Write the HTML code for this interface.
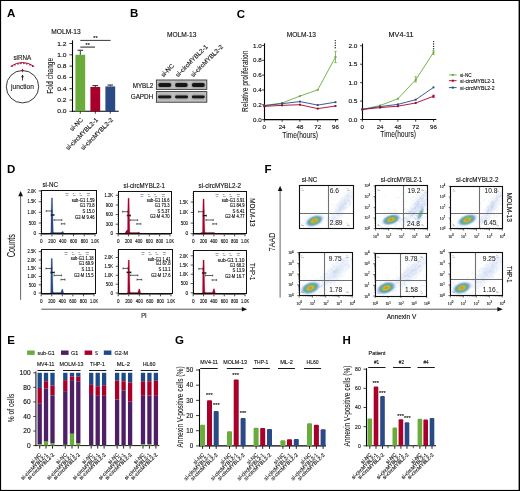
<!DOCTYPE html>
<html><head><meta charset="utf-8"><style>
html,body{margin:0;padding:0;background:#fff;width:520px;height:491px;overflow:hidden}
svg{display:block;will-change:transform}
text{font-family:"Liberation Sans", sans-serif}
</style></head><body>
<svg width="520" height="491" viewBox="0 0 520 491">
<rect width="520" height="491" fill="#fff"/>
<rect x="0" y="0" width="520" height="1" fill="#000"/>
<rect x="0" y="0" width="1.1" height="491" fill="#000"/>
<rect x="518.6" y="0" width="1.4" height="491" fill="#000"/>
<rect x="0" y="489.9" width="520" height="1.1" fill="#000"/>
<text x="6.9" y="16.7" font-size="11.5" text-anchor="start" fill="#000" font-weight="bold">A</text>
<text x="130" y="16.6" font-size="11.5" text-anchor="start" fill="#000" font-weight="bold">B</text>
<text x="236.8" y="17.6" font-size="11.5" text-anchor="start" fill="#000" font-weight="bold">C</text>
<text x="7" y="173.2" font-size="11.5" text-anchor="start" fill="#000" font-weight="bold">D</text>
<text x="7.2" y="343.8" font-size="11.5" text-anchor="start" fill="#000" font-weight="bold">E</text>
<text x="264.6" y="173.4" font-size="11.5" text-anchor="start" fill="#000" font-weight="bold">F</text>
<text x="175" y="344.2" font-size="11.5" text-anchor="start" fill="#000" font-weight="bold">G</text>
<text x="342.6" y="343.9" font-size="11.5" text-anchor="start" fill="#000" font-weight="bold">H</text>
<text x="22.3" y="60.3" font-size="6.6" text-anchor="middle" fill="#222" stroke="#222" stroke-width="0.13" textLength="17.8" lengthAdjust="spacingAndGlyphs">siRNA</text>
<path d="M10.6 66.4 Q22.4 58.6 34.2 66.4" fill="none" stroke="#a8002a" stroke-width="1.0"/>
<circle cx="12.07" cy="66.39" r="0.7" fill="#a8002a"/>
<circle cx="15.02" cy="64.92" r="0.7" fill="#a8002a"/>
<circle cx="17.98" cy="63.95" r="0.7" fill="#a8002a"/>
<circle cx="20.92" cy="63.46" r="0.7" fill="#a8002a"/>
<circle cx="23.88" cy="63.46" r="0.7" fill="#a8002a"/>
<circle cx="26.83" cy="63.95" r="0.7" fill="#a8002a"/>
<circle cx="29.77" cy="64.92" r="0.7" fill="#a8002a"/>
<circle cx="32.73" cy="66.39" r="0.7" fill="#a8002a"/>
<circle cx="22.5" cy="86.7" r="16.2" fill="none" stroke="#222" stroke-width="0.9"/>
<path d="M22.5 68.6 L23.6 70.6 L22.5 72.6 L21.4 70.6 Z" fill="#a8002a"/>
<path d="M22.5 74.4 L23.8 77.2 L22.9 77.2 L22.9 80.4 L22.1 80.4 L22.1 77.2 L21.2 77.2 Z" fill="#111"/>
<text x="22.5" y="89.4" font-size="6.8" text-anchor="middle" fill="#222" stroke="#222" stroke-width="0.13" textLength="23" lengthAdjust="spacingAndGlyphs">junction</text>
<text x="66" y="33.7" font-size="6.6" text-anchor="middle" fill="#111" stroke="#111" stroke-width="0.13" textLength="29.3" lengthAdjust="spacingAndGlyphs">MOLM-13</text>
<line x1="72.5" y1="40.4" x2="72.5" y2="111.5" stroke="#000" stroke-width="1.1"/>
<line x1="72" y1="111.3" x2="118.7" y2="111.3" stroke="#000" stroke-width="1.1"/>
<line x1="69.4" y1="111.3" x2="72.6" y2="111.3" stroke="#111" stroke-width="0.8"/>
<text x="66.6" y="113.35" font-size="5.8" text-anchor="end" fill="#111" stroke="#111" stroke-width="0.13" textLength="9.3" lengthAdjust="spacingAndGlyphs">0.0</text>
<line x1="69.4" y1="100" x2="72.6" y2="100" stroke="#111" stroke-width="0.8"/>
<text x="66.6" y="102.05" font-size="5.8" text-anchor="end" fill="#111" stroke="#111" stroke-width="0.13" textLength="9.3" lengthAdjust="spacingAndGlyphs">0.2</text>
<line x1="69.4" y1="88.7" x2="72.6" y2="88.7" stroke="#111" stroke-width="0.8"/>
<text x="66.6" y="90.75" font-size="5.8" text-anchor="end" fill="#111" stroke="#111" stroke-width="0.13" textLength="9.3" lengthAdjust="spacingAndGlyphs">0.4</text>
<line x1="69.4" y1="77.4" x2="72.6" y2="77.4" stroke="#111" stroke-width="0.8"/>
<text x="66.6" y="79.45" font-size="5.8" text-anchor="end" fill="#111" stroke="#111" stroke-width="0.13" textLength="9.3" lengthAdjust="spacingAndGlyphs">0.6</text>
<line x1="69.4" y1="66.1" x2="72.6" y2="66.1" stroke="#111" stroke-width="0.8"/>
<text x="66.6" y="68.15" font-size="5.8" text-anchor="end" fill="#111" stroke="#111" stroke-width="0.13" textLength="9.3" lengthAdjust="spacingAndGlyphs">0.8</text>
<line x1="69.4" y1="54.8" x2="72.6" y2="54.8" stroke="#111" stroke-width="0.8"/>
<text x="66.6" y="56.85" font-size="5.8" text-anchor="end" fill="#111" stroke="#111" stroke-width="0.13" textLength="9.3" lengthAdjust="spacingAndGlyphs">1.0</text>
<line x1="69.4" y1="43.5" x2="72.6" y2="43.5" stroke="#111" stroke-width="0.8"/>
<text x="66.6" y="45.55" font-size="5.8" text-anchor="end" fill="#111" stroke="#111" stroke-width="0.13" textLength="9.3" lengthAdjust="spacingAndGlyphs">1.2</text>
<text x="52.7" y="75.8" font-size="8.4" text-anchor="middle" fill="#111" stroke="#111" stroke-width="0.05" transform="rotate(-90 52.7 75.8)" textLength="35.8" lengthAdjust="spacingAndGlyphs">Fold change</text>
<rect x="75.4" y="54.8" width="9.8" height="56.5" fill="#6aab3c"/>
<line x1="80.3" y1="50.28" x2="80.3" y2="54.8" stroke="#333" stroke-width="1"/>
<line x1="77.5" y1="50.28" x2="83.1" y2="50.28" stroke="#333" stroke-width="1.1"/>
<line x1="80.3" y1="111.3" x2="80.3" y2="113.7" stroke="#111" stroke-width="0.8"/>
<rect x="90.4" y="87" width="9.8" height="24.3" fill="#a8002a"/>
<line x1="95.3" y1="85.59" x2="95.3" y2="87" stroke="#333" stroke-width="1"/>
<line x1="92.5" y1="85.59" x2="98.1" y2="85.59" stroke="#333" stroke-width="1.1"/>
<line x1="95.3" y1="111.3" x2="95.3" y2="113.7" stroke="#111" stroke-width="0.8"/>
<rect x="105.4" y="86.44" width="9.8" height="24.86" fill="#2a4a86"/>
<line x1="110.3" y1="85.03" x2="110.3" y2="86.44" stroke="#333" stroke-width="1"/>
<line x1="107.5" y1="85.03" x2="113.1" y2="85.03" stroke="#333" stroke-width="1.1"/>
<line x1="110.3" y1="111.3" x2="110.3" y2="113.7" stroke="#111" stroke-width="0.8"/>
<line x1="80.3" y1="40.4" x2="110.6" y2="40.4" stroke="#222" stroke-width="0.9"/>
<line x1="80.3" y1="47.1" x2="95" y2="47.1" stroke="#444" stroke-width="1.2"/>
<text x="95.4" y="40.3" font-size="5.4" text-anchor="middle" fill="#111" stroke="#111" stroke-width="0.13">**</text>
<text x="87.7" y="46.9" font-size="5.4" text-anchor="middle" fill="#111" stroke="#111" stroke-width="0.13">**</text>
<text x="83.5" y="120.4" font-size="6.3" text-anchor="end" fill="#111" stroke="#111" stroke-width="0.13" transform="rotate(-45 83.5 120.4)">si-NC</text>
<text x="98.5" y="120.4" font-size="6.3" text-anchor="end" fill="#111" stroke="#111" stroke-width="0.13" transform="rotate(-45 98.5 120.4)">si-circMYBL2-1</text>
<text x="113.5" y="120.4" font-size="6.3" text-anchor="end" fill="#111" stroke="#111" stroke-width="0.13" transform="rotate(-45 113.5 120.4)">si-circMYBL2-2</text>
<text x="181.7" y="37" font-size="6.8" text-anchor="middle" fill="#111" stroke="#111" stroke-width="0.13" textLength="29.4" lengthAdjust="spacingAndGlyphs">MOLM-13</text>
<text x="163.4" y="77.4" font-size="6.3" text-anchor="start" fill="#111" stroke="#111" stroke-width="0.13" transform="rotate(-45 163.4 77.4)">si-NC</text>
<text x="178" y="77.4" font-size="6.3" text-anchor="start" fill="#111" stroke="#111" stroke-width="0.13" transform="rotate(-45 178 77.4)">si-circMYBL2-1</text>
<text x="193.2" y="77.4" font-size="6.3" text-anchor="start" fill="#111" stroke="#111" stroke-width="0.13" transform="rotate(-45 193.2 77.4)">si-circMYBL2-2</text>
<defs><filter id="bl1" x="-20%" y="-80%" width="140%" height="260%"><feGaussianBlur stdDeviation="0.55"/></filter><filter id="bl2" x="-20%" y="-80%" width="140%" height="260%"><feGaussianBlur stdDeviation="1.1"/></filter></defs>
<rect x="156.4" y="80" width="50.4" height="9.4" fill="#c2c2c2" stroke="#333" stroke-width="0.9"/>
<rect x="156.4" y="91.6" width="50.4" height="10.6" fill="#c2c2c2" stroke="#333" stroke-width="0.9"/>
<rect x="158" y="82.2" width="13.6" height="5.6" rx="2.5" fill="#8a8a8a" filter="url(#bl2)"/>
<rect x="158.3" y="83.0" width="13" height="4.0" rx="2" fill="#141414" filter="url(#bl1)"/>
<rect x="174.8" y="82.2" width="13.2" height="5.6" rx="2.5" fill="#8a8a8a" filter="url(#bl2)"/>
<rect x="175.1" y="83.0" width="12.6" height="4.0" rx="2" fill="#141414" filter="url(#bl1)"/>
<rect x="191.5" y="82.2" width="13.6" height="5.6" rx="2.5" fill="#8a8a8a" filter="url(#bl2)"/>
<rect x="191.8" y="83.0" width="13" height="4.0" rx="2" fill="#141414" filter="url(#bl1)"/>
<rect x="157.8" y="94.8" width="13.8" height="4.2" rx="2" fill="#8a8a8a" filter="url(#bl2)"/>
<rect x="158.1" y="95.5" width="13.2" height="2.8" rx="1.4" fill="#141414" filter="url(#bl1)"/>
<rect x="174.8" y="94.8" width="13.5" height="4.2" rx="2" fill="#8a8a8a" filter="url(#bl2)"/>
<rect x="175.1" y="95.5" width="12.9" height="2.8" rx="1.4" fill="#141414" filter="url(#bl1)"/>
<rect x="191.5" y="94.8" width="13.5" height="4.2" rx="2" fill="#8a8a8a" filter="url(#bl2)"/>
<rect x="191.8" y="95.5" width="12.9" height="2.8" rx="1.4" fill="#141414" filter="url(#bl1)"/>
<text x="153.3" y="87.6" font-size="6.3" text-anchor="end" fill="#111" stroke="#111" stroke-width="0.13" textLength="20.6" lengthAdjust="spacingAndGlyphs">MYBL2</text>
<text x="153.3" y="99.2" font-size="6.3" text-anchor="end" fill="#111" stroke="#111" stroke-width="0.13" textLength="22.6" lengthAdjust="spacingAndGlyphs">GAPDH</text>
<line x1="264.5" y1="43.3" x2="264.5" y2="120.1" stroke="#000" stroke-width="1.1"/>
<line x1="264" y1="119.6" x2="338.3" y2="119.6" stroke="#000" stroke-width="1.1"/>
<line x1="262.1" y1="119.6" x2="264.3" y2="119.6" stroke="#111" stroke-width="0.8"/>
<text x="261.7" y="121.6" font-size="5.8" text-anchor="end" fill="#111" stroke="#111" stroke-width="0.13" textLength="8.7" lengthAdjust="spacingAndGlyphs">0.0</text>
<line x1="262.1" y1="104.78" x2="264.3" y2="104.78" stroke="#111" stroke-width="0.8"/>
<text x="261.7" y="106.78" font-size="5.8" text-anchor="end" fill="#111" stroke="#111" stroke-width="0.13" textLength="8.7" lengthAdjust="spacingAndGlyphs">0.2</text>
<line x1="262.1" y1="89.96" x2="264.3" y2="89.96" stroke="#111" stroke-width="0.8"/>
<text x="261.7" y="91.96" font-size="5.8" text-anchor="end" fill="#111" stroke="#111" stroke-width="0.13" textLength="8.7" lengthAdjust="spacingAndGlyphs">0.4</text>
<line x1="262.1" y1="75.14" x2="264.3" y2="75.14" stroke="#111" stroke-width="0.8"/>
<text x="261.7" y="77.14" font-size="5.8" text-anchor="end" fill="#111" stroke="#111" stroke-width="0.13" textLength="8.7" lengthAdjust="spacingAndGlyphs">0.6</text>
<line x1="262.1" y1="60.32" x2="264.3" y2="60.32" stroke="#111" stroke-width="0.8"/>
<text x="261.7" y="62.32" font-size="5.8" text-anchor="end" fill="#111" stroke="#111" stroke-width="0.13" textLength="8.7" lengthAdjust="spacingAndGlyphs">0.8</text>
<line x1="262.1" y1="45.5" x2="264.3" y2="45.5" stroke="#111" stroke-width="0.8"/>
<text x="261.7" y="47.5" font-size="5.8" text-anchor="end" fill="#111" stroke="#111" stroke-width="0.13" textLength="8.7" lengthAdjust="spacingAndGlyphs">1.0</text>
<line x1="264.3" y1="119.6" x2="264.3" y2="121.8" stroke="#111" stroke-width="0.8"/>
<text x="264.3" y="128.9" font-size="6" text-anchor="middle" fill="#111" stroke="#111" stroke-width="0.13" textLength="3.4" lengthAdjust="spacingAndGlyphs">0</text>
<line x1="282.1" y1="119.6" x2="282.1" y2="121.8" stroke="#111" stroke-width="0.8"/>
<text x="282.1" y="128.9" font-size="6" text-anchor="middle" fill="#111" stroke="#111" stroke-width="0.13" textLength="6.8" lengthAdjust="spacingAndGlyphs">24</text>
<line x1="299.9" y1="119.6" x2="299.9" y2="121.8" stroke="#111" stroke-width="0.8"/>
<text x="299.9" y="128.9" font-size="6" text-anchor="middle" fill="#111" stroke="#111" stroke-width="0.13" textLength="6.8" lengthAdjust="spacingAndGlyphs">48</text>
<line x1="317.7" y1="119.6" x2="317.7" y2="121.8" stroke="#111" stroke-width="0.8"/>
<text x="317.7" y="128.9" font-size="6" text-anchor="middle" fill="#111" stroke="#111" stroke-width="0.13" textLength="6.8" lengthAdjust="spacingAndGlyphs">72</text>
<line x1="335.5" y1="119.6" x2="335.5" y2="121.8" stroke="#111" stroke-width="0.8"/>
<text x="335.5" y="128.9" font-size="6" text-anchor="middle" fill="#111" stroke="#111" stroke-width="0.13" textLength="6.8" lengthAdjust="spacingAndGlyphs">96</text>
<text x="300.2" y="137.5" font-size="8.2" text-anchor="middle" fill="#111" stroke="#111" stroke-width="0.05" textLength="35.8" lengthAdjust="spacingAndGlyphs">Time(hours)</text>
<text x="301.3" y="36.8" font-size="6.8" text-anchor="middle" fill="#111" stroke="#111" stroke-width="0.13" textLength="29.3" lengthAdjust="spacingAndGlyphs">MOLM-13</text>
<polyline points="264.3,105.6 282.1,103 299.9,96.11 317.7,89.89 335.5,56.99" fill="none" stroke="#6aab3c" stroke-width="0.9"/>
<rect x="263.35" y="104.65" width="1.9" height="1.9" fill="#6aab3c"/>
<rect x="281.15" y="102.05" width="1.9" height="1.9" fill="#6aab3c"/>
<rect x="298.95" y="95.16" width="1.9" height="1.9" fill="#6aab3c"/>
<rect x="316.75" y="88.94" width="1.9" height="1.9" fill="#6aab3c"/>
<rect x="334.55" y="56.04" width="1.9" height="1.9" fill="#6aab3c"/>
<polyline points="264.3,105.6 282.1,103.67 299.9,101.59 317.7,105.08 335.5,102.19" fill="none" stroke="#2a4a86" stroke-width="0.9"/>
<rect x="263.35" y="104.65" width="1.9" height="1.9" fill="#2a4a86"/>
<rect x="281.15" y="102.72" width="1.9" height="1.9" fill="#2a4a86"/>
<rect x="298.95" y="100.64" width="1.9" height="1.9" fill="#2a4a86"/>
<rect x="316.75" y="104.13" width="1.9" height="1.9" fill="#2a4a86"/>
<rect x="334.55" y="101.24" width="1.9" height="1.9" fill="#2a4a86"/>
<polyline points="264.3,106.34 282.1,105.37 299.9,104.71 317.7,108.63 335.5,105.97" fill="none" stroke="#a8002a" stroke-width="0.9"/>
<rect x="263.35" y="105.39" width="1.9" height="1.9" fill="#a8002a"/>
<rect x="281.15" y="104.42" width="1.9" height="1.9" fill="#a8002a"/>
<rect x="298.95" y="103.76" width="1.9" height="1.9" fill="#a8002a"/>
<rect x="316.75" y="107.68" width="1.9" height="1.9" fill="#a8002a"/>
<rect x="334.55" y="105.02" width="1.9" height="1.9" fill="#a8002a"/>
<line x1="335.5" y1="51.35" x2="335.5" y2="62.62" stroke="#6aab3c" stroke-width="0.8"/>
<line x1="334.3" y1="51.35" x2="336.7" y2="51.35" stroke="#6aab3c" stroke-width="0.8"/>
<line x1="334.3" y1="62.62" x2="336.7" y2="62.62" stroke="#6aab3c" stroke-width="0.8"/>
<circle cx="335.3" cy="40.6" r="0.72" fill="#222"/>
<circle cx="335.3" cy="43" r="0.72" fill="#222"/>
<circle cx="335.3" cy="45.4" r="0.72" fill="#222"/>
<circle cx="335.3" cy="47.8" r="0.72" fill="#222"/>
<line x1="362.5" y1="43.6" x2="362.5" y2="120" stroke="#000" stroke-width="1.1"/>
<line x1="362" y1="119.5" x2="436.3" y2="119.5" stroke="#000" stroke-width="1.1"/>
<line x1="360.1" y1="119.5" x2="362.3" y2="119.5" stroke="#111" stroke-width="0.8"/>
<text x="357.4" y="121.5" font-size="5.8" text-anchor="end" fill="#111" stroke="#111" stroke-width="0.13" textLength="9" lengthAdjust="spacingAndGlyphs">0.0</text>
<line x1="360.1" y1="101.08" x2="362.3" y2="101.08" stroke="#111" stroke-width="0.8"/>
<text x="357.4" y="103.08" font-size="5.8" text-anchor="end" fill="#111" stroke="#111" stroke-width="0.13" textLength="9" lengthAdjust="spacingAndGlyphs">0.5</text>
<line x1="360.1" y1="82.65" x2="362.3" y2="82.65" stroke="#111" stroke-width="0.8"/>
<text x="357.4" y="84.65" font-size="5.8" text-anchor="end" fill="#111" stroke="#111" stroke-width="0.13" textLength="9" lengthAdjust="spacingAndGlyphs">1.0</text>
<line x1="360.1" y1="64.22" x2="362.3" y2="64.22" stroke="#111" stroke-width="0.8"/>
<text x="357.4" y="66.22" font-size="5.8" text-anchor="end" fill="#111" stroke="#111" stroke-width="0.13" textLength="9" lengthAdjust="spacingAndGlyphs">1.5</text>
<line x1="360.1" y1="45.8" x2="362.3" y2="45.8" stroke="#111" stroke-width="0.8"/>
<text x="357.4" y="47.8" font-size="5.8" text-anchor="end" fill="#111" stroke="#111" stroke-width="0.13" textLength="9" lengthAdjust="spacingAndGlyphs">2.0</text>
<line x1="362.3" y1="119.5" x2="362.3" y2="121.7" stroke="#111" stroke-width="0.8"/>
<text x="362.3" y="128.8" font-size="6" text-anchor="middle" fill="#111" stroke="#111" stroke-width="0.13" textLength="3.4" lengthAdjust="spacingAndGlyphs">0</text>
<line x1="380.1" y1="119.5" x2="380.1" y2="121.7" stroke="#111" stroke-width="0.8"/>
<text x="380.1" y="128.8" font-size="6" text-anchor="middle" fill="#111" stroke="#111" stroke-width="0.13" textLength="6.8" lengthAdjust="spacingAndGlyphs">24</text>
<line x1="397.9" y1="119.5" x2="397.9" y2="121.7" stroke="#111" stroke-width="0.8"/>
<text x="397.9" y="128.8" font-size="6" text-anchor="middle" fill="#111" stroke="#111" stroke-width="0.13" textLength="6.8" lengthAdjust="spacingAndGlyphs">48</text>
<line x1="415.7" y1="119.5" x2="415.7" y2="121.7" stroke="#111" stroke-width="0.8"/>
<text x="415.7" y="128.8" font-size="6" text-anchor="middle" fill="#111" stroke="#111" stroke-width="0.13" textLength="6.8" lengthAdjust="spacingAndGlyphs">72</text>
<line x1="433.5" y1="119.5" x2="433.5" y2="121.7" stroke="#111" stroke-width="0.8"/>
<text x="433.5" y="128.8" font-size="6" text-anchor="middle" fill="#111" stroke="#111" stroke-width="0.13" textLength="6.8" lengthAdjust="spacingAndGlyphs">96</text>
<text x="398.2" y="137.4" font-size="8.2" text-anchor="middle" fill="#111" stroke="#111" stroke-width="0.05" textLength="35.8" lengthAdjust="spacingAndGlyphs">Time(hours)</text>
<text x="401" y="36.8" font-size="6.8" text-anchor="middle" fill="#111" stroke="#111" stroke-width="0.13" textLength="24.9" lengthAdjust="spacingAndGlyphs">MV4-11</text>
<polyline points="362.3,109.4 380.1,105.5 397.9,98.72 415.7,79.89 433.5,52.51" fill="none" stroke="#6aab3c" stroke-width="0.9"/>
<rect x="361.35" y="108.45" width="1.9" height="1.9" fill="#6aab3c"/>
<rect x="379.15" y="104.55" width="1.9" height="1.9" fill="#6aab3c"/>
<rect x="396.95" y="97.77" width="1.9" height="1.9" fill="#6aab3c"/>
<rect x="414.75" y="78.94" width="1.9" height="1.9" fill="#6aab3c"/>
<rect x="432.55" y="51.56" width="1.9" height="1.9" fill="#6aab3c"/>
<polyline points="362.3,109.4 380.1,106.6 397.9,104.39 415.7,99.71 433.5,87.4" fill="none" stroke="#2a4a86" stroke-width="0.9"/>
<rect x="361.35" y="108.45" width="1.9" height="1.9" fill="#2a4a86"/>
<rect x="379.15" y="105.65" width="1.9" height="1.9" fill="#2a4a86"/>
<rect x="396.95" y="103.44" width="1.9" height="1.9" fill="#2a4a86"/>
<rect x="414.75" y="98.76" width="1.9" height="1.9" fill="#2a4a86"/>
<rect x="432.55" y="86.45" width="1.9" height="1.9" fill="#2a4a86"/>
<polyline points="362.3,109.4 380.1,107.6 397.9,106.2 415.7,102.99 433.5,96.28" fill="none" stroke="#a8002a" stroke-width="0.9"/>
<rect x="361.35" y="108.45" width="1.9" height="1.9" fill="#a8002a"/>
<rect x="379.15" y="106.65" width="1.9" height="1.9" fill="#a8002a"/>
<rect x="396.95" y="105.25" width="1.9" height="1.9" fill="#a8002a"/>
<rect x="414.75" y="102.04" width="1.9" height="1.9" fill="#a8002a"/>
<rect x="432.55" y="95.33" width="1.9" height="1.9" fill="#a8002a"/>
<line x1="433.5" y1="50.66" x2="433.5" y2="54.35" stroke="#6aab3c" stroke-width="0.8"/>
<line x1="432.3" y1="50.66" x2="434.7" y2="50.66" stroke="#6aab3c" stroke-width="0.8"/>
<line x1="432.3" y1="54.35" x2="434.7" y2="54.35" stroke="#6aab3c" stroke-width="0.8"/>
<line x1="415.7" y1="76.75" x2="415.7" y2="81.91" stroke="#6aab3c" stroke-width="0.8"/>
<line x1="414.5" y1="76.75" x2="416.9" y2="76.75" stroke="#6aab3c" stroke-width="0.8"/>
<line x1="414.5" y1="81.91" x2="416.9" y2="81.91" stroke="#6aab3c" stroke-width="0.8"/>
<line x1="433.5" y1="95.18" x2="433.5" y2="97.39" stroke="#a8002a" stroke-width="0.8"/>
<line x1="432.3" y1="95.18" x2="434.7" y2="95.18" stroke="#a8002a" stroke-width="0.8"/>
<line x1="432.3" y1="97.39" x2="434.7" y2="97.39" stroke="#a8002a" stroke-width="0.8"/>
<circle cx="433.6" cy="41.6" r="0.72" fill="#222"/>
<circle cx="433.6" cy="44" r="0.72" fill="#222"/>
<circle cx="433.6" cy="46.4" r="0.72" fill="#222"/>
<circle cx="433.6" cy="48.8" r="0.72" fill="#222"/>
<text x="247.7" y="81.2" font-size="8.2" text-anchor="middle" fill="#111" stroke="#111" stroke-width="0.05" transform="rotate(-90 247.7 81.2)" textLength="61.4" lengthAdjust="spacingAndGlyphs">Relative proliferation</text>
<line x1="448.9" y1="74.9" x2="456.6" y2="74.9" stroke="#6aab3c" stroke-width="0.9"/>
<rect x="451.8" y="73.9" width="2" height="2" fill="#6aab3c"/>
<text x="460" y="76.9" font-size="5.6" text-anchor="start" fill="#111" stroke="#111" stroke-width="0.13" textLength="11.6" lengthAdjust="spacingAndGlyphs">si-NC</text>
<line x1="448.9" y1="80.7" x2="456.6" y2="80.7" stroke="#a8002a" stroke-width="0.9"/>
<rect x="451.8" y="79.7" width="2" height="2" fill="#a8002a"/>
<text x="460" y="82.7" font-size="5.6" text-anchor="start" fill="#111" stroke="#111" stroke-width="0.13" textLength="34.6" lengthAdjust="spacingAndGlyphs">si-circMYBL2-1</text>
<line x1="448.9" y1="87.6" x2="456.6" y2="87.6" stroke="#2a4a86" stroke-width="0.9"/>
<rect x="451.8" y="86.6" width="2" height="2" fill="#2a4a86"/>
<text x="460" y="89.6" font-size="5.6" text-anchor="start" fill="#111" stroke="#111" stroke-width="0.13" textLength="34.6" lengthAdjust="spacingAndGlyphs">si-circMYBL2-2</text>
<text x="50.3" y="186.9" font-size="6.3" text-anchor="middle" fill="#111" stroke="#111" stroke-width="0.13" textLength="15.6" lengthAdjust="spacingAndGlyphs">si-NC</text>
<path d="M41.2 233.4 L50.08 233.4 L50.88 231.9 L51.06 213.88 L51.41 197.9 L52.51 197.9 L52.86 215.65 L53.31 231.9 L54.38 232.4 L61.64 232.5 L61.22 232.5 L62.32 231.4 L63.12 231.4 L64.32 233.9 L95 233.9 Z" fill="#2a4a86" stroke="#2a4a86" stroke-width="0.25"/>
<rect x="41.5" y="190.5" width="55" height="43" fill="none" stroke="#111" stroke-width="1.0"/>
<line x1="41.2" y1="233.5" x2="41.2" y2="236.3" stroke="#111" stroke-width="0.8"/>
<line x1="42.28" y1="233.5" x2="42.28" y2="235" stroke="#111" stroke-width="0.6"/>
<line x1="43.35" y1="233.5" x2="43.35" y2="235" stroke="#111" stroke-width="0.6"/>
<line x1="44.43" y1="233.5" x2="44.43" y2="235" stroke="#111" stroke-width="0.6"/>
<line x1="45.5" y1="233.5" x2="45.5" y2="235" stroke="#111" stroke-width="0.6"/>
<line x1="46.58" y1="233.5" x2="46.58" y2="235" stroke="#111" stroke-width="0.6"/>
<line x1="47.66" y1="233.5" x2="47.66" y2="235" stroke="#111" stroke-width="0.6"/>
<line x1="48.73" y1="233.5" x2="48.73" y2="235" stroke="#111" stroke-width="0.6"/>
<line x1="49.81" y1="233.5" x2="49.81" y2="235" stroke="#111" stroke-width="0.6"/>
<line x1="50.88" y1="233.5" x2="50.88" y2="235" stroke="#111" stroke-width="0.6"/>
<line x1="51.96" y1="233.5" x2="51.96" y2="236.3" stroke="#111" stroke-width="0.8"/>
<line x1="53.04" y1="233.5" x2="53.04" y2="235" stroke="#111" stroke-width="0.6"/>
<line x1="54.11" y1="233.5" x2="54.11" y2="235" stroke="#111" stroke-width="0.6"/>
<line x1="55.19" y1="233.5" x2="55.19" y2="235" stroke="#111" stroke-width="0.6"/>
<line x1="56.26" y1="233.5" x2="56.26" y2="235" stroke="#111" stroke-width="0.6"/>
<line x1="57.34" y1="233.5" x2="57.34" y2="235" stroke="#111" stroke-width="0.6"/>
<line x1="58.42" y1="233.5" x2="58.42" y2="235" stroke="#111" stroke-width="0.6"/>
<line x1="59.49" y1="233.5" x2="59.49" y2="235" stroke="#111" stroke-width="0.6"/>
<line x1="60.57" y1="233.5" x2="60.57" y2="235" stroke="#111" stroke-width="0.6"/>
<line x1="61.64" y1="233.5" x2="61.64" y2="235" stroke="#111" stroke-width="0.6"/>
<line x1="62.72" y1="233.5" x2="62.72" y2="236.3" stroke="#111" stroke-width="0.8"/>
<line x1="63.8" y1="233.5" x2="63.8" y2="235" stroke="#111" stroke-width="0.6"/>
<line x1="64.87" y1="233.5" x2="64.87" y2="235" stroke="#111" stroke-width="0.6"/>
<line x1="65.95" y1="233.5" x2="65.95" y2="235" stroke="#111" stroke-width="0.6"/>
<line x1="67.02" y1="233.5" x2="67.02" y2="235" stroke="#111" stroke-width="0.6"/>
<line x1="68.1" y1="233.5" x2="68.1" y2="235" stroke="#111" stroke-width="0.6"/>
<line x1="69.18" y1="233.5" x2="69.18" y2="235" stroke="#111" stroke-width="0.6"/>
<line x1="70.25" y1="233.5" x2="70.25" y2="235" stroke="#111" stroke-width="0.6"/>
<line x1="71.33" y1="233.5" x2="71.33" y2="235" stroke="#111" stroke-width="0.6"/>
<line x1="72.4" y1="233.5" x2="72.4" y2="235" stroke="#111" stroke-width="0.6"/>
<line x1="73.48" y1="233.5" x2="73.48" y2="236.3" stroke="#111" stroke-width="0.8"/>
<line x1="74.56" y1="233.5" x2="74.56" y2="235" stroke="#111" stroke-width="0.6"/>
<line x1="75.63" y1="233.5" x2="75.63" y2="235" stroke="#111" stroke-width="0.6"/>
<line x1="76.71" y1="233.5" x2="76.71" y2="235" stroke="#111" stroke-width="0.6"/>
<line x1="77.78" y1="233.5" x2="77.78" y2="235" stroke="#111" stroke-width="0.6"/>
<line x1="78.86" y1="233.5" x2="78.86" y2="235" stroke="#111" stroke-width="0.6"/>
<line x1="79.94" y1="233.5" x2="79.94" y2="235" stroke="#111" stroke-width="0.6"/>
<line x1="81.01" y1="233.5" x2="81.01" y2="235" stroke="#111" stroke-width="0.6"/>
<line x1="82.09" y1="233.5" x2="82.09" y2="235" stroke="#111" stroke-width="0.6"/>
<line x1="83.16" y1="233.5" x2="83.16" y2="235" stroke="#111" stroke-width="0.6"/>
<line x1="84.24" y1="233.5" x2="84.24" y2="236.3" stroke="#111" stroke-width="0.8"/>
<line x1="85.32" y1="233.5" x2="85.32" y2="235" stroke="#111" stroke-width="0.6"/>
<line x1="86.39" y1="233.5" x2="86.39" y2="235" stroke="#111" stroke-width="0.6"/>
<line x1="87.47" y1="233.5" x2="87.47" y2="235" stroke="#111" stroke-width="0.6"/>
<line x1="88.54" y1="233.5" x2="88.54" y2="235" stroke="#111" stroke-width="0.6"/>
<line x1="89.62" y1="233.5" x2="89.62" y2="235" stroke="#111" stroke-width="0.6"/>
<line x1="90.7" y1="233.5" x2="90.7" y2="235" stroke="#111" stroke-width="0.6"/>
<line x1="91.77" y1="233.5" x2="91.77" y2="235" stroke="#111" stroke-width="0.6"/>
<line x1="92.85" y1="233.5" x2="92.85" y2="235" stroke="#111" stroke-width="0.6"/>
<line x1="93.92" y1="233.5" x2="93.92" y2="235" stroke="#111" stroke-width="0.6"/>
<line x1="95" y1="233.5" x2="95" y2="236.3" stroke="#111" stroke-width="0.8"/>
<text x="41.2" y="243" font-size="4.9" text-anchor="middle" fill="#111" stroke="#111" stroke-width="0.13" textLength="2.6" lengthAdjust="spacingAndGlyphs">0</text>
<text x="51.96" y="243" font-size="4.9" text-anchor="middle" fill="#111" stroke="#111" stroke-width="0.13" textLength="7.2" lengthAdjust="spacingAndGlyphs">200</text>
<text x="62.72" y="243" font-size="4.9" text-anchor="middle" fill="#111" stroke="#111" stroke-width="0.13" textLength="7.2" lengthAdjust="spacingAndGlyphs">400</text>
<text x="73.48" y="243" font-size="4.9" text-anchor="middle" fill="#111" stroke="#111" stroke-width="0.13" textLength="7.2" lengthAdjust="spacingAndGlyphs">600</text>
<text x="84.24" y="243" font-size="4.9" text-anchor="middle" fill="#111" stroke="#111" stroke-width="0.13" textLength="7.2" lengthAdjust="spacingAndGlyphs">800</text>
<text x="95" y="243" font-size="4.9" text-anchor="middle" fill="#111" stroke="#111" stroke-width="0.13" textLength="8" lengthAdjust="spacingAndGlyphs">1.0K</text>
<line x1="38.7" y1="233.6" x2="41.5" y2="233.6" stroke="#111" stroke-width="0.7"/>
<text x="36" y="235.35" font-size="4.9" text-anchor="end" fill="#111" stroke="#111" stroke-width="0.13" textLength="2.6" lengthAdjust="spacingAndGlyphs">0</text>
<line x1="38.7" y1="223" x2="41.5" y2="223" stroke="#111" stroke-width="0.7"/>
<text x="36" y="224.75" font-size="4.9" text-anchor="end" fill="#111" stroke="#111" stroke-width="0.13" textLength="7.2" lengthAdjust="spacingAndGlyphs">500</text>
<line x1="38.7" y1="212.3" x2="41.5" y2="212.3" stroke="#111" stroke-width="0.7"/>
<text x="36" y="214.05" font-size="4.9" text-anchor="end" fill="#111" stroke="#111" stroke-width="0.13" textLength="8.4" lengthAdjust="spacingAndGlyphs">1.0K</text>
<line x1="38.7" y1="201.7" x2="41.5" y2="201.7" stroke="#111" stroke-width="0.7"/>
<text x="36" y="203.45" font-size="4.9" text-anchor="end" fill="#111" stroke="#111" stroke-width="0.13" textLength="8.4" lengthAdjust="spacingAndGlyphs">1.5K</text>
<line x1="38.7" y1="190.9" x2="41.5" y2="190.9" stroke="#111" stroke-width="0.7"/>
<text x="36" y="192.65" font-size="4.9" text-anchor="end" fill="#111" stroke="#111" stroke-width="0.13" textLength="8.4" lengthAdjust="spacingAndGlyphs">2.0K</text>
<line x1="40.4" y1="233.6" x2="41.5" y2="233.6" stroke="#111" stroke-width="0.45"/>
<line x1="40.4" y1="231.48" x2="41.5" y2="231.48" stroke="#111" stroke-width="0.45"/>
<line x1="40.4" y1="229.36" x2="41.5" y2="229.36" stroke="#111" stroke-width="0.45"/>
<line x1="40.4" y1="227.24" x2="41.5" y2="227.24" stroke="#111" stroke-width="0.45"/>
<line x1="40.4" y1="225.12" x2="41.5" y2="225.12" stroke="#111" stroke-width="0.45"/>
<line x1="40.4" y1="223" x2="41.5" y2="223" stroke="#111" stroke-width="0.45"/>
<line x1="40.4" y1="220.88" x2="41.5" y2="220.88" stroke="#111" stroke-width="0.45"/>
<line x1="40.4" y1="218.76" x2="41.5" y2="218.76" stroke="#111" stroke-width="0.45"/>
<line x1="40.4" y1="216.64" x2="41.5" y2="216.64" stroke="#111" stroke-width="0.45"/>
<line x1="40.4" y1="214.52" x2="41.5" y2="214.52" stroke="#111" stroke-width="0.45"/>
<line x1="40.4" y1="212.4" x2="41.5" y2="212.4" stroke="#111" stroke-width="0.45"/>
<line x1="40.4" y1="210.28" x2="41.5" y2="210.28" stroke="#111" stroke-width="0.45"/>
<line x1="40.4" y1="208.16" x2="41.5" y2="208.16" stroke="#111" stroke-width="0.45"/>
<line x1="40.4" y1="206.04" x2="41.5" y2="206.04" stroke="#111" stroke-width="0.45"/>
<line x1="40.4" y1="203.92" x2="41.5" y2="203.92" stroke="#111" stroke-width="0.45"/>
<line x1="40.4" y1="201.8" x2="41.5" y2="201.8" stroke="#111" stroke-width="0.45"/>
<line x1="40.4" y1="199.68" x2="41.5" y2="199.68" stroke="#111" stroke-width="0.45"/>
<line x1="40.4" y1="197.56" x2="41.5" y2="197.56" stroke="#111" stroke-width="0.45"/>
<line x1="40.4" y1="195.44" x2="41.5" y2="195.44" stroke="#111" stroke-width="0.45"/>
<line x1="40.4" y1="193.32" x2="41.5" y2="193.32" stroke="#111" stroke-width="0.45"/>
<line x1="40.4" y1="191.2" x2="41.5" y2="191.2" stroke="#111" stroke-width="0.45"/>
<rect x="65.4" y="193.1" width="3.2" height="0.7" fill="#777"/>
<rect x="65.7" y="195.1" width="2.6" height="0.7" fill="#888"/>
<rect x="72.7" y="193.1" width="1.6" height="0.7" fill="#777"/>
<rect x="73" y="195.1" width="2.6" height="0.7" fill="#888"/>
<rect x="79.3" y="193.1" width="1.6" height="0.7" fill="#777"/>
<rect x="79.6" y="195.1" width="2.6" height="0.7" fill="#888"/>
<rect x="86.7" y="193.1" width="3.2" height="0.7" fill="#777"/>
<rect x="87" y="195.1" width="2.6" height="0.7" fill="#888"/>
<text x="94.5" y="201.9" font-size="4.6" text-anchor="end" fill="#111" stroke="#111" stroke-width="0.13" textLength="22.78" lengthAdjust="spacingAndGlyphs">sub-G1 1.59</text>
<text x="94.5" y="207" font-size="4.6" text-anchor="end" fill="#111" stroke="#111" stroke-width="0.13" textLength="14.73" lengthAdjust="spacingAndGlyphs">G1 73.8</text>
<text x="94.5" y="212.6" font-size="4.6" text-anchor="end" fill="#111" stroke="#111" stroke-width="0.13" textLength="11.97" lengthAdjust="spacingAndGlyphs">S 15.0</text>
<text x="94.5" y="218.8" font-size="4.6" text-anchor="end" fill="#111" stroke="#111" stroke-width="0.13" textLength="19.56" lengthAdjust="spacingAndGlyphs">G2-M 9.46</text>
<line x1="46.3" y1="211" x2="51.7" y2="211" stroke="#1a1a1a" stroke-width="0.7"/>
<line x1="46.3" y1="210" x2="46.3" y2="212" stroke="#1a1a1a" stroke-width="0.6"/>
<line x1="51.7" y1="210" x2="51.7" y2="212" stroke="#1a1a1a" stroke-width="0.6"/>
<line x1="51.2" y1="215" x2="54.1" y2="215" stroke="#1a1a1a" stroke-width="1.3"/>
<line x1="51.2" y1="214" x2="51.2" y2="216" stroke="#1a1a1a" stroke-width="0.6"/>
<line x1="54.1" y1="214" x2="54.1" y2="216" stroke="#1a1a1a" stroke-width="0.6"/>
<line x1="54.1" y1="220" x2="61.8" y2="220" stroke="#1a1a1a" stroke-width="0.7"/>
<line x1="54.1" y1="219" x2="54.1" y2="221" stroke="#1a1a1a" stroke-width="0.6"/>
<line x1="61.8" y1="219" x2="61.8" y2="221" stroke="#1a1a1a" stroke-width="0.6"/>
<line x1="61.3" y1="223.8" x2="64.8" y2="223.8" stroke="#1a1a1a" stroke-width="0.7"/>
<line x1="61.3" y1="222.8" x2="61.3" y2="224.8" stroke="#1a1a1a" stroke-width="0.6"/>
<line x1="64.8" y1="222.8" x2="64.8" y2="224.8" stroke="#1a1a1a" stroke-width="0.6"/>
<text x="144.3" y="187.9" font-size="6.3" text-anchor="middle" fill="#111" stroke="#111" stroke-width="0.13" textLength="41.4" lengthAdjust="spacingAndGlyphs">si-circMYBL2-1</text>
<path d="M118.2 233.4 L124.42 233.4 L125.45 232.28 L126.49 230.6 L127.52 229.8 L127.66 214.04 L128.01 198.2 L129.11 198.2 L129.46 215.8 L129.85 231.9 L130.89 232.4 L137.88 232.5 L137.42 232.5 L138.52 232.2 L139.32 232.2 L140.52 233.9 L170 233.9 Z" fill="#a8002a" stroke="#a8002a" stroke-width="0.25"/>
<rect x="118.5" y="191.5" width="53" height="42" fill="none" stroke="#111" stroke-width="1.0"/>
<line x1="118.2" y1="233.5" x2="118.2" y2="236.3" stroke="#111" stroke-width="0.8"/>
<line x1="119.24" y1="233.5" x2="119.24" y2="235" stroke="#111" stroke-width="0.6"/>
<line x1="120.27" y1="233.5" x2="120.27" y2="235" stroke="#111" stroke-width="0.6"/>
<line x1="121.31" y1="233.5" x2="121.31" y2="235" stroke="#111" stroke-width="0.6"/>
<line x1="122.34" y1="233.5" x2="122.34" y2="235" stroke="#111" stroke-width="0.6"/>
<line x1="123.38" y1="233.5" x2="123.38" y2="235" stroke="#111" stroke-width="0.6"/>
<line x1="124.42" y1="233.5" x2="124.42" y2="235" stroke="#111" stroke-width="0.6"/>
<line x1="125.45" y1="233.5" x2="125.45" y2="235" stroke="#111" stroke-width="0.6"/>
<line x1="126.49" y1="233.5" x2="126.49" y2="235" stroke="#111" stroke-width="0.6"/>
<line x1="127.52" y1="233.5" x2="127.52" y2="235" stroke="#111" stroke-width="0.6"/>
<line x1="128.56" y1="233.5" x2="128.56" y2="236.3" stroke="#111" stroke-width="0.8"/>
<line x1="129.6" y1="233.5" x2="129.6" y2="235" stroke="#111" stroke-width="0.6"/>
<line x1="130.63" y1="233.5" x2="130.63" y2="235" stroke="#111" stroke-width="0.6"/>
<line x1="131.67" y1="233.5" x2="131.67" y2="235" stroke="#111" stroke-width="0.6"/>
<line x1="132.7" y1="233.5" x2="132.7" y2="235" stroke="#111" stroke-width="0.6"/>
<line x1="133.74" y1="233.5" x2="133.74" y2="235" stroke="#111" stroke-width="0.6"/>
<line x1="134.78" y1="233.5" x2="134.78" y2="235" stroke="#111" stroke-width="0.6"/>
<line x1="135.81" y1="233.5" x2="135.81" y2="235" stroke="#111" stroke-width="0.6"/>
<line x1="136.85" y1="233.5" x2="136.85" y2="235" stroke="#111" stroke-width="0.6"/>
<line x1="137.88" y1="233.5" x2="137.88" y2="235" stroke="#111" stroke-width="0.6"/>
<line x1="138.92" y1="233.5" x2="138.92" y2="236.3" stroke="#111" stroke-width="0.8"/>
<line x1="139.96" y1="233.5" x2="139.96" y2="235" stroke="#111" stroke-width="0.6"/>
<line x1="140.99" y1="233.5" x2="140.99" y2="235" stroke="#111" stroke-width="0.6"/>
<line x1="142.03" y1="233.5" x2="142.03" y2="235" stroke="#111" stroke-width="0.6"/>
<line x1="143.06" y1="233.5" x2="143.06" y2="235" stroke="#111" stroke-width="0.6"/>
<line x1="144.1" y1="233.5" x2="144.1" y2="235" stroke="#111" stroke-width="0.6"/>
<line x1="145.14" y1="233.5" x2="145.14" y2="235" stroke="#111" stroke-width="0.6"/>
<line x1="146.17" y1="233.5" x2="146.17" y2="235" stroke="#111" stroke-width="0.6"/>
<line x1="147.21" y1="233.5" x2="147.21" y2="235" stroke="#111" stroke-width="0.6"/>
<line x1="148.24" y1="233.5" x2="148.24" y2="235" stroke="#111" stroke-width="0.6"/>
<line x1="149.28" y1="233.5" x2="149.28" y2="236.3" stroke="#111" stroke-width="0.8"/>
<line x1="150.32" y1="233.5" x2="150.32" y2="235" stroke="#111" stroke-width="0.6"/>
<line x1="151.35" y1="233.5" x2="151.35" y2="235" stroke="#111" stroke-width="0.6"/>
<line x1="152.39" y1="233.5" x2="152.39" y2="235" stroke="#111" stroke-width="0.6"/>
<line x1="153.42" y1="233.5" x2="153.42" y2="235" stroke="#111" stroke-width="0.6"/>
<line x1="154.46" y1="233.5" x2="154.46" y2="235" stroke="#111" stroke-width="0.6"/>
<line x1="155.5" y1="233.5" x2="155.5" y2="235" stroke="#111" stroke-width="0.6"/>
<line x1="156.53" y1="233.5" x2="156.53" y2="235" stroke="#111" stroke-width="0.6"/>
<line x1="157.57" y1="233.5" x2="157.57" y2="235" stroke="#111" stroke-width="0.6"/>
<line x1="158.6" y1="233.5" x2="158.6" y2="235" stroke="#111" stroke-width="0.6"/>
<line x1="159.64" y1="233.5" x2="159.64" y2="236.3" stroke="#111" stroke-width="0.8"/>
<line x1="160.68" y1="233.5" x2="160.68" y2="235" stroke="#111" stroke-width="0.6"/>
<line x1="161.71" y1="233.5" x2="161.71" y2="235" stroke="#111" stroke-width="0.6"/>
<line x1="162.75" y1="233.5" x2="162.75" y2="235" stroke="#111" stroke-width="0.6"/>
<line x1="163.78" y1="233.5" x2="163.78" y2="235" stroke="#111" stroke-width="0.6"/>
<line x1="164.82" y1="233.5" x2="164.82" y2="235" stroke="#111" stroke-width="0.6"/>
<line x1="165.86" y1="233.5" x2="165.86" y2="235" stroke="#111" stroke-width="0.6"/>
<line x1="166.89" y1="233.5" x2="166.89" y2="235" stroke="#111" stroke-width="0.6"/>
<line x1="167.93" y1="233.5" x2="167.93" y2="235" stroke="#111" stroke-width="0.6"/>
<line x1="168.96" y1="233.5" x2="168.96" y2="235" stroke="#111" stroke-width="0.6"/>
<line x1="170" y1="233.5" x2="170" y2="236.3" stroke="#111" stroke-width="0.8"/>
<text x="118.2" y="243" font-size="4.9" text-anchor="middle" fill="#111" stroke="#111" stroke-width="0.13" textLength="2.6" lengthAdjust="spacingAndGlyphs">0</text>
<text x="128.56" y="243" font-size="4.9" text-anchor="middle" fill="#111" stroke="#111" stroke-width="0.13" textLength="7.2" lengthAdjust="spacingAndGlyphs">200</text>
<text x="138.92" y="243" font-size="4.9" text-anchor="middle" fill="#111" stroke="#111" stroke-width="0.13" textLength="7.2" lengthAdjust="spacingAndGlyphs">400</text>
<text x="149.28" y="243" font-size="4.9" text-anchor="middle" fill="#111" stroke="#111" stroke-width="0.13" textLength="7.2" lengthAdjust="spacingAndGlyphs">600</text>
<text x="159.64" y="243" font-size="4.9" text-anchor="middle" fill="#111" stroke="#111" stroke-width="0.13" textLength="7.2" lengthAdjust="spacingAndGlyphs">800</text>
<text x="170" y="243" font-size="4.9" text-anchor="middle" fill="#111" stroke="#111" stroke-width="0.13" textLength="8" lengthAdjust="spacingAndGlyphs">1.0K</text>
<line x1="115.7" y1="233.7" x2="118.5" y2="233.7" stroke="#111" stroke-width="0.7"/>
<text x="113" y="235.45" font-size="4.9" text-anchor="end" fill="#111" stroke="#111" stroke-width="0.13" textLength="2.6" lengthAdjust="spacingAndGlyphs">0</text>
<line x1="115.7" y1="224.2" x2="118.5" y2="224.2" stroke="#111" stroke-width="0.7"/>
<text x="113" y="225.95" font-size="4.9" text-anchor="end" fill="#111" stroke="#111" stroke-width="0.13" textLength="7.2" lengthAdjust="spacingAndGlyphs">300</text>
<line x1="115.7" y1="214.6" x2="118.5" y2="214.6" stroke="#111" stroke-width="0.7"/>
<text x="113" y="216.35" font-size="4.9" text-anchor="end" fill="#111" stroke="#111" stroke-width="0.13" textLength="7.2" lengthAdjust="spacingAndGlyphs">600</text>
<line x1="115.7" y1="205" x2="118.5" y2="205" stroke="#111" stroke-width="0.7"/>
<text x="113" y="206.75" font-size="4.9" text-anchor="end" fill="#111" stroke="#111" stroke-width="0.13" textLength="7.2" lengthAdjust="spacingAndGlyphs">900</text>
<line x1="115.7" y1="195.3" x2="118.5" y2="195.3" stroke="#111" stroke-width="0.7"/>
<text x="113" y="197.05" font-size="4.9" text-anchor="end" fill="#111" stroke="#111" stroke-width="0.13" textLength="8.4" lengthAdjust="spacingAndGlyphs">1.2K</text>
<line x1="117.4" y1="233.7" x2="118.5" y2="233.7" stroke="#111" stroke-width="0.45"/>
<line x1="117.4" y1="231.8" x2="118.5" y2="231.8" stroke="#111" stroke-width="0.45"/>
<line x1="117.4" y1="229.9" x2="118.5" y2="229.9" stroke="#111" stroke-width="0.45"/>
<line x1="117.4" y1="228" x2="118.5" y2="228" stroke="#111" stroke-width="0.45"/>
<line x1="117.4" y1="226.1" x2="118.5" y2="226.1" stroke="#111" stroke-width="0.45"/>
<line x1="117.4" y1="224.2" x2="118.5" y2="224.2" stroke="#111" stroke-width="0.45"/>
<line x1="117.4" y1="222.3" x2="118.5" y2="222.3" stroke="#111" stroke-width="0.45"/>
<line x1="117.4" y1="220.4" x2="118.5" y2="220.4" stroke="#111" stroke-width="0.45"/>
<line x1="117.4" y1="218.5" x2="118.5" y2="218.5" stroke="#111" stroke-width="0.45"/>
<line x1="117.4" y1="216.6" x2="118.5" y2="216.6" stroke="#111" stroke-width="0.45"/>
<line x1="117.4" y1="214.7" x2="118.5" y2="214.7" stroke="#111" stroke-width="0.45"/>
<line x1="117.4" y1="212.8" x2="118.5" y2="212.8" stroke="#111" stroke-width="0.45"/>
<line x1="117.4" y1="210.9" x2="118.5" y2="210.9" stroke="#111" stroke-width="0.45"/>
<line x1="117.4" y1="209" x2="118.5" y2="209" stroke="#111" stroke-width="0.45"/>
<line x1="117.4" y1="207.1" x2="118.5" y2="207.1" stroke="#111" stroke-width="0.45"/>
<line x1="117.4" y1="205.2" x2="118.5" y2="205.2" stroke="#111" stroke-width="0.45"/>
<line x1="117.4" y1="203.3" x2="118.5" y2="203.3" stroke="#111" stroke-width="0.45"/>
<line x1="117.4" y1="201.4" x2="118.5" y2="201.4" stroke="#111" stroke-width="0.45"/>
<line x1="117.4" y1="199.5" x2="118.5" y2="199.5" stroke="#111" stroke-width="0.45"/>
<line x1="117.4" y1="197.6" x2="118.5" y2="197.6" stroke="#111" stroke-width="0.45"/>
<line x1="117.4" y1="195.7" x2="118.5" y2="195.7" stroke="#111" stroke-width="0.45"/>
<line x1="117.4" y1="193.8" x2="118.5" y2="193.8" stroke="#111" stroke-width="0.45"/>
<rect x="140.4" y="194.1" width="3.2" height="0.7" fill="#777"/>
<rect x="140.7" y="196.1" width="2.6" height="0.7" fill="#888"/>
<rect x="147.7" y="194.1" width="1.6" height="0.7" fill="#777"/>
<rect x="148" y="196.1" width="2.6" height="0.7" fill="#888"/>
<rect x="154.3" y="194.1" width="1.6" height="0.7" fill="#777"/>
<rect x="154.6" y="196.1" width="2.6" height="0.7" fill="#888"/>
<rect x="161.7" y="194.1" width="3.2" height="0.7" fill="#777"/>
<rect x="162" y="196.1" width="2.6" height="0.7" fill="#888"/>
<text x="169.5" y="202.4" font-size="4.6" text-anchor="end" fill="#111" stroke="#111" stroke-width="0.13" textLength="22.78" lengthAdjust="spacingAndGlyphs">sub-G1 16.6</text>
<text x="169.5" y="207.2" font-size="4.6" text-anchor="end" fill="#111" stroke="#111" stroke-width="0.13" textLength="14.73" lengthAdjust="spacingAndGlyphs">G1 73.3</text>
<text x="169.5" y="212.6" font-size="4.6" text-anchor="end" fill="#111" stroke="#111" stroke-width="0.13" textLength="11.97" lengthAdjust="spacingAndGlyphs">S 5.37</text>
<text x="169.5" y="218.3" font-size="4.6" text-anchor="end" fill="#111" stroke="#111" stroke-width="0.13" textLength="19.56" lengthAdjust="spacingAndGlyphs">G2-M 4.70</text>
<line x1="122.6" y1="211.7" x2="127.7" y2="211.7" stroke="#1a1a1a" stroke-width="0.7"/>
<line x1="122.6" y1="210.7" x2="122.6" y2="212.7" stroke="#1a1a1a" stroke-width="0.6"/>
<line x1="127.7" y1="210.7" x2="127.7" y2="212.7" stroke="#1a1a1a" stroke-width="0.6"/>
<line x1="127.2" y1="215.5" x2="130.5" y2="215.5" stroke="#1a1a1a" stroke-width="1.3"/>
<line x1="127.2" y1="214.5" x2="127.2" y2="216.5" stroke="#1a1a1a" stroke-width="0.6"/>
<line x1="130.5" y1="214.5" x2="130.5" y2="216.5" stroke="#1a1a1a" stroke-width="0.6"/>
<line x1="130" y1="220.1" x2="137.7" y2="220.1" stroke="#1a1a1a" stroke-width="0.7"/>
<line x1="130" y1="219.1" x2="130" y2="221.1" stroke="#1a1a1a" stroke-width="0.6"/>
<line x1="137.7" y1="219.1" x2="137.7" y2="221.1" stroke="#1a1a1a" stroke-width="0.6"/>
<line x1="136.8" y1="223.9" x2="140.8" y2="223.9" stroke="#1a1a1a" stroke-width="0.7"/>
<line x1="136.8" y1="222.9" x2="136.8" y2="224.9" stroke="#1a1a1a" stroke-width="0.6"/>
<line x1="140.8" y1="222.9" x2="140.8" y2="224.9" stroke="#1a1a1a" stroke-width="0.6"/>
<text x="219.8" y="187.9" font-size="6.3" text-anchor="middle" fill="#111" stroke="#111" stroke-width="0.13" textLength="42.4" lengthAdjust="spacingAndGlyphs">si-circMYBL2-2</text>
<path d="M193.2 233.4 L199.42 233.4 L200.45 233.08 L201.49 232.6 L202.52 232.2 L202.66 214.48 L203.01 199 L204.11 199 L204.46 216.2 L204.85 231.9 L205.89 232.4 L212.88 232.5 L212.42 232.5 L213.52 232.6 L214.32 232.6 L215.52 233.9 L245 233.9 Z" fill="#a8002a" stroke="#a8002a" stroke-width="0.25"/>
<rect x="193.5" y="191.5" width="53" height="42" fill="none" stroke="#111" stroke-width="1.0"/>
<line x1="193.2" y1="233.5" x2="193.2" y2="236.3" stroke="#111" stroke-width="0.8"/>
<line x1="194.24" y1="233.5" x2="194.24" y2="235" stroke="#111" stroke-width="0.6"/>
<line x1="195.27" y1="233.5" x2="195.27" y2="235" stroke="#111" stroke-width="0.6"/>
<line x1="196.31" y1="233.5" x2="196.31" y2="235" stroke="#111" stroke-width="0.6"/>
<line x1="197.34" y1="233.5" x2="197.34" y2="235" stroke="#111" stroke-width="0.6"/>
<line x1="198.38" y1="233.5" x2="198.38" y2="235" stroke="#111" stroke-width="0.6"/>
<line x1="199.42" y1="233.5" x2="199.42" y2="235" stroke="#111" stroke-width="0.6"/>
<line x1="200.45" y1="233.5" x2="200.45" y2="235" stroke="#111" stroke-width="0.6"/>
<line x1="201.49" y1="233.5" x2="201.49" y2="235" stroke="#111" stroke-width="0.6"/>
<line x1="202.52" y1="233.5" x2="202.52" y2="235" stroke="#111" stroke-width="0.6"/>
<line x1="203.56" y1="233.5" x2="203.56" y2="236.3" stroke="#111" stroke-width="0.8"/>
<line x1="204.6" y1="233.5" x2="204.6" y2="235" stroke="#111" stroke-width="0.6"/>
<line x1="205.63" y1="233.5" x2="205.63" y2="235" stroke="#111" stroke-width="0.6"/>
<line x1="206.67" y1="233.5" x2="206.67" y2="235" stroke="#111" stroke-width="0.6"/>
<line x1="207.7" y1="233.5" x2="207.7" y2="235" stroke="#111" stroke-width="0.6"/>
<line x1="208.74" y1="233.5" x2="208.74" y2="235" stroke="#111" stroke-width="0.6"/>
<line x1="209.78" y1="233.5" x2="209.78" y2="235" stroke="#111" stroke-width="0.6"/>
<line x1="210.81" y1="233.5" x2="210.81" y2="235" stroke="#111" stroke-width="0.6"/>
<line x1="211.85" y1="233.5" x2="211.85" y2="235" stroke="#111" stroke-width="0.6"/>
<line x1="212.88" y1="233.5" x2="212.88" y2="235" stroke="#111" stroke-width="0.6"/>
<line x1="213.92" y1="233.5" x2="213.92" y2="236.3" stroke="#111" stroke-width="0.8"/>
<line x1="214.96" y1="233.5" x2="214.96" y2="235" stroke="#111" stroke-width="0.6"/>
<line x1="215.99" y1="233.5" x2="215.99" y2="235" stroke="#111" stroke-width="0.6"/>
<line x1="217.03" y1="233.5" x2="217.03" y2="235" stroke="#111" stroke-width="0.6"/>
<line x1="218.06" y1="233.5" x2="218.06" y2="235" stroke="#111" stroke-width="0.6"/>
<line x1="219.1" y1="233.5" x2="219.1" y2="235" stroke="#111" stroke-width="0.6"/>
<line x1="220.14" y1="233.5" x2="220.14" y2="235" stroke="#111" stroke-width="0.6"/>
<line x1="221.17" y1="233.5" x2="221.17" y2="235" stroke="#111" stroke-width="0.6"/>
<line x1="222.21" y1="233.5" x2="222.21" y2="235" stroke="#111" stroke-width="0.6"/>
<line x1="223.24" y1="233.5" x2="223.24" y2="235" stroke="#111" stroke-width="0.6"/>
<line x1="224.28" y1="233.5" x2="224.28" y2="236.3" stroke="#111" stroke-width="0.8"/>
<line x1="225.32" y1="233.5" x2="225.32" y2="235" stroke="#111" stroke-width="0.6"/>
<line x1="226.35" y1="233.5" x2="226.35" y2="235" stroke="#111" stroke-width="0.6"/>
<line x1="227.39" y1="233.5" x2="227.39" y2="235" stroke="#111" stroke-width="0.6"/>
<line x1="228.42" y1="233.5" x2="228.42" y2="235" stroke="#111" stroke-width="0.6"/>
<line x1="229.46" y1="233.5" x2="229.46" y2="235" stroke="#111" stroke-width="0.6"/>
<line x1="230.5" y1="233.5" x2="230.5" y2="235" stroke="#111" stroke-width="0.6"/>
<line x1="231.53" y1="233.5" x2="231.53" y2="235" stroke="#111" stroke-width="0.6"/>
<line x1="232.57" y1="233.5" x2="232.57" y2="235" stroke="#111" stroke-width="0.6"/>
<line x1="233.6" y1="233.5" x2="233.6" y2="235" stroke="#111" stroke-width="0.6"/>
<line x1="234.64" y1="233.5" x2="234.64" y2="236.3" stroke="#111" stroke-width="0.8"/>
<line x1="235.68" y1="233.5" x2="235.68" y2="235" stroke="#111" stroke-width="0.6"/>
<line x1="236.71" y1="233.5" x2="236.71" y2="235" stroke="#111" stroke-width="0.6"/>
<line x1="237.75" y1="233.5" x2="237.75" y2="235" stroke="#111" stroke-width="0.6"/>
<line x1="238.78" y1="233.5" x2="238.78" y2="235" stroke="#111" stroke-width="0.6"/>
<line x1="239.82" y1="233.5" x2="239.82" y2="235" stroke="#111" stroke-width="0.6"/>
<line x1="240.86" y1="233.5" x2="240.86" y2="235" stroke="#111" stroke-width="0.6"/>
<line x1="241.89" y1="233.5" x2="241.89" y2="235" stroke="#111" stroke-width="0.6"/>
<line x1="242.93" y1="233.5" x2="242.93" y2="235" stroke="#111" stroke-width="0.6"/>
<line x1="243.96" y1="233.5" x2="243.96" y2="235" stroke="#111" stroke-width="0.6"/>
<line x1="245" y1="233.5" x2="245" y2="236.3" stroke="#111" stroke-width="0.8"/>
<text x="193.2" y="243" font-size="4.9" text-anchor="middle" fill="#111" stroke="#111" stroke-width="0.13" textLength="2.6" lengthAdjust="spacingAndGlyphs">0</text>
<text x="203.56" y="243" font-size="4.9" text-anchor="middle" fill="#111" stroke="#111" stroke-width="0.13" textLength="7.2" lengthAdjust="spacingAndGlyphs">200</text>
<text x="213.92" y="243" font-size="4.9" text-anchor="middle" fill="#111" stroke="#111" stroke-width="0.13" textLength="7.2" lengthAdjust="spacingAndGlyphs">400</text>
<text x="224.28" y="243" font-size="4.9" text-anchor="middle" fill="#111" stroke="#111" stroke-width="0.13" textLength="7.2" lengthAdjust="spacingAndGlyphs">600</text>
<text x="234.64" y="243" font-size="4.9" text-anchor="middle" fill="#111" stroke="#111" stroke-width="0.13" textLength="7.2" lengthAdjust="spacingAndGlyphs">800</text>
<text x="245" y="243" font-size="4.9" text-anchor="middle" fill="#111" stroke="#111" stroke-width="0.13" textLength="8" lengthAdjust="spacingAndGlyphs">1.0K</text>
<line x1="190.7" y1="233.7" x2="193.5" y2="233.7" stroke="#111" stroke-width="0.7"/>
<text x="188" y="235.45" font-size="4.9" text-anchor="end" fill="#111" stroke="#111" stroke-width="0.13" textLength="2.6" lengthAdjust="spacingAndGlyphs">0</text>
<line x1="190.7" y1="223.1" x2="193.5" y2="223.1" stroke="#111" stroke-width="0.7"/>
<text x="188" y="224.85" font-size="4.9" text-anchor="end" fill="#111" stroke="#111" stroke-width="0.13" textLength="7.2" lengthAdjust="spacingAndGlyphs">500</text>
<line x1="190.7" y1="212.4" x2="193.5" y2="212.4" stroke="#111" stroke-width="0.7"/>
<text x="188" y="214.15" font-size="4.9" text-anchor="end" fill="#111" stroke="#111" stroke-width="0.13" textLength="8.4" lengthAdjust="spacingAndGlyphs">1.0K</text>
<line x1="190.7" y1="202" x2="193.5" y2="202" stroke="#111" stroke-width="0.7"/>
<text x="188" y="203.75" font-size="4.9" text-anchor="end" fill="#111" stroke="#111" stroke-width="0.13" textLength="8.4" lengthAdjust="spacingAndGlyphs">1.5K</text>
<line x1="192.4" y1="233.7" x2="193.5" y2="233.7" stroke="#111" stroke-width="0.45"/>
<line x1="192.4" y1="231.58" x2="193.5" y2="231.58" stroke="#111" stroke-width="0.45"/>
<line x1="192.4" y1="229.46" x2="193.5" y2="229.46" stroke="#111" stroke-width="0.45"/>
<line x1="192.4" y1="227.34" x2="193.5" y2="227.34" stroke="#111" stroke-width="0.45"/>
<line x1="192.4" y1="225.22" x2="193.5" y2="225.22" stroke="#111" stroke-width="0.45"/>
<line x1="192.4" y1="223.1" x2="193.5" y2="223.1" stroke="#111" stroke-width="0.45"/>
<line x1="192.4" y1="220.98" x2="193.5" y2="220.98" stroke="#111" stroke-width="0.45"/>
<line x1="192.4" y1="218.86" x2="193.5" y2="218.86" stroke="#111" stroke-width="0.45"/>
<line x1="192.4" y1="216.74" x2="193.5" y2="216.74" stroke="#111" stroke-width="0.45"/>
<line x1="192.4" y1="214.62" x2="193.5" y2="214.62" stroke="#111" stroke-width="0.45"/>
<line x1="192.4" y1="212.5" x2="193.5" y2="212.5" stroke="#111" stroke-width="0.45"/>
<line x1="192.4" y1="210.38" x2="193.5" y2="210.38" stroke="#111" stroke-width="0.45"/>
<line x1="192.4" y1="208.26" x2="193.5" y2="208.26" stroke="#111" stroke-width="0.45"/>
<line x1="192.4" y1="206.14" x2="193.5" y2="206.14" stroke="#111" stroke-width="0.45"/>
<line x1="192.4" y1="204.02" x2="193.5" y2="204.02" stroke="#111" stroke-width="0.45"/>
<line x1="192.4" y1="201.9" x2="193.5" y2="201.9" stroke="#111" stroke-width="0.45"/>
<line x1="192.4" y1="199.78" x2="193.5" y2="199.78" stroke="#111" stroke-width="0.45"/>
<line x1="192.4" y1="197.66" x2="193.5" y2="197.66" stroke="#111" stroke-width="0.45"/>
<line x1="192.4" y1="195.54" x2="193.5" y2="195.54" stroke="#111" stroke-width="0.45"/>
<line x1="192.4" y1="193.42" x2="193.5" y2="193.42" stroke="#111" stroke-width="0.45"/>
<rect x="215.4" y="194.1" width="3.2" height="0.7" fill="#777"/>
<rect x="215.7" y="196.1" width="2.6" height="0.7" fill="#888"/>
<rect x="222.7" y="194.1" width="1.6" height="0.7" fill="#777"/>
<rect x="223" y="196.1" width="2.6" height="0.7" fill="#888"/>
<rect x="229.3" y="194.1" width="1.6" height="0.7" fill="#777"/>
<rect x="229.6" y="196.1" width="2.6" height="0.7" fill="#888"/>
<rect x="236.7" y="194.1" width="3.2" height="0.7" fill="#777"/>
<rect x="237" y="196.1" width="2.6" height="0.7" fill="#888"/>
<text x="244.5" y="202" font-size="4.6" text-anchor="end" fill="#111" stroke="#111" stroke-width="0.13" textLength="22.78" lengthAdjust="spacingAndGlyphs">sub-G1 3.91</text>
<text x="244.5" y="207.2" font-size="4.6" text-anchor="end" fill="#111" stroke="#111" stroke-width="0.13" textLength="14.73" lengthAdjust="spacingAndGlyphs">G1 84.9</text>
<text x="244.5" y="212.6" font-size="4.6" text-anchor="end" fill="#111" stroke="#111" stroke-width="0.13" textLength="11.97" lengthAdjust="spacingAndGlyphs">S 6.41</text>
<text x="244.5" y="218.3" font-size="4.6" text-anchor="end" fill="#111" stroke="#111" stroke-width="0.13" textLength="19.56" lengthAdjust="spacingAndGlyphs">G2-M 4.77</text>
<line x1="198.6" y1="211.7" x2="203.8" y2="211.7" stroke="#1a1a1a" stroke-width="0.7"/>
<line x1="198.6" y1="210.7" x2="198.6" y2="212.7" stroke="#1a1a1a" stroke-width="0.6"/>
<line x1="203.8" y1="210.7" x2="203.8" y2="212.7" stroke="#1a1a1a" stroke-width="0.6"/>
<line x1="203.2" y1="215.6" x2="206.5" y2="215.6" stroke="#1a1a1a" stroke-width="1.3"/>
<line x1="203.2" y1="214.6" x2="203.2" y2="216.6" stroke="#1a1a1a" stroke-width="0.6"/>
<line x1="206.5" y1="214.6" x2="206.5" y2="216.6" stroke="#1a1a1a" stroke-width="0.6"/>
<line x1="206" y1="220" x2="213.2" y2="220" stroke="#1a1a1a" stroke-width="0.7"/>
<line x1="206" y1="219" x2="206" y2="221" stroke="#1a1a1a" stroke-width="0.6"/>
<line x1="213.2" y1="219" x2="213.2" y2="221" stroke="#1a1a1a" stroke-width="0.6"/>
<line x1="212.8" y1="223.9" x2="216.6" y2="223.9" stroke="#1a1a1a" stroke-width="0.7"/>
<line x1="212.8" y1="222.9" x2="212.8" y2="224.9" stroke="#1a1a1a" stroke-width="0.6"/>
<line x1="216.6" y1="222.9" x2="216.6" y2="224.9" stroke="#1a1a1a" stroke-width="0.6"/>
<path d="M41.2 293.4 L49.91 293.4 L50.7 291.9 L50.86 274.2 L51.21 258.5 L52.31 258.5 L52.66 275.95 L53.08 291.9 L54.14 292.4 L61.26 292.5 L60.82 292.5 L61.92 289.2 L62.72 289.2 L63.92 293.9 L94 293.9 Z" fill="#2a4a86" stroke="#2a4a86" stroke-width="0.25"/>
<rect x="41.5" y="249.5" width="54" height="44" fill="none" stroke="#111" stroke-width="1.0"/>
<line x1="41.2" y1="293.5" x2="41.2" y2="296.3" stroke="#111" stroke-width="0.8"/>
<line x1="42.26" y1="293.5" x2="42.26" y2="295" stroke="#111" stroke-width="0.6"/>
<line x1="43.31" y1="293.5" x2="43.31" y2="295" stroke="#111" stroke-width="0.6"/>
<line x1="44.37" y1="293.5" x2="44.37" y2="295" stroke="#111" stroke-width="0.6"/>
<line x1="45.42" y1="293.5" x2="45.42" y2="295" stroke="#111" stroke-width="0.6"/>
<line x1="46.48" y1="293.5" x2="46.48" y2="295" stroke="#111" stroke-width="0.6"/>
<line x1="47.54" y1="293.5" x2="47.54" y2="295" stroke="#111" stroke-width="0.6"/>
<line x1="48.59" y1="293.5" x2="48.59" y2="295" stroke="#111" stroke-width="0.6"/>
<line x1="49.65" y1="293.5" x2="49.65" y2="295" stroke="#111" stroke-width="0.6"/>
<line x1="50.7" y1="293.5" x2="50.7" y2="295" stroke="#111" stroke-width="0.6"/>
<line x1="51.76" y1="293.5" x2="51.76" y2="296.3" stroke="#111" stroke-width="0.8"/>
<line x1="52.82" y1="293.5" x2="52.82" y2="295" stroke="#111" stroke-width="0.6"/>
<line x1="53.87" y1="293.5" x2="53.87" y2="295" stroke="#111" stroke-width="0.6"/>
<line x1="54.93" y1="293.5" x2="54.93" y2="295" stroke="#111" stroke-width="0.6"/>
<line x1="55.98" y1="293.5" x2="55.98" y2="295" stroke="#111" stroke-width="0.6"/>
<line x1="57.04" y1="293.5" x2="57.04" y2="295" stroke="#111" stroke-width="0.6"/>
<line x1="58.1" y1="293.5" x2="58.1" y2="295" stroke="#111" stroke-width="0.6"/>
<line x1="59.15" y1="293.5" x2="59.15" y2="295" stroke="#111" stroke-width="0.6"/>
<line x1="60.21" y1="293.5" x2="60.21" y2="295" stroke="#111" stroke-width="0.6"/>
<line x1="61.26" y1="293.5" x2="61.26" y2="295" stroke="#111" stroke-width="0.6"/>
<line x1="62.32" y1="293.5" x2="62.32" y2="296.3" stroke="#111" stroke-width="0.8"/>
<line x1="63.38" y1="293.5" x2="63.38" y2="295" stroke="#111" stroke-width="0.6"/>
<line x1="64.43" y1="293.5" x2="64.43" y2="295" stroke="#111" stroke-width="0.6"/>
<line x1="65.49" y1="293.5" x2="65.49" y2="295" stroke="#111" stroke-width="0.6"/>
<line x1="66.54" y1="293.5" x2="66.54" y2="295" stroke="#111" stroke-width="0.6"/>
<line x1="67.6" y1="293.5" x2="67.6" y2="295" stroke="#111" stroke-width="0.6"/>
<line x1="68.66" y1="293.5" x2="68.66" y2="295" stroke="#111" stroke-width="0.6"/>
<line x1="69.71" y1="293.5" x2="69.71" y2="295" stroke="#111" stroke-width="0.6"/>
<line x1="70.77" y1="293.5" x2="70.77" y2="295" stroke="#111" stroke-width="0.6"/>
<line x1="71.82" y1="293.5" x2="71.82" y2="295" stroke="#111" stroke-width="0.6"/>
<line x1="72.88" y1="293.5" x2="72.88" y2="296.3" stroke="#111" stroke-width="0.8"/>
<line x1="73.94" y1="293.5" x2="73.94" y2="295" stroke="#111" stroke-width="0.6"/>
<line x1="74.99" y1="293.5" x2="74.99" y2="295" stroke="#111" stroke-width="0.6"/>
<line x1="76.05" y1="293.5" x2="76.05" y2="295" stroke="#111" stroke-width="0.6"/>
<line x1="77.1" y1="293.5" x2="77.1" y2="295" stroke="#111" stroke-width="0.6"/>
<line x1="78.16" y1="293.5" x2="78.16" y2="295" stroke="#111" stroke-width="0.6"/>
<line x1="79.22" y1="293.5" x2="79.22" y2="295" stroke="#111" stroke-width="0.6"/>
<line x1="80.27" y1="293.5" x2="80.27" y2="295" stroke="#111" stroke-width="0.6"/>
<line x1="81.33" y1="293.5" x2="81.33" y2="295" stroke="#111" stroke-width="0.6"/>
<line x1="82.38" y1="293.5" x2="82.38" y2="295" stroke="#111" stroke-width="0.6"/>
<line x1="83.44" y1="293.5" x2="83.44" y2="296.3" stroke="#111" stroke-width="0.8"/>
<line x1="84.5" y1="293.5" x2="84.5" y2="295" stroke="#111" stroke-width="0.6"/>
<line x1="85.55" y1="293.5" x2="85.55" y2="295" stroke="#111" stroke-width="0.6"/>
<line x1="86.61" y1="293.5" x2="86.61" y2="295" stroke="#111" stroke-width="0.6"/>
<line x1="87.66" y1="293.5" x2="87.66" y2="295" stroke="#111" stroke-width="0.6"/>
<line x1="88.72" y1="293.5" x2="88.72" y2="295" stroke="#111" stroke-width="0.6"/>
<line x1="89.78" y1="293.5" x2="89.78" y2="295" stroke="#111" stroke-width="0.6"/>
<line x1="90.83" y1="293.5" x2="90.83" y2="295" stroke="#111" stroke-width="0.6"/>
<line x1="91.89" y1="293.5" x2="91.89" y2="295" stroke="#111" stroke-width="0.6"/>
<line x1="92.94" y1="293.5" x2="92.94" y2="295" stroke="#111" stroke-width="0.6"/>
<line x1="94" y1="293.5" x2="94" y2="296.3" stroke="#111" stroke-width="0.8"/>
<text x="41.2" y="303" font-size="4.9" text-anchor="middle" fill="#111" stroke="#111" stroke-width="0.13" textLength="2.6" lengthAdjust="spacingAndGlyphs">0</text>
<text x="51.76" y="303" font-size="4.9" text-anchor="middle" fill="#111" stroke="#111" stroke-width="0.13" textLength="7.2" lengthAdjust="spacingAndGlyphs">200</text>
<text x="62.32" y="303" font-size="4.9" text-anchor="middle" fill="#111" stroke="#111" stroke-width="0.13" textLength="7.2" lengthAdjust="spacingAndGlyphs">400</text>
<text x="72.88" y="303" font-size="4.9" text-anchor="middle" fill="#111" stroke="#111" stroke-width="0.13" textLength="7.2" lengthAdjust="spacingAndGlyphs">600</text>
<text x="83.44" y="303" font-size="4.9" text-anchor="middle" fill="#111" stroke="#111" stroke-width="0.13" textLength="7.2" lengthAdjust="spacingAndGlyphs">800</text>
<text x="94" y="303" font-size="4.9" text-anchor="middle" fill="#111" stroke="#111" stroke-width="0.13" textLength="8" lengthAdjust="spacingAndGlyphs">1.0K</text>
<line x1="38.7" y1="293" x2="41.5" y2="293" stroke="#111" stroke-width="0.7"/>
<text x="36" y="294.75" font-size="4.9" text-anchor="end" fill="#111" stroke="#111" stroke-width="0.13" textLength="2.6" lengthAdjust="spacingAndGlyphs">0</text>
<line x1="38.7" y1="284.8" x2="41.5" y2="284.8" stroke="#111" stroke-width="0.7"/>
<text x="36" y="286.55" font-size="4.9" text-anchor="end" fill="#111" stroke="#111" stroke-width="0.13" textLength="7.2" lengthAdjust="spacingAndGlyphs">500</text>
<line x1="38.7" y1="276.5" x2="41.5" y2="276.5" stroke="#111" stroke-width="0.7"/>
<text x="36" y="278.25" font-size="4.9" text-anchor="end" fill="#111" stroke="#111" stroke-width="0.13" textLength="8.4" lengthAdjust="spacingAndGlyphs">1.0K</text>
<line x1="38.7" y1="268.2" x2="41.5" y2="268.2" stroke="#111" stroke-width="0.7"/>
<text x="36" y="269.95" font-size="4.9" text-anchor="end" fill="#111" stroke="#111" stroke-width="0.13" textLength="8.4" lengthAdjust="spacingAndGlyphs">1.5K</text>
<line x1="38.7" y1="260" x2="41.5" y2="260" stroke="#111" stroke-width="0.7"/>
<text x="36" y="261.75" font-size="4.9" text-anchor="end" fill="#111" stroke="#111" stroke-width="0.13" textLength="8.4" lengthAdjust="spacingAndGlyphs">2.0K</text>
<line x1="38.7" y1="251.6" x2="41.5" y2="251.6" stroke="#111" stroke-width="0.7"/>
<text x="36" y="253.35" font-size="4.9" text-anchor="end" fill="#111" stroke="#111" stroke-width="0.13" textLength="8.4" lengthAdjust="spacingAndGlyphs">2.5K</text>
<line x1="40.4" y1="293" x2="41.5" y2="293" stroke="#111" stroke-width="0.45"/>
<line x1="40.4" y1="291.36" x2="41.5" y2="291.36" stroke="#111" stroke-width="0.45"/>
<line x1="40.4" y1="289.72" x2="41.5" y2="289.72" stroke="#111" stroke-width="0.45"/>
<line x1="40.4" y1="288.08" x2="41.5" y2="288.08" stroke="#111" stroke-width="0.45"/>
<line x1="40.4" y1="286.44" x2="41.5" y2="286.44" stroke="#111" stroke-width="0.45"/>
<line x1="40.4" y1="284.8" x2="41.5" y2="284.8" stroke="#111" stroke-width="0.45"/>
<line x1="40.4" y1="283.16" x2="41.5" y2="283.16" stroke="#111" stroke-width="0.45"/>
<line x1="40.4" y1="281.52" x2="41.5" y2="281.52" stroke="#111" stroke-width="0.45"/>
<line x1="40.4" y1="279.88" x2="41.5" y2="279.88" stroke="#111" stroke-width="0.45"/>
<line x1="40.4" y1="278.24" x2="41.5" y2="278.24" stroke="#111" stroke-width="0.45"/>
<line x1="40.4" y1="276.6" x2="41.5" y2="276.6" stroke="#111" stroke-width="0.45"/>
<line x1="40.4" y1="274.96" x2="41.5" y2="274.96" stroke="#111" stroke-width="0.45"/>
<line x1="40.4" y1="273.32" x2="41.5" y2="273.32" stroke="#111" stroke-width="0.45"/>
<line x1="40.4" y1="271.68" x2="41.5" y2="271.68" stroke="#111" stroke-width="0.45"/>
<line x1="40.4" y1="270.04" x2="41.5" y2="270.04" stroke="#111" stroke-width="0.45"/>
<line x1="40.4" y1="268.4" x2="41.5" y2="268.4" stroke="#111" stroke-width="0.45"/>
<line x1="40.4" y1="266.76" x2="41.5" y2="266.76" stroke="#111" stroke-width="0.45"/>
<line x1="40.4" y1="265.12" x2="41.5" y2="265.12" stroke="#111" stroke-width="0.45"/>
<line x1="40.4" y1="263.48" x2="41.5" y2="263.48" stroke="#111" stroke-width="0.45"/>
<line x1="40.4" y1="261.84" x2="41.5" y2="261.84" stroke="#111" stroke-width="0.45"/>
<line x1="40.4" y1="260.2" x2="41.5" y2="260.2" stroke="#111" stroke-width="0.45"/>
<line x1="40.4" y1="258.56" x2="41.5" y2="258.56" stroke="#111" stroke-width="0.45"/>
<line x1="40.4" y1="256.92" x2="41.5" y2="256.92" stroke="#111" stroke-width="0.45"/>
<line x1="40.4" y1="255.28" x2="41.5" y2="255.28" stroke="#111" stroke-width="0.45"/>
<line x1="40.4" y1="253.64" x2="41.5" y2="253.64" stroke="#111" stroke-width="0.45"/>
<line x1="40.4" y1="252" x2="41.5" y2="252" stroke="#111" stroke-width="0.45"/>
<line x1="40.4" y1="250.36" x2="41.5" y2="250.36" stroke="#111" stroke-width="0.45"/>
<rect x="64.4" y="252.1" width="3.2" height="0.7" fill="#777"/>
<rect x="64.7" y="254.1" width="2.6" height="0.7" fill="#888"/>
<rect x="71.7" y="252.1" width="1.6" height="0.7" fill="#777"/>
<rect x="72" y="254.1" width="2.6" height="0.7" fill="#888"/>
<rect x="78.3" y="252.1" width="1.6" height="0.7" fill="#777"/>
<rect x="78.6" y="254.1" width="2.6" height="0.7" fill="#888"/>
<rect x="85.7" y="252.1" width="3.2" height="0.7" fill="#777"/>
<rect x="86" y="254.1" width="2.6" height="0.7" fill="#888"/>
<text x="93.5" y="259.6" font-size="4.6" text-anchor="end" fill="#111" stroke="#111" stroke-width="0.13" textLength="22.78" lengthAdjust="spacingAndGlyphs">sub-G1 1.18</text>
<text x="93.5" y="265.3" font-size="4.6" text-anchor="end" fill="#111" stroke="#111" stroke-width="0.13" textLength="14.73" lengthAdjust="spacingAndGlyphs">G1 69.9</text>
<text x="93.5" y="270.6" font-size="4.6" text-anchor="end" fill="#111" stroke="#111" stroke-width="0.13" textLength="11.97" lengthAdjust="spacingAndGlyphs">S 13.1</text>
<text x="93.5" y="276.8" font-size="4.6" text-anchor="end" fill="#111" stroke="#111" stroke-width="0.13" textLength="19.56" lengthAdjust="spacingAndGlyphs">G2-M 15.5</text>
<line x1="46" y1="268.5" x2="51.3" y2="268.5" stroke="#1a1a1a" stroke-width="0.7"/>
<line x1="46" y1="267.5" x2="46" y2="269.5" stroke="#1a1a1a" stroke-width="0.6"/>
<line x1="51.3" y1="267.5" x2="51.3" y2="269.5" stroke="#1a1a1a" stroke-width="0.6"/>
<line x1="50.8" y1="272.5" x2="54.5" y2="272.5" stroke="#1a1a1a" stroke-width="1.3"/>
<line x1="50.8" y1="271.5" x2="50.8" y2="273.5" stroke="#1a1a1a" stroke-width="0.6"/>
<line x1="54.5" y1="271.5" x2="54.5" y2="273.5" stroke="#1a1a1a" stroke-width="0.6"/>
<line x1="54" y1="275.4" x2="61.5" y2="275.4" stroke="#1a1a1a" stroke-width="0.7"/>
<line x1="54" y1="274.4" x2="54" y2="276.4" stroke="#1a1a1a" stroke-width="0.6"/>
<line x1="61.5" y1="274.4" x2="61.5" y2="276.4" stroke="#1a1a1a" stroke-width="0.6"/>
<line x1="61" y1="279.6" x2="65" y2="279.6" stroke="#1a1a1a" stroke-width="0.7"/>
<line x1="61" y1="278.6" x2="61" y2="280.6" stroke="#1a1a1a" stroke-width="0.6"/>
<line x1="65" y1="278.6" x2="65" y2="280.6" stroke="#1a1a1a" stroke-width="0.6"/>
<path d="M118.2 293.4 L126.91 293.4 L127.7 291.9 L127.86 275.08 L128.21 260.1 L129.31 260.1 L129.66 276.75 L130.08 291.9 L131.14 292.4 L138.26 292.5 L137.82 292.5 L138.92 289 L139.72 289 L140.92 293.9 L171 293.9 Z" fill="#a8002a" stroke="#a8002a" stroke-width="0.25"/>
<rect x="118.5" y="249.5" width="54" height="44" fill="none" stroke="#111" stroke-width="1.0"/>
<line x1="118.2" y1="293.5" x2="118.2" y2="296.3" stroke="#111" stroke-width="0.8"/>
<line x1="119.26" y1="293.5" x2="119.26" y2="295" stroke="#111" stroke-width="0.6"/>
<line x1="120.31" y1="293.5" x2="120.31" y2="295" stroke="#111" stroke-width="0.6"/>
<line x1="121.37" y1="293.5" x2="121.37" y2="295" stroke="#111" stroke-width="0.6"/>
<line x1="122.42" y1="293.5" x2="122.42" y2="295" stroke="#111" stroke-width="0.6"/>
<line x1="123.48" y1="293.5" x2="123.48" y2="295" stroke="#111" stroke-width="0.6"/>
<line x1="124.54" y1="293.5" x2="124.54" y2="295" stroke="#111" stroke-width="0.6"/>
<line x1="125.59" y1="293.5" x2="125.59" y2="295" stroke="#111" stroke-width="0.6"/>
<line x1="126.65" y1="293.5" x2="126.65" y2="295" stroke="#111" stroke-width="0.6"/>
<line x1="127.7" y1="293.5" x2="127.7" y2="295" stroke="#111" stroke-width="0.6"/>
<line x1="128.76" y1="293.5" x2="128.76" y2="296.3" stroke="#111" stroke-width="0.8"/>
<line x1="129.82" y1="293.5" x2="129.82" y2="295" stroke="#111" stroke-width="0.6"/>
<line x1="130.87" y1="293.5" x2="130.87" y2="295" stroke="#111" stroke-width="0.6"/>
<line x1="131.93" y1="293.5" x2="131.93" y2="295" stroke="#111" stroke-width="0.6"/>
<line x1="132.98" y1="293.5" x2="132.98" y2="295" stroke="#111" stroke-width="0.6"/>
<line x1="134.04" y1="293.5" x2="134.04" y2="295" stroke="#111" stroke-width="0.6"/>
<line x1="135.1" y1="293.5" x2="135.1" y2="295" stroke="#111" stroke-width="0.6"/>
<line x1="136.15" y1="293.5" x2="136.15" y2="295" stroke="#111" stroke-width="0.6"/>
<line x1="137.21" y1="293.5" x2="137.21" y2="295" stroke="#111" stroke-width="0.6"/>
<line x1="138.26" y1="293.5" x2="138.26" y2="295" stroke="#111" stroke-width="0.6"/>
<line x1="139.32" y1="293.5" x2="139.32" y2="296.3" stroke="#111" stroke-width="0.8"/>
<line x1="140.38" y1="293.5" x2="140.38" y2="295" stroke="#111" stroke-width="0.6"/>
<line x1="141.43" y1="293.5" x2="141.43" y2="295" stroke="#111" stroke-width="0.6"/>
<line x1="142.49" y1="293.5" x2="142.49" y2="295" stroke="#111" stroke-width="0.6"/>
<line x1="143.54" y1="293.5" x2="143.54" y2="295" stroke="#111" stroke-width="0.6"/>
<line x1="144.6" y1="293.5" x2="144.6" y2="295" stroke="#111" stroke-width="0.6"/>
<line x1="145.66" y1="293.5" x2="145.66" y2="295" stroke="#111" stroke-width="0.6"/>
<line x1="146.71" y1="293.5" x2="146.71" y2="295" stroke="#111" stroke-width="0.6"/>
<line x1="147.77" y1="293.5" x2="147.77" y2="295" stroke="#111" stroke-width="0.6"/>
<line x1="148.82" y1="293.5" x2="148.82" y2="295" stroke="#111" stroke-width="0.6"/>
<line x1="149.88" y1="293.5" x2="149.88" y2="296.3" stroke="#111" stroke-width="0.8"/>
<line x1="150.94" y1="293.5" x2="150.94" y2="295" stroke="#111" stroke-width="0.6"/>
<line x1="151.99" y1="293.5" x2="151.99" y2="295" stroke="#111" stroke-width="0.6"/>
<line x1="153.05" y1="293.5" x2="153.05" y2="295" stroke="#111" stroke-width="0.6"/>
<line x1="154.1" y1="293.5" x2="154.1" y2="295" stroke="#111" stroke-width="0.6"/>
<line x1="155.16" y1="293.5" x2="155.16" y2="295" stroke="#111" stroke-width="0.6"/>
<line x1="156.22" y1="293.5" x2="156.22" y2="295" stroke="#111" stroke-width="0.6"/>
<line x1="157.27" y1="293.5" x2="157.27" y2="295" stroke="#111" stroke-width="0.6"/>
<line x1="158.33" y1="293.5" x2="158.33" y2="295" stroke="#111" stroke-width="0.6"/>
<line x1="159.38" y1="293.5" x2="159.38" y2="295" stroke="#111" stroke-width="0.6"/>
<line x1="160.44" y1="293.5" x2="160.44" y2="296.3" stroke="#111" stroke-width="0.8"/>
<line x1="161.5" y1="293.5" x2="161.5" y2="295" stroke="#111" stroke-width="0.6"/>
<line x1="162.55" y1="293.5" x2="162.55" y2="295" stroke="#111" stroke-width="0.6"/>
<line x1="163.61" y1="293.5" x2="163.61" y2="295" stroke="#111" stroke-width="0.6"/>
<line x1="164.66" y1="293.5" x2="164.66" y2="295" stroke="#111" stroke-width="0.6"/>
<line x1="165.72" y1="293.5" x2="165.72" y2="295" stroke="#111" stroke-width="0.6"/>
<line x1="166.78" y1="293.5" x2="166.78" y2="295" stroke="#111" stroke-width="0.6"/>
<line x1="167.83" y1="293.5" x2="167.83" y2="295" stroke="#111" stroke-width="0.6"/>
<line x1="168.89" y1="293.5" x2="168.89" y2="295" stroke="#111" stroke-width="0.6"/>
<line x1="169.94" y1="293.5" x2="169.94" y2="295" stroke="#111" stroke-width="0.6"/>
<line x1="171" y1="293.5" x2="171" y2="296.3" stroke="#111" stroke-width="0.8"/>
<text x="118.2" y="303" font-size="4.9" text-anchor="middle" fill="#111" stroke="#111" stroke-width="0.13" textLength="2.6" lengthAdjust="spacingAndGlyphs">0</text>
<text x="128.76" y="303" font-size="4.9" text-anchor="middle" fill="#111" stroke="#111" stroke-width="0.13" textLength="7.2" lengthAdjust="spacingAndGlyphs">200</text>
<text x="139.32" y="303" font-size="4.9" text-anchor="middle" fill="#111" stroke="#111" stroke-width="0.13" textLength="7.2" lengthAdjust="spacingAndGlyphs">400</text>
<text x="149.88" y="303" font-size="4.9" text-anchor="middle" fill="#111" stroke="#111" stroke-width="0.13" textLength="7.2" lengthAdjust="spacingAndGlyphs">600</text>
<text x="160.44" y="303" font-size="4.9" text-anchor="middle" fill="#111" stroke="#111" stroke-width="0.13" textLength="7.2" lengthAdjust="spacingAndGlyphs">800</text>
<text x="171" y="303" font-size="4.9" text-anchor="middle" fill="#111" stroke="#111" stroke-width="0.13" textLength="8" lengthAdjust="spacingAndGlyphs">1.0K</text>
<line x1="115.7" y1="293" x2="118.5" y2="293" stroke="#111" stroke-width="0.7"/>
<text x="113" y="294.75" font-size="4.9" text-anchor="end" fill="#111" stroke="#111" stroke-width="0.13" textLength="2.6" lengthAdjust="spacingAndGlyphs">0</text>
<line x1="115.7" y1="284.2" x2="118.5" y2="284.2" stroke="#111" stroke-width="0.7"/>
<text x="113" y="285.95" font-size="4.9" text-anchor="end" fill="#111" stroke="#111" stroke-width="0.13" textLength="7.2" lengthAdjust="spacingAndGlyphs">500</text>
<line x1="115.7" y1="275.3" x2="118.5" y2="275.3" stroke="#111" stroke-width="0.7"/>
<text x="113" y="277.05" font-size="4.9" text-anchor="end" fill="#111" stroke="#111" stroke-width="0.13" textLength="8.4" lengthAdjust="spacingAndGlyphs">1.0K</text>
<line x1="115.7" y1="266.3" x2="118.5" y2="266.3" stroke="#111" stroke-width="0.7"/>
<text x="113" y="268.05" font-size="4.9" text-anchor="end" fill="#111" stroke="#111" stroke-width="0.13" textLength="8.4" lengthAdjust="spacingAndGlyphs">1.5K</text>
<line x1="115.7" y1="257.5" x2="118.5" y2="257.5" stroke="#111" stroke-width="0.7"/>
<text x="113" y="259.25" font-size="4.9" text-anchor="end" fill="#111" stroke="#111" stroke-width="0.13" textLength="8.4" lengthAdjust="spacingAndGlyphs">2.0K</text>
<line x1="117.4" y1="293" x2="118.5" y2="293" stroke="#111" stroke-width="0.45"/>
<line x1="117.4" y1="291.24" x2="118.5" y2="291.24" stroke="#111" stroke-width="0.45"/>
<line x1="117.4" y1="289.48" x2="118.5" y2="289.48" stroke="#111" stroke-width="0.45"/>
<line x1="117.4" y1="287.72" x2="118.5" y2="287.72" stroke="#111" stroke-width="0.45"/>
<line x1="117.4" y1="285.96" x2="118.5" y2="285.96" stroke="#111" stroke-width="0.45"/>
<line x1="117.4" y1="284.2" x2="118.5" y2="284.2" stroke="#111" stroke-width="0.45"/>
<line x1="117.4" y1="282.44" x2="118.5" y2="282.44" stroke="#111" stroke-width="0.45"/>
<line x1="117.4" y1="280.68" x2="118.5" y2="280.68" stroke="#111" stroke-width="0.45"/>
<line x1="117.4" y1="278.92" x2="118.5" y2="278.92" stroke="#111" stroke-width="0.45"/>
<line x1="117.4" y1="277.16" x2="118.5" y2="277.16" stroke="#111" stroke-width="0.45"/>
<line x1="117.4" y1="275.4" x2="118.5" y2="275.4" stroke="#111" stroke-width="0.45"/>
<line x1="117.4" y1="273.64" x2="118.5" y2="273.64" stroke="#111" stroke-width="0.45"/>
<line x1="117.4" y1="271.88" x2="118.5" y2="271.88" stroke="#111" stroke-width="0.45"/>
<line x1="117.4" y1="270.12" x2="118.5" y2="270.12" stroke="#111" stroke-width="0.45"/>
<line x1="117.4" y1="268.36" x2="118.5" y2="268.36" stroke="#111" stroke-width="0.45"/>
<line x1="117.4" y1="266.6" x2="118.5" y2="266.6" stroke="#111" stroke-width="0.45"/>
<line x1="117.4" y1="264.84" x2="118.5" y2="264.84" stroke="#111" stroke-width="0.45"/>
<line x1="117.4" y1="263.08" x2="118.5" y2="263.08" stroke="#111" stroke-width="0.45"/>
<line x1="117.4" y1="261.32" x2="118.5" y2="261.32" stroke="#111" stroke-width="0.45"/>
<line x1="117.4" y1="259.56" x2="118.5" y2="259.56" stroke="#111" stroke-width="0.45"/>
<line x1="117.4" y1="257.8" x2="118.5" y2="257.8" stroke="#111" stroke-width="0.45"/>
<line x1="117.4" y1="256.04" x2="118.5" y2="256.04" stroke="#111" stroke-width="0.45"/>
<line x1="117.4" y1="254.28" x2="118.5" y2="254.28" stroke="#111" stroke-width="0.45"/>
<line x1="117.4" y1="252.52" x2="118.5" y2="252.52" stroke="#111" stroke-width="0.45"/>
<line x1="117.4" y1="250.76" x2="118.5" y2="250.76" stroke="#111" stroke-width="0.45"/>
<rect x="141.4" y="252.1" width="3.2" height="0.7" fill="#777"/>
<rect x="141.7" y="254.1" width="2.6" height="0.7" fill="#888"/>
<rect x="148.7" y="252.1" width="1.6" height="0.7" fill="#777"/>
<rect x="149" y="254.1" width="2.6" height="0.7" fill="#888"/>
<rect x="155.3" y="252.1" width="1.6" height="0.7" fill="#777"/>
<rect x="155.6" y="254.1" width="2.6" height="0.7" fill="#888"/>
<rect x="162.7" y="252.1" width="3.2" height="0.7" fill="#777"/>
<rect x="163" y="254.1" width="2.6" height="0.7" fill="#888"/>
<text x="170.5" y="260.6" font-size="4.6" text-anchor="end" fill="#111" stroke="#111" stroke-width="0.13" textLength="22.78" lengthAdjust="spacingAndGlyphs">sub-G1 1.41</text>
<text x="170.5" y="265.4" font-size="4.6" text-anchor="end" fill="#111" stroke="#111" stroke-width="0.13" textLength="14.73" lengthAdjust="spacingAndGlyphs">G1 67.8</text>
<text x="170.5" y="270.6" font-size="4.6" text-anchor="end" fill="#111" stroke="#111" stroke-width="0.13" textLength="11.97" lengthAdjust="spacingAndGlyphs">S 13.1</text>
<text x="170.5" y="277.2" font-size="4.6" text-anchor="end" fill="#111" stroke="#111" stroke-width="0.13" textLength="19.56" lengthAdjust="spacingAndGlyphs">G2-M 17.6</text>
<line x1="123" y1="268.4" x2="127.8" y2="268.4" stroke="#1a1a1a" stroke-width="0.7"/>
<line x1="123" y1="267.4" x2="123" y2="269.4" stroke="#1a1a1a" stroke-width="0.6"/>
<line x1="127.8" y1="267.4" x2="127.8" y2="269.4" stroke="#1a1a1a" stroke-width="0.6"/>
<line x1="126.9" y1="272.4" x2="131" y2="272.4" stroke="#1a1a1a" stroke-width="1.3"/>
<line x1="126.9" y1="271.4" x2="126.9" y2="273.4" stroke="#1a1a1a" stroke-width="0.6"/>
<line x1="131" y1="271.4" x2="131" y2="273.4" stroke="#1a1a1a" stroke-width="0.6"/>
<line x1="130.2" y1="275.3" x2="137.9" y2="275.3" stroke="#1a1a1a" stroke-width="0.7"/>
<line x1="130.2" y1="274.3" x2="130.2" y2="276.3" stroke="#1a1a1a" stroke-width="0.6"/>
<line x1="137.9" y1="274.3" x2="137.9" y2="276.3" stroke="#1a1a1a" stroke-width="0.6"/>
<line x1="137" y1="279.6" x2="141.8" y2="279.6" stroke="#1a1a1a" stroke-width="0.7"/>
<line x1="137" y1="278.6" x2="137" y2="280.6" stroke="#1a1a1a" stroke-width="0.6"/>
<line x1="141.8" y1="278.6" x2="141.8" y2="280.6" stroke="#1a1a1a" stroke-width="0.6"/>
<path d="M193.2 293.4 L201.75 293.4 L202.52 291.9 L202.66 275.08 L203.01 260.1 L204.11 260.1 L204.46 276.75 L204.85 291.9 L205.89 292.4 L212.88 292.5 L212.42 292.5 L213.52 288.8 L214.32 288.8 L215.52 293.9 L245 293.9 Z" fill="#a8002a" stroke="#a8002a" stroke-width="0.25"/>
<rect x="193.5" y="250.5" width="53" height="43" fill="none" stroke="#111" stroke-width="1.0"/>
<line x1="193.2" y1="293.5" x2="193.2" y2="296.3" stroke="#111" stroke-width="0.8"/>
<line x1="194.24" y1="293.5" x2="194.24" y2="295" stroke="#111" stroke-width="0.6"/>
<line x1="195.27" y1="293.5" x2="195.27" y2="295" stroke="#111" stroke-width="0.6"/>
<line x1="196.31" y1="293.5" x2="196.31" y2="295" stroke="#111" stroke-width="0.6"/>
<line x1="197.34" y1="293.5" x2="197.34" y2="295" stroke="#111" stroke-width="0.6"/>
<line x1="198.38" y1="293.5" x2="198.38" y2="295" stroke="#111" stroke-width="0.6"/>
<line x1="199.42" y1="293.5" x2="199.42" y2="295" stroke="#111" stroke-width="0.6"/>
<line x1="200.45" y1="293.5" x2="200.45" y2="295" stroke="#111" stroke-width="0.6"/>
<line x1="201.49" y1="293.5" x2="201.49" y2="295" stroke="#111" stroke-width="0.6"/>
<line x1="202.52" y1="293.5" x2="202.52" y2="295" stroke="#111" stroke-width="0.6"/>
<line x1="203.56" y1="293.5" x2="203.56" y2="296.3" stroke="#111" stroke-width="0.8"/>
<line x1="204.6" y1="293.5" x2="204.6" y2="295" stroke="#111" stroke-width="0.6"/>
<line x1="205.63" y1="293.5" x2="205.63" y2="295" stroke="#111" stroke-width="0.6"/>
<line x1="206.67" y1="293.5" x2="206.67" y2="295" stroke="#111" stroke-width="0.6"/>
<line x1="207.7" y1="293.5" x2="207.7" y2="295" stroke="#111" stroke-width="0.6"/>
<line x1="208.74" y1="293.5" x2="208.74" y2="295" stroke="#111" stroke-width="0.6"/>
<line x1="209.78" y1="293.5" x2="209.78" y2="295" stroke="#111" stroke-width="0.6"/>
<line x1="210.81" y1="293.5" x2="210.81" y2="295" stroke="#111" stroke-width="0.6"/>
<line x1="211.85" y1="293.5" x2="211.85" y2="295" stroke="#111" stroke-width="0.6"/>
<line x1="212.88" y1="293.5" x2="212.88" y2="295" stroke="#111" stroke-width="0.6"/>
<line x1="213.92" y1="293.5" x2="213.92" y2="296.3" stroke="#111" stroke-width="0.8"/>
<line x1="214.96" y1="293.5" x2="214.96" y2="295" stroke="#111" stroke-width="0.6"/>
<line x1="215.99" y1="293.5" x2="215.99" y2="295" stroke="#111" stroke-width="0.6"/>
<line x1="217.03" y1="293.5" x2="217.03" y2="295" stroke="#111" stroke-width="0.6"/>
<line x1="218.06" y1="293.5" x2="218.06" y2="295" stroke="#111" stroke-width="0.6"/>
<line x1="219.1" y1="293.5" x2="219.1" y2="295" stroke="#111" stroke-width="0.6"/>
<line x1="220.14" y1="293.5" x2="220.14" y2="295" stroke="#111" stroke-width="0.6"/>
<line x1="221.17" y1="293.5" x2="221.17" y2="295" stroke="#111" stroke-width="0.6"/>
<line x1="222.21" y1="293.5" x2="222.21" y2="295" stroke="#111" stroke-width="0.6"/>
<line x1="223.24" y1="293.5" x2="223.24" y2="295" stroke="#111" stroke-width="0.6"/>
<line x1="224.28" y1="293.5" x2="224.28" y2="296.3" stroke="#111" stroke-width="0.8"/>
<line x1="225.32" y1="293.5" x2="225.32" y2="295" stroke="#111" stroke-width="0.6"/>
<line x1="226.35" y1="293.5" x2="226.35" y2="295" stroke="#111" stroke-width="0.6"/>
<line x1="227.39" y1="293.5" x2="227.39" y2="295" stroke="#111" stroke-width="0.6"/>
<line x1="228.42" y1="293.5" x2="228.42" y2="295" stroke="#111" stroke-width="0.6"/>
<line x1="229.46" y1="293.5" x2="229.46" y2="295" stroke="#111" stroke-width="0.6"/>
<line x1="230.5" y1="293.5" x2="230.5" y2="295" stroke="#111" stroke-width="0.6"/>
<line x1="231.53" y1="293.5" x2="231.53" y2="295" stroke="#111" stroke-width="0.6"/>
<line x1="232.57" y1="293.5" x2="232.57" y2="295" stroke="#111" stroke-width="0.6"/>
<line x1="233.6" y1="293.5" x2="233.6" y2="295" stroke="#111" stroke-width="0.6"/>
<line x1="234.64" y1="293.5" x2="234.64" y2="296.3" stroke="#111" stroke-width="0.8"/>
<line x1="235.68" y1="293.5" x2="235.68" y2="295" stroke="#111" stroke-width="0.6"/>
<line x1="236.71" y1="293.5" x2="236.71" y2="295" stroke="#111" stroke-width="0.6"/>
<line x1="237.75" y1="293.5" x2="237.75" y2="295" stroke="#111" stroke-width="0.6"/>
<line x1="238.78" y1="293.5" x2="238.78" y2="295" stroke="#111" stroke-width="0.6"/>
<line x1="239.82" y1="293.5" x2="239.82" y2="295" stroke="#111" stroke-width="0.6"/>
<line x1="240.86" y1="293.5" x2="240.86" y2="295" stroke="#111" stroke-width="0.6"/>
<line x1="241.89" y1="293.5" x2="241.89" y2="295" stroke="#111" stroke-width="0.6"/>
<line x1="242.93" y1="293.5" x2="242.93" y2="295" stroke="#111" stroke-width="0.6"/>
<line x1="243.96" y1="293.5" x2="243.96" y2="295" stroke="#111" stroke-width="0.6"/>
<line x1="245" y1="293.5" x2="245" y2="296.3" stroke="#111" stroke-width="0.8"/>
<text x="193.2" y="303" font-size="4.9" text-anchor="middle" fill="#111" stroke="#111" stroke-width="0.13" textLength="2.6" lengthAdjust="spacingAndGlyphs">0</text>
<text x="203.56" y="303" font-size="4.9" text-anchor="middle" fill="#111" stroke="#111" stroke-width="0.13" textLength="7.2" lengthAdjust="spacingAndGlyphs">200</text>
<text x="213.92" y="303" font-size="4.9" text-anchor="middle" fill="#111" stroke="#111" stroke-width="0.13" textLength="7.2" lengthAdjust="spacingAndGlyphs">400</text>
<text x="224.28" y="303" font-size="4.9" text-anchor="middle" fill="#111" stroke="#111" stroke-width="0.13" textLength="7.2" lengthAdjust="spacingAndGlyphs">600</text>
<text x="234.64" y="303" font-size="4.9" text-anchor="middle" fill="#111" stroke="#111" stroke-width="0.13" textLength="7.2" lengthAdjust="spacingAndGlyphs">800</text>
<text x="245" y="303" font-size="4.9" text-anchor="middle" fill="#111" stroke="#111" stroke-width="0.13" textLength="8" lengthAdjust="spacingAndGlyphs">1.0K</text>
<line x1="190.7" y1="292.8" x2="193.5" y2="292.8" stroke="#111" stroke-width="0.7"/>
<text x="188" y="294.55" font-size="4.9" text-anchor="end" fill="#111" stroke="#111" stroke-width="0.13" textLength="2.6" lengthAdjust="spacingAndGlyphs">0</text>
<line x1="190.7" y1="283.5" x2="193.5" y2="283.5" stroke="#111" stroke-width="0.7"/>
<text x="188" y="285.25" font-size="4.9" text-anchor="end" fill="#111" stroke="#111" stroke-width="0.13" textLength="7.2" lengthAdjust="spacingAndGlyphs">500</text>
<line x1="190.7" y1="274.2" x2="193.5" y2="274.2" stroke="#111" stroke-width="0.7"/>
<text x="188" y="275.95" font-size="4.9" text-anchor="end" fill="#111" stroke="#111" stroke-width="0.13" textLength="8.4" lengthAdjust="spacingAndGlyphs">1.0K</text>
<line x1="190.7" y1="265" x2="193.5" y2="265" stroke="#111" stroke-width="0.7"/>
<text x="188" y="266.75" font-size="4.9" text-anchor="end" fill="#111" stroke="#111" stroke-width="0.13" textLength="8.4" lengthAdjust="spacingAndGlyphs">1.5K</text>
<line x1="190.7" y1="255.8" x2="193.5" y2="255.8" stroke="#111" stroke-width="0.7"/>
<text x="188" y="257.55" font-size="4.9" text-anchor="end" fill="#111" stroke="#111" stroke-width="0.13" textLength="8.4" lengthAdjust="spacingAndGlyphs">2.0K</text>
<line x1="192.4" y1="292.8" x2="193.5" y2="292.8" stroke="#111" stroke-width="0.45"/>
<line x1="192.4" y1="290.94" x2="193.5" y2="290.94" stroke="#111" stroke-width="0.45"/>
<line x1="192.4" y1="289.08" x2="193.5" y2="289.08" stroke="#111" stroke-width="0.45"/>
<line x1="192.4" y1="287.22" x2="193.5" y2="287.22" stroke="#111" stroke-width="0.45"/>
<line x1="192.4" y1="285.36" x2="193.5" y2="285.36" stroke="#111" stroke-width="0.45"/>
<line x1="192.4" y1="283.5" x2="193.5" y2="283.5" stroke="#111" stroke-width="0.45"/>
<line x1="192.4" y1="281.64" x2="193.5" y2="281.64" stroke="#111" stroke-width="0.45"/>
<line x1="192.4" y1="279.78" x2="193.5" y2="279.78" stroke="#111" stroke-width="0.45"/>
<line x1="192.4" y1="277.92" x2="193.5" y2="277.92" stroke="#111" stroke-width="0.45"/>
<line x1="192.4" y1="276.06" x2="193.5" y2="276.06" stroke="#111" stroke-width="0.45"/>
<line x1="192.4" y1="274.2" x2="193.5" y2="274.2" stroke="#111" stroke-width="0.45"/>
<line x1="192.4" y1="272.34" x2="193.5" y2="272.34" stroke="#111" stroke-width="0.45"/>
<line x1="192.4" y1="270.48" x2="193.5" y2="270.48" stroke="#111" stroke-width="0.45"/>
<line x1="192.4" y1="268.62" x2="193.5" y2="268.62" stroke="#111" stroke-width="0.45"/>
<line x1="192.4" y1="266.76" x2="193.5" y2="266.76" stroke="#111" stroke-width="0.45"/>
<line x1="192.4" y1="264.9" x2="193.5" y2="264.9" stroke="#111" stroke-width="0.45"/>
<line x1="192.4" y1="263.04" x2="193.5" y2="263.04" stroke="#111" stroke-width="0.45"/>
<line x1="192.4" y1="261.18" x2="193.5" y2="261.18" stroke="#111" stroke-width="0.45"/>
<line x1="192.4" y1="259.32" x2="193.5" y2="259.32" stroke="#111" stroke-width="0.45"/>
<line x1="192.4" y1="257.46" x2="193.5" y2="257.46" stroke="#111" stroke-width="0.45"/>
<line x1="192.4" y1="255.6" x2="193.5" y2="255.6" stroke="#111" stroke-width="0.45"/>
<line x1="192.4" y1="253.74" x2="193.5" y2="253.74" stroke="#111" stroke-width="0.45"/>
<line x1="192.4" y1="251.88" x2="193.5" y2="251.88" stroke="#111" stroke-width="0.45"/>
<rect x="215.4" y="253.1" width="3.2" height="0.7" fill="#777"/>
<rect x="215.7" y="255.1" width="2.6" height="0.7" fill="#888"/>
<rect x="222.7" y="253.1" width="1.6" height="0.7" fill="#777"/>
<rect x="223" y="255.1" width="2.6" height="0.7" fill="#888"/>
<rect x="229.3" y="253.1" width="1.6" height="0.7" fill="#777"/>
<rect x="229.6" y="255.1" width="2.6" height="0.7" fill="#888"/>
<rect x="236.7" y="253.1" width="3.2" height="0.7" fill="#777"/>
<rect x="237" y="255.1" width="2.6" height="0.7" fill="#888"/>
<text x="244.5" y="261.6" font-size="5.4" text-anchor="end" fill="#111" stroke="#111" stroke-width="0.13" textLength="26.74" lengthAdjust="spacingAndGlyphs">sub-G1 1.10</text>
<text x="244.5" y="266.6" font-size="4.6" text-anchor="end" fill="#111" stroke="#111" stroke-width="0.13" textLength="14.73" lengthAdjust="spacingAndGlyphs">G1 68.2</text>
<text x="244.5" y="271.5" font-size="4.6" text-anchor="end" fill="#111" stroke="#111" stroke-width="0.13" textLength="11.97" lengthAdjust="spacingAndGlyphs">S 13.9</text>
<text x="244.5" y="278.1" font-size="4.6" text-anchor="end" fill="#111" stroke="#111" stroke-width="0.13" textLength="19.56" lengthAdjust="spacingAndGlyphs">G2-M 16.7</text>
<line x1="198.8" y1="268.8" x2="203" y2="268.8" stroke="#1a1a1a" stroke-width="0.7"/>
<line x1="198.8" y1="267.8" x2="198.8" y2="269.8" stroke="#1a1a1a" stroke-width="0.6"/>
<line x1="203" y1="267.8" x2="203" y2="269.8" stroke="#1a1a1a" stroke-width="0.6"/>
<line x1="202.4" y1="273" x2="206" y2="273" stroke="#1a1a1a" stroke-width="1.3"/>
<line x1="202.4" y1="272" x2="202.4" y2="274" stroke="#1a1a1a" stroke-width="0.6"/>
<line x1="206" y1="272" x2="206" y2="274" stroke="#1a1a1a" stroke-width="0.6"/>
<line x1="205.5" y1="275.5" x2="212.7" y2="275.5" stroke="#1a1a1a" stroke-width="0.7"/>
<line x1="205.5" y1="274.5" x2="205.5" y2="276.5" stroke="#1a1a1a" stroke-width="0.6"/>
<line x1="212.7" y1="274.5" x2="212.7" y2="276.5" stroke="#1a1a1a" stroke-width="0.6"/>
<line x1="212.2" y1="280" x2="216.5" y2="280" stroke="#1a1a1a" stroke-width="0.7"/>
<line x1="212.2" y1="279" x2="212.2" y2="281" stroke="#1a1a1a" stroke-width="0.6"/>
<line x1="216.5" y1="279" x2="216.5" y2="281" stroke="#1a1a1a" stroke-width="0.6"/>
<text x="250.4" y="212.4" font-size="6.6" text-anchor="middle" fill="#111" stroke="#111" stroke-width="0.13" transform="rotate(90 250.4 212.4)" textLength="28.2" lengthAdjust="spacingAndGlyphs">MOLM-13</text>
<text x="250.4" y="271.6" font-size="6.6" text-anchor="middle" fill="#111" stroke="#111" stroke-width="0.13" transform="rotate(90 250.4 271.6)" textLength="17.2" lengthAdjust="spacingAndGlyphs">THP-1</text>
<line x1="20.6" y1="194" x2="20.6" y2="299.8" stroke="#666" stroke-width="1"/>
<path d="M20.6 190.9 L22.9 196.3 L18.3 196.3 Z" fill="#111"/>
<text x="15.1" y="245.7" font-size="10.6" text-anchor="middle" fill="#111" stroke="#111" stroke-width="0.05" transform="rotate(-90 15.1 245.7)" textLength="23.2" lengthAdjust="spacingAndGlyphs">Counts</text>
<line x1="41.3" y1="309.2" x2="243" y2="309.2" stroke="#555" stroke-width="1"/>
<path d="M247.2 309.2 L241.8 306.9 L241.8 311.5 Z" fill="#111"/>
<text x="141.2" y="317.9" font-size="6.3" text-anchor="start" fill="#111" stroke="#111" stroke-width="0.13" textLength="5.4" lengthAdjust="spacingAndGlyphs">PI</text>
<line x1="35.9" y1="371.6" x2="35.9" y2="446.1" stroke="#333" stroke-width="1.2"/>
<line x1="35.3" y1="445.6" x2="159.3" y2="445.6" stroke="#111" stroke-width="1"/>
<line x1="33.3" y1="445.6" x2="35.7" y2="445.6" stroke="#111" stroke-width="0.8"/>
<text x="30.6" y="447.95" font-size="6.6" text-anchor="end" fill="#111" stroke="#111" stroke-width="0.13" textLength="3.7" lengthAdjust="spacingAndGlyphs">0</text>
<line x1="33.3" y1="431.04" x2="35.7" y2="431.04" stroke="#111" stroke-width="0.8"/>
<text x="30.6" y="433.39" font-size="6.6" text-anchor="end" fill="#111" stroke="#111" stroke-width="0.13" textLength="7.3" lengthAdjust="spacingAndGlyphs">20</text>
<line x1="33.3" y1="416.48" x2="35.7" y2="416.48" stroke="#111" stroke-width="0.8"/>
<text x="30.6" y="418.83" font-size="6.6" text-anchor="end" fill="#111" stroke="#111" stroke-width="0.13" textLength="7.3" lengthAdjust="spacingAndGlyphs">40</text>
<line x1="33.3" y1="401.92" x2="35.7" y2="401.92" stroke="#111" stroke-width="0.8"/>
<text x="30.6" y="404.27" font-size="6.6" text-anchor="end" fill="#111" stroke="#111" stroke-width="0.13" textLength="7.3" lengthAdjust="spacingAndGlyphs">60</text>
<line x1="33.3" y1="387.36" x2="35.7" y2="387.36" stroke="#111" stroke-width="0.8"/>
<text x="30.6" y="389.71" font-size="6.6" text-anchor="end" fill="#111" stroke="#111" stroke-width="0.13" textLength="7.3" lengthAdjust="spacingAndGlyphs">80</text>
<line x1="33.3" y1="372.8" x2="35.7" y2="372.8" stroke="#111" stroke-width="0.8"/>
<text x="30.6" y="375.15" font-size="6.6" text-anchor="end" fill="#111" stroke="#111" stroke-width="0.13" textLength="11" lengthAdjust="spacingAndGlyphs">100</text>
<text x="14.5" y="407.9" font-size="9.4" text-anchor="middle" fill="#111" stroke="#111" stroke-width="0.05" transform="rotate(-90 14.5 407.9)" textLength="28.5" lengthAdjust="spacingAndGlyphs">% of cells</text>
<rect x="27.1" y="350.5" width="7.6" height="4.4" fill="#6aab3c"/>
<text x="37.6" y="354.6" font-size="5.6" text-anchor="start" fill="#111" stroke="#111" stroke-width="0.13" textLength="17" lengthAdjust="spacingAndGlyphs">sub-G1</text>
<rect x="61" y="350.5" width="7.6" height="4.4" fill="#4e1f66"/>
<text x="71.1" y="354.6" font-size="5.6" text-anchor="start" fill="#111" stroke="#111" stroke-width="0.13" textLength="7.3" lengthAdjust="spacingAndGlyphs">G1</text>
<rect x="84.6" y="350.5" width="7.6" height="4.4" fill="#a8002a"/>
<text x="95" y="354.6" font-size="5.6" text-anchor="start" fill="#111" stroke="#111" stroke-width="0.13" textLength="2.9" lengthAdjust="spacingAndGlyphs">S</text>
<rect x="103.8" y="350.5" width="7.6" height="4.4" fill="#1f4a8a"/>
<text x="114.5" y="354.6" font-size="5.6" text-anchor="start" fill="#111" stroke="#111" stroke-width="0.13" textLength="13.5" lengthAdjust="spacingAndGlyphs">G2-M</text>
<text x="45.6" y="366" font-size="5.8" text-anchor="middle" fill="#111" stroke="#111" stroke-width="0.13" textLength="17.4" lengthAdjust="spacingAndGlyphs">MV4-11</text>
<line x1="37.45" y1="370.5" x2="54.75" y2="370.5" stroke="#1a1a1a" stroke-width="1"/>
<rect x="37.55" y="372.8" width="4.3" height="15.14" fill="#1f4a8a"/>
<rect x="37.55" y="387.94" width="4.3" height="15.29" fill="#a8002a"/>
<rect x="37.55" y="403.23" width="4.3" height="41.28" fill="#4e1f66"/>
<rect x="37.55" y="444.51" width="4.3" height="1.09" fill="#6aab3c"/>
<line x1="39.7" y1="445.6" x2="39.7" y2="448.6" stroke="#111" stroke-width="0.9"/>
<rect x="43.85" y="372.8" width="4.3" height="8.44" fill="#1f4a8a"/>
<rect x="43.85" y="381.24" width="4.3" height="7.28" fill="#a8002a"/>
<rect x="43.85" y="388.52" width="4.3" height="53.14" fill="#4e1f66"/>
<rect x="43.85" y="441.67" width="4.3" height="3.93" fill="#6aab3c"/>
<line x1="46" y1="445.6" x2="46" y2="448.6" stroke="#111" stroke-width="0.9"/>
<rect x="50.35" y="372.8" width="4.3" height="12.89" fill="#1f4a8a"/>
<rect x="50.35" y="385.69" width="4.3" height="9.68" fill="#a8002a"/>
<rect x="50.35" y="395.37" width="4.3" height="47.68" fill="#4e1f66"/>
<rect x="50.35" y="443.05" width="4.3" height="2.55" fill="#6aab3c"/>
<line x1="52.5" y1="445.6" x2="52.5" y2="448.6" stroke="#111" stroke-width="0.9"/>
<text x="41.7" y="455.2" font-size="5.2" text-anchor="end" fill="#111" stroke="#111" stroke-width="0.13" transform="rotate(-45 41.7 455.2)">si-NC</text>
<text x="48" y="455.2" font-size="5.2" text-anchor="end" fill="#111" stroke="#111" stroke-width="0.13" transform="rotate(-45 48 455.2)">si-circMYBL2-1</text>
<text x="54.5" y="455.2" font-size="5.2" text-anchor="end" fill="#111" stroke="#111" stroke-width="0.13" transform="rotate(-45 54.5 455.2)">si-circMYBL2-2</text>
<text x="71.5" y="366" font-size="5.8" text-anchor="middle" fill="#111" stroke="#111" stroke-width="0.13" textLength="23.8" lengthAdjust="spacingAndGlyphs">MOLM-13</text>
<line x1="63.05" y1="370.5" x2="80.55" y2="370.5" stroke="#1a1a1a" stroke-width="1"/>
<rect x="63.15" y="372.8" width="4.3" height="7.35" fill="#1f4a8a"/>
<rect x="63.15" y="380.15" width="4.3" height="10.99" fill="#a8002a"/>
<rect x="63.15" y="391.15" width="4.3" height="53.73" fill="#4e1f66"/>
<rect x="63.15" y="444.87" width="4.3" height="0.73" fill="#6aab3c"/>
<line x1="65.3" y1="445.6" x2="65.3" y2="448.6" stroke="#111" stroke-width="0.9"/>
<rect x="69.85" y="372.8" width="4.3" height="3.64" fill="#1f4a8a"/>
<rect x="69.85" y="376.44" width="4.3" height="3.71" fill="#a8002a"/>
<rect x="69.85" y="380.15" width="4.3" height="53.65" fill="#4e1f66"/>
<rect x="69.85" y="433.81" width="4.3" height="11.79" fill="#6aab3c"/>
<line x1="72" y1="445.6" x2="72" y2="448.6" stroke="#111" stroke-width="0.9"/>
<rect x="76.15" y="372.8" width="4.3" height="3.93" fill="#1f4a8a"/>
<rect x="76.15" y="376.73" width="4.3" height="4.51" fill="#a8002a"/>
<rect x="76.15" y="381.24" width="4.3" height="61.88" fill="#4e1f66"/>
<rect x="76.15" y="443.12" width="4.3" height="2.48" fill="#6aab3c"/>
<line x1="78.3" y1="445.6" x2="78.3" y2="448.6" stroke="#111" stroke-width="0.9"/>
<text x="67.3" y="455.2" font-size="5.2" text-anchor="end" fill="#111" stroke="#111" stroke-width="0.13" transform="rotate(-45 67.3 455.2)">si-NC</text>
<text x="74" y="455.2" font-size="5.2" text-anchor="end" fill="#111" stroke="#111" stroke-width="0.13" transform="rotate(-45 74 455.2)">si-circMYBL2-1</text>
<text x="80.3" y="455.2" font-size="5.2" text-anchor="end" fill="#111" stroke="#111" stroke-width="0.13" transform="rotate(-45 80.3 455.2)">si-circMYBL2-2</text>
<text x="97.4" y="366" font-size="5.8" text-anchor="middle" fill="#111" stroke="#111" stroke-width="0.13" textLength="14.7" lengthAdjust="spacingAndGlyphs">THP-1</text>
<line x1="88.95" y1="370.5" x2="106.35" y2="370.5" stroke="#1a1a1a" stroke-width="1"/>
<rect x="89.05" y="372.8" width="4.3" height="12.08" fill="#1f4a8a"/>
<rect x="89.05" y="384.88" width="4.3" height="9.17" fill="#a8002a"/>
<rect x="89.05" y="394.06" width="4.3" height="51.11" fill="#4e1f66"/>
<rect x="89.05" y="445.16" width="4.3" height="0.44" fill="#6aab3c"/>
<line x1="91.2" y1="445.6" x2="91.2" y2="448.6" stroke="#111" stroke-width="0.9"/>
<rect x="95.55" y="372.8" width="4.3" height="13.4" fill="#1f4a8a"/>
<rect x="95.55" y="386.2" width="4.3" height="9.61" fill="#a8002a"/>
<rect x="95.55" y="395.8" width="4.3" height="49.36" fill="#4e1f66"/>
<rect x="95.55" y="445.16" width="4.3" height="0.44" fill="#6aab3c"/>
<line x1="97.7" y1="445.6" x2="97.7" y2="448.6" stroke="#111" stroke-width="0.9"/>
<rect x="101.95" y="372.8" width="4.3" height="12.45" fill="#1f4a8a"/>
<rect x="101.95" y="385.25" width="4.3" height="10.56" fill="#a8002a"/>
<rect x="101.95" y="395.8" width="4.3" height="49.36" fill="#4e1f66"/>
<rect x="101.95" y="445.16" width="4.3" height="0.44" fill="#6aab3c"/>
<line x1="104.1" y1="445.6" x2="104.1" y2="448.6" stroke="#111" stroke-width="0.9"/>
<text x="93.2" y="455.2" font-size="5.2" text-anchor="end" fill="#111" stroke="#111" stroke-width="0.13" transform="rotate(-45 93.2 455.2)">si-NC</text>
<text x="99.7" y="455.2" font-size="5.2" text-anchor="end" fill="#111" stroke="#111" stroke-width="0.13" transform="rotate(-45 99.7 455.2)">si-circMYBL2-1</text>
<text x="106.1" y="455.2" font-size="5.2" text-anchor="end" fill="#111" stroke="#111" stroke-width="0.13" transform="rotate(-45 106.1 455.2)">si-circMYBL2-2</text>
<text x="123.3" y="366" font-size="5.8" text-anchor="middle" fill="#111" stroke="#111" stroke-width="0.13" textLength="13.2" lengthAdjust="spacingAndGlyphs">ML-2</text>
<line x1="114.85" y1="370.5" x2="132.35" y2="370.5" stroke="#1a1a1a" stroke-width="1"/>
<rect x="114.95" y="372.8" width="4.3" height="7.86" fill="#1f4a8a"/>
<rect x="114.95" y="380.66" width="4.3" height="18.86" fill="#a8002a"/>
<rect x="114.95" y="399.52" width="4.3" height="45.65" fill="#4e1f66"/>
<rect x="114.95" y="445.16" width="4.3" height="0.44" fill="#6aab3c"/>
<line x1="117.1" y1="445.6" x2="117.1" y2="448.6" stroke="#111" stroke-width="0.9"/>
<rect x="121.45" y="372.8" width="4.3" height="8.44" fill="#1f4a8a"/>
<rect x="121.45" y="381.24" width="4.3" height="9.1" fill="#a8002a"/>
<rect x="121.45" y="390.34" width="4.3" height="54.82" fill="#4e1f66"/>
<rect x="121.45" y="445.16" width="4.3" height="0.44" fill="#6aab3c"/>
<line x1="123.6" y1="445.6" x2="123.6" y2="448.6" stroke="#111" stroke-width="0.9"/>
<rect x="127.95" y="372.8" width="4.3" height="9.68" fill="#1f4a8a"/>
<rect x="127.95" y="382.48" width="4.3" height="19.22" fill="#a8002a"/>
<rect x="127.95" y="401.7" width="4.3" height="43.46" fill="#4e1f66"/>
<rect x="127.95" y="445.16" width="4.3" height="0.44" fill="#6aab3c"/>
<line x1="130.1" y1="445.6" x2="130.1" y2="448.6" stroke="#111" stroke-width="0.9"/>
<text x="119.1" y="455.2" font-size="5.2" text-anchor="end" fill="#111" stroke="#111" stroke-width="0.13" transform="rotate(-45 119.1 455.2)">si-NC</text>
<text x="125.6" y="455.2" font-size="5.2" text-anchor="end" fill="#111" stroke="#111" stroke-width="0.13" transform="rotate(-45 125.6 455.2)">si-circMYBL2-1</text>
<text x="132.1" y="455.2" font-size="5.2" text-anchor="end" fill="#111" stroke="#111" stroke-width="0.13" transform="rotate(-45 132.1 455.2)">si-circMYBL2-2</text>
<text x="149.1" y="366" font-size="5.8" text-anchor="middle" fill="#111" stroke="#111" stroke-width="0.13" textLength="12.8" lengthAdjust="spacingAndGlyphs">HL60</text>
<line x1="140.75" y1="370.5" x2="158.15" y2="370.5" stroke="#1a1a1a" stroke-width="1"/>
<rect x="140.85" y="372.8" width="4.3" height="8.44" fill="#1f4a8a"/>
<rect x="140.85" y="381.24" width="4.3" height="14.56" fill="#a8002a"/>
<rect x="140.85" y="395.8" width="4.3" height="48.63" fill="#4e1f66"/>
<rect x="140.85" y="444.44" width="4.3" height="1.16" fill="#6aab3c"/>
<line x1="143" y1="445.6" x2="143" y2="448.6" stroke="#111" stroke-width="0.9"/>
<rect x="147.25" y="372.8" width="4.3" height="8.44" fill="#1f4a8a"/>
<rect x="147.25" y="381.24" width="4.3" height="14.27" fill="#a8002a"/>
<rect x="147.25" y="395.51" width="4.3" height="48.92" fill="#4e1f66"/>
<rect x="147.25" y="444.44" width="4.3" height="1.16" fill="#6aab3c"/>
<line x1="149.4" y1="445.6" x2="149.4" y2="448.6" stroke="#111" stroke-width="0.9"/>
<rect x="153.75" y="372.8" width="4.3" height="8.01" fill="#1f4a8a"/>
<rect x="153.75" y="380.81" width="4.3" height="15" fill="#a8002a"/>
<rect x="153.75" y="395.8" width="4.3" height="49.21" fill="#4e1f66"/>
<rect x="153.75" y="445.02" width="4.3" height="0.58" fill="#6aab3c"/>
<line x1="155.9" y1="445.6" x2="155.9" y2="448.6" stroke="#111" stroke-width="0.9"/>
<text x="145" y="455.2" font-size="5.2" text-anchor="end" fill="#111" stroke="#111" stroke-width="0.13" transform="rotate(-45 145 455.2)">si-NC</text>
<text x="151.4" y="455.2" font-size="5.2" text-anchor="end" fill="#111" stroke="#111" stroke-width="0.13" transform="rotate(-45 151.4 455.2)">si-circMYBL2-1</text>
<text x="157.9" y="455.2" font-size="5.2" text-anchor="end" fill="#111" stroke="#111" stroke-width="0.13" transform="rotate(-45 157.9 455.2)">si-circMYBL2-2</text>
<defs>
<radialGradient id="clg">
<stop offset="0" stop-color="#e2662a"/>
<stop offset="0.14" stop-color="#e8922a"/>
<stop offset="0.28" stop-color="#c9c43a"/>
<stop offset="0.44" stop-color="#78ba48"/>
<stop offset="0.6" stop-color="#5aa6a6"/>
<stop offset="0.78" stop-color="#6f94d8" stop-opacity="0.65"/>
<stop offset="1" stop-color="#a8c0ec" stop-opacity="0"/>
</radialGradient>
<radialGradient id="halo">
<stop offset="0" stop-color="#5b86d0" stop-opacity="0.75"/>
<stop offset="0.55" stop-color="#7fa2dc" stop-opacity="0.45"/>
<stop offset="1" stop-color="#b8cdee" stop-opacity="0"/>
</radialGradient>
<radialGradient id="hz">
<stop offset="0" stop-color="#7c9ede" stop-opacity="0.28"/>
<stop offset="0.6" stop-color="#9ab4e6" stop-opacity="0.14"/>
<stop offset="1" stop-color="#b8cdee" stop-opacity="0"/>
</radialGradient>
<radialGradient id="clg2">
<stop offset="0" stop-color="#7cc04a"/>
<stop offset="0.35" stop-color="#6fb4a0"/>
<stop offset="0.7" stop-color="#8aaee0" stop-opacity="0.6"/>
<stop offset="1" stop-color="#b8cdee" stop-opacity="0"/>
</radialGradient>
</defs>
<svg x="299.4" y="185.5" width="53.6" height="42.8" overflow="hidden"><g transform="translate(-299.4 -185.5)">
<ellipse cx="342" cy="206" rx="24.41" ry="7" fill="url(#hz)" transform="rotate(-55.01 342 206)"/>
<g fill="#5f82c8" fill-opacity="0.38"><circle cx="339.66" cy="217.85" r="0.42"/><circle cx="328.8" cy="221.97" r="0.42"/><circle cx="330.45" cy="223.05" r="0.42"/><circle cx="340.72" cy="211.25" r="0.42"/><circle cx="340.06" cy="209.62" r="0.42"/><circle cx="329.84" cy="212.4" r="0.42"/><circle cx="336.16" cy="210.92" r="0.42"/><circle cx="332.59" cy="221.54" r="0.42"/><circle cx="335.08" cy="221.98" r="0.42"/><circle cx="349.62" cy="201.66" r="0.42"/><circle cx="341.43" cy="206.63" r="0.42"/><circle cx="333.28" cy="223.67" r="0.42"/><circle cx="342.63" cy="203.69" r="0.42"/><circle cx="340.46" cy="206.41" r="0.42"/><circle cx="346.77" cy="196.66" r="0.42"/><circle cx="336.59" cy="205.08" r="0.42"/><circle cx="344.06" cy="209.09" r="0.42"/><circle cx="328.2" cy="223.59" r="0.42"/><circle cx="332.5" cy="220.04" r="0.42"/><circle cx="345.06" cy="199.05" r="0.42"/><circle cx="347.46" cy="200.37" r="0.42"/><circle cx="340.17" cy="203.79" r="0.42"/><circle cx="351.68" cy="196.12" r="0.42"/><circle cx="348.94" cy="204.82" r="0.42"/><circle cx="349.8" cy="203.4" r="0.42"/><circle cx="332.9" cy="218.54" r="0.42"/><circle cx="328.73" cy="224.69" r="0.42"/><circle cx="337.36" cy="222.99" r="0.42"/><circle cx="332.89" cy="223.72" r="0.42"/><circle cx="352.04" cy="197.83" r="0.42"/><circle cx="346.21" cy="203.16" r="0.42"/><circle cx="348.46" cy="199.55" r="0.42"/><circle cx="343.53" cy="208.14" r="0.42"/><circle cx="334.29" cy="221.97" r="0.42"/><circle cx="331.15" cy="217.68" r="0.42"/><circle cx="338.91" cy="216.41" r="0.42"/><circle cx="331.34" cy="209.81" r="0.42"/><circle cx="341.05" cy="201.81" r="0.42"/><circle cx="350.94" cy="204.83" r="0.42"/><circle cx="350.94" cy="195.46" r="0.42"/><circle cx="337.5" cy="212.88" r="0.42"/><circle cx="344.99" cy="204.5" r="0.42"/><circle cx="336.02" cy="220.44" r="0.42"/><circle cx="332.87" cy="223.27" r="0.42"/><circle cx="331.79" cy="222.17" r="0.42"/><circle cx="347.95" cy="195.03" r="0.42"/><circle cx="333.91" cy="219.01" r="0.42"/><circle cx="338.21" cy="213.25" r="0.42"/><circle cx="338.99" cy="209.75" r="0.42"/><circle cx="330.95" cy="223.59" r="0.42"/><circle cx="348.58" cy="198.2" r="0.42"/><circle cx="349.26" cy="193.32" r="0.42"/><circle cx="345.57" cy="207.7" r="0.42"/><circle cx="354.55" cy="189.2" r="0.42"/><circle cx="334.53" cy="217.73" r="0.42"/><circle cx="341.88" cy="198.47" r="0.42"/><circle cx="338.18" cy="219.52" r="0.42"/><circle cx="354.93" cy="188.15" r="0.42"/><circle cx="347.87" cy="195.85" r="0.42"/><circle cx="340.94" cy="208.49" r="0.42"/><circle cx="330.19" cy="226.36" r="0.42"/><circle cx="348.38" cy="201.27" r="0.42"/><circle cx="358.06" cy="193.52" r="0.42"/><circle cx="338.42" cy="215.08" r="0.42"/><circle cx="335.51" cy="222.53" r="0.42"/><circle cx="351.65" cy="192.4" r="0.42"/><circle cx="344.75" cy="202.25" r="0.42"/><circle cx="348.95" cy="200.39" r="0.42"/><circle cx="344.64" cy="200.5" r="0.42"/><circle cx="344.69" cy="203.64" r="0.42"/><circle cx="348.97" cy="194.79" r="0.42"/><circle cx="350.54" cy="191.95" r="0.42"/><circle cx="336.58" cy="226.1" r="0.42"/><circle cx="351.15" cy="202.85" r="0.42"/><circle cx="350.03" cy="190.32" r="0.42"/><circle cx="342.42" cy="207.27" r="0.42"/><circle cx="349.2" cy="190" r="0.42"/><circle cx="344.98" cy="196.65" r="0.42"/><circle cx="348.73" cy="199.95" r="0.42"/><circle cx="336.68" cy="219.31" r="0.42"/><circle cx="334.32" cy="217.22" r="0.42"/><circle cx="348" cy="197.61" r="0.42"/><circle cx="345.42" cy="203.98" r="0.42"/><circle cx="346.49" cy="194.68" r="0.42"/><circle cx="344.73" cy="208.1" r="0.42"/><circle cx="339.4" cy="219.09" r="0.42"/><circle cx="329.04" cy="220.11" r="0.42"/><circle cx="340.58" cy="209.86" r="0.42"/><circle cx="342.52" cy="205.28" r="0.42"/><circle cx="342.35" cy="208.93" r="0.42"/></g>
<g fill="#5f82c8" fill-opacity="0.38"><circle cx="346.99" cy="207.31" r="0.42"/><circle cx="342.36" cy="217.4" r="0.42"/><circle cx="350.07" cy="204.73" r="0.42"/><circle cx="343.48" cy="207.22" r="0.42"/><circle cx="341.27" cy="214.71" r="0.42"/><circle cx="339.95" cy="208.33" r="0.42"/><circle cx="340.52" cy="224.66" r="0.42"/><circle cx="345.38" cy="222.06" r="0.42"/><circle cx="350.73" cy="197.38" r="0.42"/><circle cx="342.31" cy="224.73" r="0.42"/><circle cx="348.48" cy="192.49" r="0.42"/><circle cx="332.68" cy="204.68" r="0.42"/><circle cx="331.6" cy="196.63" r="0.42"/><circle cx="331.61" cy="213.78" r="0.42"/><circle cx="347.25" cy="222.88" r="0.42"/><circle cx="333.4" cy="215.64" r="0.42"/><circle cx="344.53" cy="192.72" r="0.42"/><circle cx="349.42" cy="225.7" r="0.42"/><circle cx="334.83" cy="225.1" r="0.42"/><circle cx="338.76" cy="206.49" r="0.42"/><circle cx="351.78" cy="220.3" r="0.42"/><circle cx="333.55" cy="204.26" r="0.42"/><circle cx="341.34" cy="200.56" r="0.42"/><circle cx="334.31" cy="199.74" r="0.42"/><circle cx="345.89" cy="187.78" r="0.42"/></g>
<g fill="#6a8fd0" fill-opacity="0.35"><circle cx="306.54" cy="222.17" r="0.4"/><circle cx="320.93" cy="218.68" r="0.4"/><circle cx="306.85" cy="219.6" r="0.4"/><circle cx="335.39" cy="218.07" r="0.4"/><circle cx="314.39" cy="207.71" r="0.4"/><circle cx="319.67" cy="221.1" r="0.4"/><circle cx="327.14" cy="217.81" r="0.4"/><circle cx="314.84" cy="223.26" r="0.4"/><circle cx="302.37" cy="230.88" r="0.4"/><circle cx="315.48" cy="216.82" r="0.4"/><circle cx="327.01" cy="224.84" r="0.4"/><circle cx="303.25" cy="221.94" r="0.4"/><circle cx="316.8" cy="220.76" r="0.4"/><circle cx="309.85" cy="217.72" r="0.4"/><circle cx="331.32" cy="219.2" r="0.4"/><circle cx="303.54" cy="218.4" r="0.4"/><circle cx="328.26" cy="220.19" r="0.4"/><circle cx="328.79" cy="219.08" r="0.4"/><circle cx="308.65" cy="224.44" r="0.4"/><circle cx="297.71" cy="223.77" r="0.4"/><circle cx="314.9" cy="223.24" r="0.4"/><circle cx="309" cy="222.35" r="0.4"/><circle cx="318.33" cy="221.12" r="0.4"/><circle cx="319.31" cy="219.87" r="0.4"/><circle cx="313.48" cy="225.16" r="0.4"/><circle cx="313.3" cy="217.07" r="0.4"/><circle cx="309.94" cy="222.6" r="0.4"/><circle cx="313.89" cy="221.8" r="0.4"/><circle cx="314.7" cy="221.56" r="0.4"/><circle cx="311.24" cy="215.73" r="0.4"/><circle cx="319.25" cy="224.16" r="0.4"/><circle cx="317.16" cy="218.73" r="0.4"/><circle cx="315.89" cy="215.33" r="0.4"/><circle cx="301" cy="226.51" r="0.4"/><circle cx="309.07" cy="226.69" r="0.4"/><circle cx="302.07" cy="212.51" r="0.4"/><circle cx="309.76" cy="230.64" r="0.4"/><circle cx="309.28" cy="215.96" r="0.4"/><circle cx="309.88" cy="225.26" r="0.4"/><circle cx="318.25" cy="220.14" r="0.4"/><circle cx="326.2" cy="219.6" r="0.4"/><circle cx="315.3" cy="223.45" r="0.4"/><circle cx="327.88" cy="220.25" r="0.4"/><circle cx="319.79" cy="213.16" r="0.4"/><circle cx="314.62" cy="224.39" r="0.4"/><circle cx="314.16" cy="226.29" r="0.4"/><circle cx="320.24" cy="223.03" r="0.4"/><circle cx="317.35" cy="232.46" r="0.4"/><circle cx="322.85" cy="216.3" r="0.4"/><circle cx="319.59" cy="231.8" r="0.4"/><circle cx="313.49" cy="225.58" r="0.4"/><circle cx="321.39" cy="218.01" r="0.4"/><circle cx="306.42" cy="224.97" r="0.4"/><circle cx="318.94" cy="224.67" r="0.4"/><circle cx="320.02" cy="218.65" r="0.4"/><circle cx="321.42" cy="220.69" r="0.4"/><circle cx="315.96" cy="220.45" r="0.4"/><circle cx="313.87" cy="224.48" r="0.4"/><circle cx="305.79" cy="221.1" r="0.4"/><circle cx="311.87" cy="214.43" r="0.4"/><circle cx="307.77" cy="213.34" r="0.4"/><circle cx="310.53" cy="225.23" r="0.4"/><circle cx="318.34" cy="218.93" r="0.4"/><circle cx="310.26" cy="215.32" r="0.4"/><circle cx="328.32" cy="217.78" r="0.4"/><circle cx="320.64" cy="213.83" r="0.4"/><circle cx="309.89" cy="213.44" r="0.4"/><circle cx="321.6" cy="222.61" r="0.4"/><circle cx="300.8" cy="226.03" r="0.4"/><circle cx="315.8" cy="211.34" r="0.4"/><circle cx="299.53" cy="221.43" r="0.4"/><circle cx="307.46" cy="216.52" r="0.4"/><circle cx="315.06" cy="221.79" r="0.4"/><circle cx="320.15" cy="222.02" r="0.4"/><circle cx="327.14" cy="221.53" r="0.4"/><circle cx="304.17" cy="222.38" r="0.4"/><circle cx="304.96" cy="219.18" r="0.4"/><circle cx="313.83" cy="221.06" r="0.4"/><circle cx="315.11" cy="212.5" r="0.4"/><circle cx="305.55" cy="224.26" r="0.4"/><circle cx="312.43" cy="220.02" r="0.4"/><circle cx="312.62" cy="217.69" r="0.4"/><circle cx="320.01" cy="220.32" r="0.4"/><circle cx="312.6" cy="218.14" r="0.4"/><circle cx="308.39" cy="209.49" r="0.4"/><circle cx="307.48" cy="223.79" r="0.4"/><circle cx="304.04" cy="225.99" r="0.4"/><circle cx="313.03" cy="214.4" r="0.4"/><circle cx="312.07" cy="220.16" r="0.4"/><circle cx="318.75" cy="222.13" r="0.4"/><circle cx="312.65" cy="217.21" r="0.4"/><circle cx="313.26" cy="220.93" r="0.4"/><circle cx="320.15" cy="219.96" r="0.4"/><circle cx="306.88" cy="217" r="0.4"/><circle cx="310.45" cy="218.66" r="0.4"/><circle cx="306.28" cy="223.5" r="0.4"/><circle cx="311.09" cy="222.67" r="0.4"/><circle cx="317.4" cy="217.5" r="0.4"/><circle cx="330.39" cy="212.72" r="0.4"/><circle cx="322.46" cy="218.16" r="0.4"/><circle cx="318.18" cy="207.28" r="0.4"/><circle cx="309.48" cy="224.03" r="0.4"/><circle cx="322.79" cy="229.21" r="0.4"/><circle cx="318.94" cy="225.43" r="0.4"/><circle cx="321.52" cy="222.71" r="0.4"/><circle cx="317.76" cy="218.66" r="0.4"/><circle cx="316.14" cy="214.66" r="0.4"/><circle cx="321.03" cy="212.99" r="0.4"/><circle cx="319.89" cy="229.29" r="0.4"/><circle cx="312.84" cy="221.53" r="0.4"/><circle cx="322.73" cy="217.57" r="0.4"/><circle cx="309.1" cy="224.24" r="0.4"/><circle cx="319.79" cy="222.21" r="0.4"/><circle cx="311.97" cy="230.63" r="0.4"/><circle cx="326.3" cy="216.08" r="0.4"/><circle cx="315.56" cy="218.17" r="0.4"/><circle cx="323.23" cy="213.67" r="0.4"/><circle cx="318.36" cy="216.78" r="0.4"/><circle cx="310.72" cy="225.92" r="0.4"/><circle cx="323.88" cy="216.92" r="0.4"/><circle cx="311" cy="226.27" r="0.4"/><circle cx="314.59" cy="222.29" r="0.4"/><circle cx="327.23" cy="221.33" r="0.4"/><circle cx="314.7" cy="232.2" r="0.4"/><circle cx="315.8" cy="224.2" r="0.4"/><circle cx="309.71" cy="222.47" r="0.4"/><circle cx="305.07" cy="233.59" r="0.4"/><circle cx="321.99" cy="211.6" r="0.4"/><circle cx="300.84" cy="218.1" r="0.4"/><circle cx="321.97" cy="215.42" r="0.4"/></g>
<ellipse cx="314.4" cy="220.8" rx="11.04" ry="6.24" fill="url(#halo)" transform="rotate(-22 314.4 220.8)"/>
<ellipse cx="314.4" cy="220.8" rx="9.6" ry="5.2" fill="url(#clg)" transform="rotate(-22 314.4 220.8)"/>
</g></svg>
<line x1="328.5" y1="185.5" x2="328.5" y2="228.3" stroke="#707070" stroke-width="1.1"/>
<line x1="299.4" y1="213.5" x2="353" y2="213.5" stroke="#707070" stroke-width="1.1"/>
<rect x="301.4" y="188.5" width="1.2" height="0.5" fill="#888"/>
<rect x="301.4" y="189.9" width="2.6" height="0.5" fill="#888"/>
<rect x="301.4" y="223.8" width="1.2" height="0.5" fill="#888"/>
<rect x="301.4" y="225.2" width="2.6" height="0.5" fill="#888"/>
<rect x="347" y="188.5" width="1.2" height="0.5" fill="#888"/>
<rect x="347" y="189.9" width="2.6" height="0.5" fill="#888"/>
<rect x="347" y="223.8" width="1.2" height="0.5" fill="#888"/>
<rect x="347" y="225.2" width="2.6" height="0.5" fill="#888"/>
<rect x="299.5" y="185.5" width="54" height="43" fill="none" stroke="#111" stroke-width="1.1"/>
<text x="329.7" y="192.75" font-size="7.4" text-anchor="start" fill="#1a1a1a" stroke="#1a1a1a" stroke-width="0.05" textLength="9.2" lengthAdjust="spacingAndGlyphs">6.6</text>
<text x="329.7" y="225.45" font-size="7.4" text-anchor="start" fill="#1a1a1a" stroke="#1a1a1a" stroke-width="0.05" textLength="12.8" lengthAdjust="spacingAndGlyphs">2.89</text>
<svg x="375.6" y="185.9" width="51.9" height="42.7" overflow="hidden"><g transform="translate(-375.6 -185.9)">
<ellipse cx="417" cy="206" rx="23.85" ry="7" fill="url(#hz)" transform="rotate(-56.98 417 206)"/>
<ellipse cx="421" cy="210" rx="15.65" ry="3" fill="url(#hz)" transform="rotate(-63.43 421 210)"/>
<g fill="#5f82c8" fill-opacity="0.38"><circle cx="425.19" cy="201.9" r="0.42"/><circle cx="414.44" cy="204.16" r="0.42"/><circle cx="417.12" cy="215.49" r="0.42"/><circle cx="404.22" cy="218.66" r="0.42"/><circle cx="410.28" cy="204.88" r="0.42"/><circle cx="408.57" cy="212.09" r="0.42"/><circle cx="415.39" cy="206.4" r="0.42"/><circle cx="409.42" cy="223.45" r="0.42"/><circle cx="416.65" cy="213.5" r="0.42"/><circle cx="425.35" cy="192.61" r="0.42"/><circle cx="410.74" cy="217.71" r="0.42"/><circle cx="406.25" cy="221.58" r="0.42"/><circle cx="420.89" cy="201.66" r="0.42"/><circle cx="410.36" cy="211.5" r="0.42"/><circle cx="412.1" cy="211.61" r="0.42"/><circle cx="411.91" cy="213.36" r="0.42"/><circle cx="411.47" cy="202.55" r="0.42"/><circle cx="408.67" cy="217.77" r="0.42"/><circle cx="406.18" cy="212.49" r="0.42"/><circle cx="423.96" cy="196.09" r="0.42"/><circle cx="403.14" cy="214.86" r="0.42"/><circle cx="414.84" cy="207.77" r="0.42"/><circle cx="418.03" cy="207.77" r="0.42"/><circle cx="425.91" cy="195.94" r="0.42"/><circle cx="408.57" cy="221.74" r="0.42"/><circle cx="424.17" cy="199.81" r="0.42"/><circle cx="419.2" cy="199.28" r="0.42"/><circle cx="421.76" cy="206.74" r="0.42"/><circle cx="413.13" cy="212.94" r="0.42"/><circle cx="412.57" cy="214.53" r="0.42"/><circle cx="418.17" cy="201.52" r="0.42"/><circle cx="401.7" cy="219.28" r="0.42"/><circle cx="413.6" cy="214.37" r="0.42"/><circle cx="403.18" cy="224.85" r="0.42"/><circle cx="422.23" cy="188.32" r="0.42"/><circle cx="415.15" cy="209.99" r="0.42"/><circle cx="425.37" cy="190.71" r="0.42"/><circle cx="400.01" cy="221.39" r="0.42"/><circle cx="413.46" cy="213.85" r="0.42"/><circle cx="425.39" cy="195.03" r="0.42"/><circle cx="407.78" cy="214.03" r="0.42"/><circle cx="409.99" cy="211.35" r="0.42"/><circle cx="417.82" cy="214.48" r="0.42"/><circle cx="412.09" cy="210.68" r="0.42"/><circle cx="409.26" cy="212.85" r="0.42"/><circle cx="423.96" cy="193.49" r="0.42"/><circle cx="405.29" cy="217.51" r="0.42"/><circle cx="427.64" cy="195.92" r="0.42"/><circle cx="410.54" cy="215.34" r="0.42"/><circle cx="407.98" cy="221.55" r="0.42"/><circle cx="428.28" cy="191.8" r="0.42"/><circle cx="429.38" cy="190.96" r="0.42"/><circle cx="412.84" cy="214.49" r="0.42"/><circle cx="403.23" cy="218.53" r="0.42"/><circle cx="411.7" cy="212.38" r="0.42"/><circle cx="403.55" cy="224.66" r="0.42"/><circle cx="431.5" cy="198.77" r="0.42"/><circle cx="405.31" cy="220.14" r="0.42"/><circle cx="422.04" cy="197.73" r="0.42"/><circle cx="410.2" cy="212.63" r="0.42"/><circle cx="404.23" cy="221.03" r="0.42"/><circle cx="400.05" cy="224.01" r="0.42"/><circle cx="422.41" cy="199.2" r="0.42"/><circle cx="407.47" cy="219.01" r="0.42"/><circle cx="423.38" cy="197.96" r="0.42"/><circle cx="414.27" cy="212.74" r="0.42"/><circle cx="409.49" cy="211.58" r="0.42"/><circle cx="415.37" cy="213.85" r="0.42"/><circle cx="420.29" cy="189.15" r="0.42"/><circle cx="404.9" cy="224.66" r="0.42"/><circle cx="428.85" cy="192.45" r="0.42"/><circle cx="406.61" cy="215.96" r="0.42"/><circle cx="427.56" cy="199.09" r="0.42"/><circle cx="423.26" cy="195.21" r="0.42"/><circle cx="416.73" cy="206.11" r="0.42"/><circle cx="412.57" cy="209.95" r="0.42"/><circle cx="408.58" cy="213.82" r="0.42"/><circle cx="409.21" cy="220.86" r="0.42"/><circle cx="417.67" cy="211.46" r="0.42"/><circle cx="426.6" cy="193.62" r="0.42"/><circle cx="401.5" cy="219.15" r="0.42"/><circle cx="414.59" cy="211.69" r="0.42"/><circle cx="415.98" cy="198.97" r="0.42"/><circle cx="422.7" cy="195.28" r="0.42"/><circle cx="422.29" cy="200.51" r="0.42"/><circle cx="412.43" cy="208.82" r="0.42"/><circle cx="409.74" cy="216.31" r="0.42"/><circle cx="421.99" cy="194.22" r="0.42"/><circle cx="416.68" cy="209.95" r="0.42"/><circle cx="410.89" cy="210.98" r="0.42"/><circle cx="429.52" cy="194.31" r="0.42"/><circle cx="426.42" cy="191.82" r="0.42"/><circle cx="404.52" cy="222.24" r="0.42"/><circle cx="412.27" cy="215.64" r="0.42"/><circle cx="421.21" cy="198.42" r="0.42"/><circle cx="414" cy="213.72" r="0.42"/><circle cx="428.93" cy="196.12" r="0.42"/><circle cx="418.84" cy="206.22" r="0.42"/><circle cx="407.91" cy="219.96" r="0.42"/><circle cx="416.61" cy="202.37" r="0.42"/><circle cx="402.15" cy="225.66" r="0.42"/><circle cx="407.49" cy="218.32" r="0.42"/><circle cx="421.26" cy="197.82" r="0.42"/><circle cx="403.33" cy="221.28" r="0.42"/><circle cx="420.21" cy="203.8" r="0.42"/><circle cx="417.93" cy="202.45" r="0.42"/><circle cx="413.56" cy="212.02" r="0.42"/><circle cx="415.09" cy="207.44" r="0.42"/><circle cx="426.73" cy="196.01" r="0.42"/><circle cx="408.26" cy="214.08" r="0.42"/><circle cx="406.7" cy="220" r="0.42"/><circle cx="417.7" cy="200.84" r="0.42"/><circle cx="414.87" cy="208.62" r="0.42"/><circle cx="412.51" cy="200.37" r="0.42"/><circle cx="403.97" cy="217.32" r="0.42"/><circle cx="417.09" cy="208.81" r="0.42"/><circle cx="417.27" cy="205.72" r="0.42"/><circle cx="417.93" cy="199.91" r="0.42"/><circle cx="413.56" cy="221.21" r="0.42"/><circle cx="425.45" cy="192.84" r="0.42"/><circle cx="420.35" cy="198.42" r="0.42"/><circle cx="419.07" cy="201.81" r="0.42"/><circle cx="422.61" cy="201.43" r="0.42"/><circle cx="424.38" cy="194.93" r="0.42"/><circle cx="406.09" cy="217.59" r="0.42"/><circle cx="414.44" cy="212.07" r="0.42"/><circle cx="421.37" cy="199.73" r="0.42"/><circle cx="416.97" cy="204.29" r="0.42"/><circle cx="426.28" cy="199.59" r="0.42"/><circle cx="414.86" cy="203.66" r="0.42"/><circle cx="410.92" cy="207.83" r="0.42"/><circle cx="416.11" cy="203.29" r="0.42"/><circle cx="401.99" cy="218.93" r="0.42"/><circle cx="409.86" cy="209.74" r="0.42"/><circle cx="416" cy="211.32" r="0.42"/><circle cx="408.66" cy="221.09" r="0.42"/><circle cx="402.76" cy="220.53" r="0.42"/><circle cx="404.12" cy="219.84" r="0.42"/><circle cx="421.49" cy="196.46" r="0.42"/><circle cx="402.33" cy="220.3" r="0.42"/><circle cx="429.75" cy="197.94" r="0.42"/><circle cx="426.29" cy="186.64" r="0.42"/><circle cx="411.92" cy="215.79" r="0.42"/><circle cx="427.56" cy="192.39" r="0.42"/><circle cx="423.13" cy="197.88" r="0.42"/><circle cx="412.14" cy="209.71" r="0.42"/><circle cx="423.76" cy="200.55" r="0.42"/><circle cx="400.56" cy="217.6" r="0.42"/><circle cx="408.5" cy="219.3" r="0.42"/><circle cx="413.19" cy="212.86" r="0.42"/><circle cx="411.88" cy="215.4" r="0.42"/><circle cx="427.16" cy="199.73" r="0.42"/><circle cx="402.46" cy="217.73" r="0.42"/><circle cx="414.94" cy="208.47" r="0.42"/><circle cx="418.38" cy="203.65" r="0.42"/><circle cx="424.78" cy="190.02" r="0.42"/><circle cx="421.5" cy="207.19" r="0.42"/><circle cx="414.02" cy="208.61" r="0.42"/><circle cx="416.37" cy="213.17" r="0.42"/><circle cx="406.09" cy="218.47" r="0.42"/></g>
<g fill="#5f82c8" fill-opacity="0.38"><circle cx="418.7" cy="226.36" r="0.42"/><circle cx="417.48" cy="213.55" r="0.42"/><circle cx="411.19" cy="187.07" r="0.42"/><circle cx="404.78" cy="192.97" r="0.42"/><circle cx="418.17" cy="204.29" r="0.42"/><circle cx="415.79" cy="222.82" r="0.42"/><circle cx="407.04" cy="196.09" r="0.42"/><circle cx="419.02" cy="187.89" r="0.42"/><circle cx="404.06" cy="201.2" r="0.42"/><circle cx="406.45" cy="201.29" r="0.42"/><circle cx="409.16" cy="210.34" r="0.42"/><circle cx="417.55" cy="195.17" r="0.42"/><circle cx="418.35" cy="206" r="0.42"/><circle cx="407.1" cy="224.46" r="0.42"/><circle cx="409.6" cy="192.97" r="0.42"/><circle cx="406.2" cy="212.53" r="0.42"/><circle cx="424.04" cy="218.29" r="0.42"/><circle cx="413.24" cy="197.57" r="0.42"/><circle cx="404.26" cy="212.8" r="0.42"/><circle cx="416.93" cy="201.01" r="0.42"/><circle cx="418.85" cy="204.75" r="0.42"/><circle cx="425.55" cy="216.34" r="0.42"/><circle cx="409.72" cy="223.14" r="0.42"/><circle cx="405.01" cy="208.26" r="0.42"/><circle cx="413.34" cy="196.51" r="0.42"/><circle cx="405.34" cy="218.15" r="0.42"/><circle cx="404.28" cy="209.04" r="0.42"/><circle cx="425.64" cy="192.69" r="0.42"/><circle cx="408.59" cy="211.32" r="0.42"/><circle cx="415.66" cy="212.66" r="0.42"/><circle cx="422.71" cy="193.99" r="0.42"/><circle cx="411.12" cy="199.01" r="0.42"/><circle cx="405.12" cy="222.57" r="0.42"/><circle cx="422.01" cy="215.62" r="0.42"/><circle cx="404.15" cy="220.78" r="0.42"/><circle cx="421.14" cy="205.61" r="0.42"/><circle cx="421.06" cy="205.1" r="0.42"/><circle cx="409.2" cy="191.21" r="0.42"/><circle cx="409.34" cy="188.55" r="0.42"/><circle cx="411.72" cy="216.99" r="0.42"/><circle cx="419.99" cy="220.81" r="0.42"/><circle cx="420.37" cy="197.64" r="0.42"/><circle cx="416.74" cy="204.44" r="0.42"/><circle cx="422.13" cy="207.93" r="0.42"/><circle cx="410.1" cy="212.68" r="0.42"/></g>
<g fill="#5f82c8" fill-opacity="0.38"><circle cx="401.16" cy="194.77" r="0.42"/><circle cx="399.12" cy="190.34" r="0.42"/><circle cx="384.25" cy="195.19" r="0.42"/><circle cx="395.85" cy="210.78" r="0.42"/><circle cx="395.91" cy="197.19" r="0.42"/><circle cx="399.12" cy="197.23" r="0.42"/><circle cx="383.74" cy="209.97" r="0.42"/><circle cx="393.14" cy="205.24" r="0.42"/><circle cx="393.97" cy="211.54" r="0.42"/><circle cx="389.27" cy="208.47" r="0.42"/></g>
<g fill="#6a8fd0" fill-opacity="0.35"><circle cx="383.74" cy="213.12" r="0.4"/><circle cx="381.03" cy="225.76" r="0.4"/><circle cx="384.83" cy="219.87" r="0.4"/><circle cx="395.3" cy="224.62" r="0.4"/><circle cx="406.61" cy="219.41" r="0.4"/><circle cx="392.31" cy="220.05" r="0.4"/><circle cx="406.15" cy="221.44" r="0.4"/><circle cx="389.37" cy="222.3" r="0.4"/><circle cx="393.17" cy="219.14" r="0.4"/><circle cx="385.5" cy="215.11" r="0.4"/><circle cx="384.95" cy="214.26" r="0.4"/><circle cx="400.68" cy="218.99" r="0.4"/><circle cx="384.13" cy="228.44" r="0.4"/><circle cx="394.86" cy="209.32" r="0.4"/><circle cx="405.58" cy="218.7" r="0.4"/><circle cx="404.36" cy="209.43" r="0.4"/><circle cx="395.46" cy="220.15" r="0.4"/><circle cx="392.71" cy="219.85" r="0.4"/><circle cx="396.62" cy="210.7" r="0.4"/><circle cx="379.99" cy="216.58" r="0.4"/><circle cx="386.08" cy="218.33" r="0.4"/><circle cx="394.05" cy="219.87" r="0.4"/><circle cx="390.29" cy="216.63" r="0.4"/><circle cx="389.1" cy="224.73" r="0.4"/><circle cx="396.72" cy="218.22" r="0.4"/><circle cx="390.8" cy="227.01" r="0.4"/><circle cx="387.56" cy="223.79" r="0.4"/><circle cx="399.06" cy="215.73" r="0.4"/><circle cx="395.48" cy="212.87" r="0.4"/><circle cx="398.67" cy="218.05" r="0.4"/><circle cx="380.34" cy="226.23" r="0.4"/><circle cx="386.27" cy="227.2" r="0.4"/><circle cx="385.81" cy="220.51" r="0.4"/><circle cx="392.6" cy="217.51" r="0.4"/><circle cx="392.13" cy="216.62" r="0.4"/><circle cx="395.91" cy="218.03" r="0.4"/><circle cx="388.71" cy="207.32" r="0.4"/><circle cx="399.53" cy="216.98" r="0.4"/><circle cx="378.11" cy="224.24" r="0.4"/><circle cx="395.9" cy="223.07" r="0.4"/><circle cx="385.24" cy="228.79" r="0.4"/><circle cx="393.17" cy="230.23" r="0.4"/><circle cx="390.88" cy="222.86" r="0.4"/><circle cx="386.77" cy="215.69" r="0.4"/><circle cx="400.27" cy="220.88" r="0.4"/><circle cx="403.43" cy="219.62" r="0.4"/><circle cx="384.5" cy="213.85" r="0.4"/><circle cx="385.31" cy="218.26" r="0.4"/><circle cx="385.86" cy="224.03" r="0.4"/><circle cx="393.02" cy="217.67" r="0.4"/><circle cx="392.06" cy="218.57" r="0.4"/><circle cx="393.6" cy="222.31" r="0.4"/><circle cx="397.05" cy="214.39" r="0.4"/><circle cx="381.98" cy="229.28" r="0.4"/><circle cx="393.37" cy="224.06" r="0.4"/><circle cx="378.54" cy="222.09" r="0.4"/><circle cx="389.19" cy="213.37" r="0.4"/><circle cx="388.24" cy="223.92" r="0.4"/><circle cx="401.09" cy="223.86" r="0.4"/><circle cx="382.74" cy="215.65" r="0.4"/><circle cx="396.11" cy="222.39" r="0.4"/><circle cx="390.6" cy="213.57" r="0.4"/><circle cx="397.81" cy="221.14" r="0.4"/><circle cx="394.36" cy="216.2" r="0.4"/><circle cx="394.32" cy="222.26" r="0.4"/><circle cx="384.35" cy="213.04" r="0.4"/><circle cx="394.07" cy="220.88" r="0.4"/><circle cx="392.34" cy="223.37" r="0.4"/><circle cx="386.6" cy="220.64" r="0.4"/><circle cx="389.57" cy="222.77" r="0.4"/><circle cx="402.31" cy="214.74" r="0.4"/><circle cx="408.14" cy="221.27" r="0.4"/><circle cx="397.59" cy="220.24" r="0.4"/><circle cx="403.68" cy="214.62" r="0.4"/><circle cx="388.7" cy="215.32" r="0.4"/><circle cx="396.32" cy="224.23" r="0.4"/><circle cx="395.48" cy="220.15" r="0.4"/><circle cx="389.77" cy="220.8" r="0.4"/><circle cx="382.05" cy="227.47" r="0.4"/><circle cx="386.47" cy="215.85" r="0.4"/><circle cx="384.36" cy="217.85" r="0.4"/><circle cx="398.72" cy="222.1" r="0.4"/><circle cx="382.37" cy="226.79" r="0.4"/><circle cx="396.68" cy="215.01" r="0.4"/><circle cx="379.11" cy="219.94" r="0.4"/><circle cx="386.85" cy="222.57" r="0.4"/><circle cx="385.57" cy="211.77" r="0.4"/><circle cx="390.57" cy="212.48" r="0.4"/><circle cx="395.94" cy="212.29" r="0.4"/><circle cx="384.75" cy="217.59" r="0.4"/><circle cx="388.84" cy="226.44" r="0.4"/><circle cx="398.06" cy="220.15" r="0.4"/><circle cx="391.18" cy="212.22" r="0.4"/><circle cx="386.43" cy="218.47" r="0.4"/><circle cx="384.57" cy="224.1" r="0.4"/><circle cx="384.6" cy="218.32" r="0.4"/><circle cx="380.51" cy="213.27" r="0.4"/><circle cx="397.2" cy="223.88" r="0.4"/><circle cx="390.92" cy="215.01" r="0.4"/><circle cx="371.48" cy="226.76" r="0.4"/><circle cx="400.3" cy="217.99" r="0.4"/><circle cx="399.83" cy="223.73" r="0.4"/><circle cx="398.62" cy="215.04" r="0.4"/><circle cx="399.77" cy="220.42" r="0.4"/><circle cx="379.21" cy="221.51" r="0.4"/><circle cx="380.45" cy="222.51" r="0.4"/><circle cx="393.74" cy="213.66" r="0.4"/><circle cx="377.79" cy="230.04" r="0.4"/><circle cx="395.8" cy="225" r="0.4"/><circle cx="382.81" cy="227.28" r="0.4"/><circle cx="408.94" cy="223.27" r="0.4"/><circle cx="389.84" cy="221.25" r="0.4"/><circle cx="391.26" cy="224.24" r="0.4"/><circle cx="398.7" cy="217.51" r="0.4"/><circle cx="382.1" cy="226" r="0.4"/><circle cx="388.44" cy="223.41" r="0.4"/><circle cx="395.18" cy="225.92" r="0.4"/><circle cx="398.68" cy="214.97" r="0.4"/><circle cx="396" cy="226.32" r="0.4"/><circle cx="387.68" cy="222.73" r="0.4"/><circle cx="401.45" cy="222.15" r="0.4"/><circle cx="392.95" cy="212.72" r="0.4"/><circle cx="382.13" cy="223.65" r="0.4"/><circle cx="397.37" cy="229.58" r="0.4"/><circle cx="386.29" cy="226.51" r="0.4"/><circle cx="394.3" cy="210.62" r="0.4"/><circle cx="385.25" cy="222.25" r="0.4"/><circle cx="387.18" cy="220.11" r="0.4"/><circle cx="393.31" cy="215.02" r="0.4"/><circle cx="393.52" cy="215.77" r="0.4"/></g>
<ellipse cx="391" cy="219.6" rx="11.04" ry="6" fill="url(#halo)" transform="rotate(-18 391 219.6)"/>
<ellipse cx="391" cy="219.6" rx="9.6" ry="5" fill="url(#clg)" transform="rotate(-18 391 219.6)"/>
<g fill="#6a8fd0" fill-opacity="0.35"><circle cx="420.24" cy="217.66" r="0.4"/><circle cx="419.67" cy="217.61" r="0.4"/><circle cx="424.82" cy="204.67" r="0.4"/><circle cx="421.67" cy="215.5" r="0.4"/><circle cx="421.79" cy="217.09" r="0.4"/><circle cx="418.48" cy="222.04" r="0.4"/><circle cx="417.69" cy="216.29" r="0.4"/><circle cx="423.53" cy="202.91" r="0.4"/><circle cx="426.47" cy="204.31" r="0.4"/><circle cx="422.45" cy="204.65" r="0.4"/><circle cx="426.6" cy="208.27" r="0.4"/><circle cx="420.04" cy="214.57" r="0.4"/><circle cx="427.34" cy="199.8" r="0.4"/><circle cx="418.26" cy="215.92" r="0.4"/><circle cx="422.41" cy="211.68" r="0.4"/><circle cx="424.46" cy="214.47" r="0.4"/><circle cx="420.68" cy="216.33" r="0.4"/><circle cx="422.42" cy="204.59" r="0.4"/><circle cx="426.92" cy="209.54" r="0.4"/><circle cx="414.91" cy="220.96" r="0.4"/><circle cx="414.25" cy="218.45" r="0.4"/><circle cx="418.12" cy="209.72" r="0.4"/><circle cx="424.77" cy="212.36" r="0.4"/><circle cx="415.77" cy="223.17" r="0.4"/><circle cx="417.14" cy="225.9" r="0.4"/><circle cx="418.16" cy="218.08" r="0.4"/><circle cx="421.82" cy="214.16" r="0.4"/><circle cx="419.73" cy="216.04" r="0.4"/><circle cx="419.4" cy="217.3" r="0.4"/><circle cx="417.67" cy="220.91" r="0.4"/><circle cx="414.6" cy="224.87" r="0.4"/><circle cx="425.74" cy="202.87" r="0.4"/><circle cx="417.83" cy="221.59" r="0.4"/><circle cx="414.81" cy="218.23" r="0.4"/><circle cx="420.14" cy="218.95" r="0.4"/><circle cx="421.41" cy="211.67" r="0.4"/><circle cx="416.06" cy="218.47" r="0.4"/><circle cx="424.6" cy="206.32" r="0.4"/><circle cx="413.96" cy="217.71" r="0.4"/><circle cx="421.92" cy="224.18" r="0.4"/><circle cx="417.46" cy="220.65" r="0.4"/><circle cx="420.84" cy="212.63" r="0.4"/><circle cx="417.17" cy="214.42" r="0.4"/><circle cx="421.2" cy="221.63" r="0.4"/><circle cx="420.3" cy="219.17" r="0.4"/><circle cx="415.65" cy="223.66" r="0.4"/><circle cx="423.32" cy="213.38" r="0.4"/><circle cx="418.85" cy="221.09" r="0.4"/><circle cx="420.15" cy="211.1" r="0.4"/><circle cx="420.07" cy="210.42" r="0.4"/><circle cx="418.49" cy="218.64" r="0.4"/><circle cx="413.32" cy="229.77" r="0.4"/><circle cx="415.11" cy="218.56" r="0.4"/><circle cx="421" cy="217.16" r="0.4"/><circle cx="422.05" cy="217.48" r="0.4"/><circle cx="414.99" cy="219.63" r="0.4"/><circle cx="425.42" cy="205.28" r="0.4"/><circle cx="421.43" cy="207.75" r="0.4"/><circle cx="423.21" cy="209.53" r="0.4"/><circle cx="422.34" cy="210.23" r="0.4"/><circle cx="422.46" cy="206.38" r="0.4"/><circle cx="415.18" cy="218.34" r="0.4"/><circle cx="422.16" cy="206.57" r="0.4"/><circle cx="416.03" cy="219.27" r="0.4"/><circle cx="416.93" cy="215.49" r="0.4"/><circle cx="418.61" cy="215.15" r="0.4"/><circle cx="417.27" cy="216.38" r="0.4"/><circle cx="419.79" cy="213.38" r="0.4"/><circle cx="421.39" cy="213.55" r="0.4"/><circle cx="417.17" cy="210.09" r="0.4"/><circle cx="417.63" cy="216.43" r="0.4"/><circle cx="419.5" cy="208.09" r="0.4"/><circle cx="418.16" cy="217.92" r="0.4"/><circle cx="421.68" cy="216.84" r="0.4"/><circle cx="421.35" cy="217.44" r="0.4"/><circle cx="413.21" cy="220.98" r="0.4"/><circle cx="424.63" cy="207.25" r="0.4"/><circle cx="422.11" cy="211.26" r="0.4"/><circle cx="419.46" cy="210.1" r="0.4"/><circle cx="422.02" cy="207.99" r="0.4"/><circle cx="423.34" cy="208.31" r="0.4"/><circle cx="412.92" cy="224.41" r="0.4"/><circle cx="423.27" cy="207.29" r="0.4"/><circle cx="420.05" cy="216.53" r="0.4"/><circle cx="418.42" cy="216.01" r="0.4"/><circle cx="421.15" cy="213.53" r="0.4"/><circle cx="424.64" cy="205.17" r="0.4"/><circle cx="429.05" cy="204.59" r="0.4"/><circle cx="427.16" cy="204.9" r="0.4"/><circle cx="421.21" cy="213.36" r="0.4"/><circle cx="418.79" cy="214.19" r="0.4"/><circle cx="419.16" cy="213.83" r="0.4"/><circle cx="425.92" cy="204.88" r="0.4"/><circle cx="415.66" cy="214.93" r="0.4"/><circle cx="419.64" cy="213.95" r="0.4"/><circle cx="415.53" cy="219.35" r="0.4"/><circle cx="415.87" cy="227.66" r="0.4"/><circle cx="425.52" cy="216.65" r="0.4"/><circle cx="420.23" cy="214.05" r="0.4"/><circle cx="424.62" cy="205.67" r="0.4"/><circle cx="420.3" cy="212.7" r="0.4"/><circle cx="421.98" cy="218.86" r="0.4"/><circle cx="426.59" cy="209.66" r="0.4"/><circle cx="419.75" cy="216.07" r="0.4"/><circle cx="420.22" cy="220" r="0.4"/><circle cx="418.09" cy="222.64" r="0.4"/><circle cx="426.24" cy="208.83" r="0.4"/><circle cx="420.3" cy="220.45" r="0.4"/><circle cx="417.25" cy="217.51" r="0.4"/><circle cx="419.44" cy="222.75" r="0.4"/><circle cx="423.72" cy="203.84" r="0.4"/><circle cx="417.95" cy="218.14" r="0.4"/><circle cx="429.11" cy="200.22" r="0.4"/><circle cx="415.65" cy="215.6" r="0.4"/><circle cx="421.19" cy="218.98" r="0.4"/><circle cx="424.94" cy="202.85" r="0.4"/><circle cx="417.79" cy="217.59" r="0.4"/><circle cx="417.48" cy="225.82" r="0.4"/><circle cx="419.87" cy="221.28" r="0.4"/><circle cx="413.65" cy="222.87" r="0.4"/><circle cx="419.84" cy="211.64" r="0.4"/><circle cx="422.65" cy="209.44" r="0.4"/><circle cx="418.77" cy="221.41" r="0.4"/><circle cx="419.02" cy="207.4" r="0.4"/><circle cx="426.33" cy="203.76" r="0.4"/><circle cx="418.91" cy="207.92" r="0.4"/><circle cx="418.04" cy="217.9" r="0.4"/><circle cx="420.52" cy="206.42" r="0.4"/><circle cx="414.29" cy="217.38" r="0.4"/><circle cx="420.66" cy="215.71" r="0.4"/></g>
<ellipse cx="420.6" cy="214" rx="8" ry="2.4" fill="url(#clg2)" transform="rotate(-66 420.6 214)"/>
</g></svg>
<line x1="403.5" y1="185.9" x2="403.5" y2="228.6" stroke="#707070" stroke-width="1.1"/>
<line x1="375.6" y1="213.5" x2="427.5" y2="213.5" stroke="#707070" stroke-width="1.1"/>
<rect x="377.6" y="188.9" width="1.2" height="0.5" fill="#888"/>
<rect x="377.6" y="190.3" width="2.6" height="0.5" fill="#888"/>
<rect x="377.6" y="224.1" width="1.2" height="0.5" fill="#888"/>
<rect x="377.6" y="225.5" width="2.6" height="0.5" fill="#888"/>
<rect x="421.5" y="188.9" width="1.2" height="0.5" fill="#888"/>
<rect x="421.5" y="190.3" width="2.6" height="0.5" fill="#888"/>
<rect x="421.5" y="224.1" width="1.2" height="0.5" fill="#888"/>
<rect x="421.5" y="225.5" width="2.6" height="0.5" fill="#888"/>
<rect x="375.5" y="185.5" width="52" height="43" fill="none" stroke="#111" stroke-width="1.1"/>
<line x1="373.6" y1="228.6" x2="375.6" y2="228.6" stroke="#111" stroke-width="0.6"/>
<text x="364.6" y="230.1" font-size="4" text-anchor="start" fill="#222" stroke="#222" stroke-width="0.13" textLength="3.8" lengthAdjust="spacingAndGlyphs">10</text>
<text x="368.5" y="228.5" font-size="2.8" text-anchor="start" fill="#222" stroke="#222" stroke-width="0.13">0</text>
<line x1="374.6" y1="225.39" x2="375.6" y2="225.39" stroke="#111" stroke-width="0.4"/>
<line x1="374.6" y1="223.51" x2="375.6" y2="223.51" stroke="#111" stroke-width="0.4"/>
<line x1="374.6" y1="222.17" x2="375.6" y2="222.17" stroke="#111" stroke-width="0.4"/>
<line x1="374.6" y1="221.14" x2="375.6" y2="221.14" stroke="#111" stroke-width="0.4"/>
<line x1="374.6" y1="220.29" x2="375.6" y2="220.29" stroke="#111" stroke-width="0.4"/>
<line x1="374.6" y1="219.58" x2="375.6" y2="219.58" stroke="#111" stroke-width="0.4"/>
<line x1="374.6" y1="218.96" x2="375.6" y2="218.96" stroke="#111" stroke-width="0.4"/>
<line x1="374.6" y1="218.41" x2="375.6" y2="218.41" stroke="#111" stroke-width="0.4"/>
<line x1="373.6" y1="217.93" x2="375.6" y2="217.93" stroke="#111" stroke-width="0.6"/>
<text x="364.6" y="219.43" font-size="4" text-anchor="start" fill="#222" stroke="#222" stroke-width="0.13" textLength="3.8" lengthAdjust="spacingAndGlyphs">10</text>
<text x="368.5" y="217.83" font-size="2.8" text-anchor="start" fill="#222" stroke="#222" stroke-width="0.13">1</text>
<line x1="374.6" y1="214.71" x2="375.6" y2="214.71" stroke="#111" stroke-width="0.4"/>
<line x1="374.6" y1="212.83" x2="375.6" y2="212.83" stroke="#111" stroke-width="0.4"/>
<line x1="374.6" y1="211.5" x2="375.6" y2="211.5" stroke="#111" stroke-width="0.4"/>
<line x1="374.6" y1="210.46" x2="375.6" y2="210.46" stroke="#111" stroke-width="0.4"/>
<line x1="374.6" y1="209.62" x2="375.6" y2="209.62" stroke="#111" stroke-width="0.4"/>
<line x1="374.6" y1="208.9" x2="375.6" y2="208.9" stroke="#111" stroke-width="0.4"/>
<line x1="374.6" y1="208.28" x2="375.6" y2="208.28" stroke="#111" stroke-width="0.4"/>
<line x1="374.6" y1="207.74" x2="375.6" y2="207.74" stroke="#111" stroke-width="0.4"/>
<line x1="373.6" y1="207.25" x2="375.6" y2="207.25" stroke="#111" stroke-width="0.6"/>
<text x="364.6" y="208.75" font-size="4" text-anchor="start" fill="#222" stroke="#222" stroke-width="0.13" textLength="3.8" lengthAdjust="spacingAndGlyphs">10</text>
<text x="368.5" y="207.15" font-size="2.8" text-anchor="start" fill="#222" stroke="#222" stroke-width="0.13">2</text>
<line x1="374.6" y1="204.04" x2="375.6" y2="204.04" stroke="#111" stroke-width="0.4"/>
<line x1="374.6" y1="202.16" x2="375.6" y2="202.16" stroke="#111" stroke-width="0.4"/>
<line x1="374.6" y1="200.82" x2="375.6" y2="200.82" stroke="#111" stroke-width="0.4"/>
<line x1="374.6" y1="199.79" x2="375.6" y2="199.79" stroke="#111" stroke-width="0.4"/>
<line x1="374.6" y1="198.94" x2="375.6" y2="198.94" stroke="#111" stroke-width="0.4"/>
<line x1="374.6" y1="198.23" x2="375.6" y2="198.23" stroke="#111" stroke-width="0.4"/>
<line x1="374.6" y1="197.61" x2="375.6" y2="197.61" stroke="#111" stroke-width="0.4"/>
<line x1="374.6" y1="197.06" x2="375.6" y2="197.06" stroke="#111" stroke-width="0.4"/>
<line x1="373.6" y1="196.57" x2="375.6" y2="196.57" stroke="#111" stroke-width="0.6"/>
<text x="364.6" y="198.07" font-size="4" text-anchor="start" fill="#222" stroke="#222" stroke-width="0.13" textLength="3.8" lengthAdjust="spacingAndGlyphs">10</text>
<text x="368.5" y="196.47" font-size="2.8" text-anchor="start" fill="#222" stroke="#222" stroke-width="0.13">3</text>
<line x1="374.6" y1="193.36" x2="375.6" y2="193.36" stroke="#111" stroke-width="0.4"/>
<line x1="374.6" y1="191.48" x2="375.6" y2="191.48" stroke="#111" stroke-width="0.4"/>
<line x1="374.6" y1="190.15" x2="375.6" y2="190.15" stroke="#111" stroke-width="0.4"/>
<line x1="374.6" y1="189.11" x2="375.6" y2="189.11" stroke="#111" stroke-width="0.4"/>
<line x1="374.6" y1="188.27" x2="375.6" y2="188.27" stroke="#111" stroke-width="0.4"/>
<line x1="374.6" y1="187.55" x2="375.6" y2="187.55" stroke="#111" stroke-width="0.4"/>
<line x1="374.6" y1="186.93" x2="375.6" y2="186.93" stroke="#111" stroke-width="0.4"/>
<line x1="374.6" y1="186.39" x2="375.6" y2="186.39" stroke="#111" stroke-width="0.4"/>
<line x1="373.6" y1="185.9" x2="375.6" y2="185.9" stroke="#111" stroke-width="0.6"/>
<text x="364.6" y="187.4" font-size="4" text-anchor="start" fill="#222" stroke="#222" stroke-width="0.13" textLength="3.8" lengthAdjust="spacingAndGlyphs">10</text>
<text x="368.5" y="185.8" font-size="2.8" text-anchor="start" fill="#222" stroke="#222" stroke-width="0.13">4</text>
<line x1="375.6" y1="228.6" x2="375.6" y2="230.6" stroke="#111" stroke-width="0.6"/>
<text x="373" y="237.6" font-size="4" text-anchor="start" fill="#222" stroke="#222" stroke-width="0.13" textLength="3.8" lengthAdjust="spacingAndGlyphs">10</text>
<text x="376.9" y="236.1" font-size="2.8" text-anchor="start" fill="#222" stroke="#222" stroke-width="0.13">0</text>
<line x1="379.51" y1="228.6" x2="379.51" y2="229.6" stroke="#111" stroke-width="0.4"/>
<line x1="381.79" y1="228.6" x2="381.79" y2="229.6" stroke="#111" stroke-width="0.4"/>
<line x1="383.41" y1="228.6" x2="383.41" y2="229.6" stroke="#111" stroke-width="0.4"/>
<line x1="384.67" y1="228.6" x2="384.67" y2="229.6" stroke="#111" stroke-width="0.4"/>
<line x1="385.7" y1="228.6" x2="385.7" y2="229.6" stroke="#111" stroke-width="0.4"/>
<line x1="386.57" y1="228.6" x2="386.57" y2="229.6" stroke="#111" stroke-width="0.4"/>
<line x1="387.32" y1="228.6" x2="387.32" y2="229.6" stroke="#111" stroke-width="0.4"/>
<line x1="387.98" y1="228.6" x2="387.98" y2="229.6" stroke="#111" stroke-width="0.4"/>
<line x1="388.58" y1="228.6" x2="388.58" y2="230.6" stroke="#111" stroke-width="0.6"/>
<text x="385.98" y="237.6" font-size="4" text-anchor="start" fill="#222" stroke="#222" stroke-width="0.13" textLength="3.8" lengthAdjust="spacingAndGlyphs">10</text>
<text x="389.88" y="236.1" font-size="2.8" text-anchor="start" fill="#222" stroke="#222" stroke-width="0.13">1</text>
<line x1="392.48" y1="228.6" x2="392.48" y2="229.6" stroke="#111" stroke-width="0.4"/>
<line x1="394.77" y1="228.6" x2="394.77" y2="229.6" stroke="#111" stroke-width="0.4"/>
<line x1="396.39" y1="228.6" x2="396.39" y2="229.6" stroke="#111" stroke-width="0.4"/>
<line x1="397.64" y1="228.6" x2="397.64" y2="229.6" stroke="#111" stroke-width="0.4"/>
<line x1="398.67" y1="228.6" x2="398.67" y2="229.6" stroke="#111" stroke-width="0.4"/>
<line x1="399.54" y1="228.6" x2="399.54" y2="229.6" stroke="#111" stroke-width="0.4"/>
<line x1="400.29" y1="228.6" x2="400.29" y2="229.6" stroke="#111" stroke-width="0.4"/>
<line x1="400.96" y1="228.6" x2="400.96" y2="229.6" stroke="#111" stroke-width="0.4"/>
<line x1="401.55" y1="228.6" x2="401.55" y2="230.6" stroke="#111" stroke-width="0.6"/>
<text x="398.95" y="237.6" font-size="4" text-anchor="start" fill="#222" stroke="#222" stroke-width="0.13" textLength="3.8" lengthAdjust="spacingAndGlyphs">10</text>
<text x="402.85" y="236.1" font-size="2.8" text-anchor="start" fill="#222" stroke="#222" stroke-width="0.13">2</text>
<line x1="405.46" y1="228.6" x2="405.46" y2="229.6" stroke="#111" stroke-width="0.4"/>
<line x1="407.74" y1="228.6" x2="407.74" y2="229.6" stroke="#111" stroke-width="0.4"/>
<line x1="409.36" y1="228.6" x2="409.36" y2="229.6" stroke="#111" stroke-width="0.4"/>
<line x1="410.62" y1="228.6" x2="410.62" y2="229.6" stroke="#111" stroke-width="0.4"/>
<line x1="411.65" y1="228.6" x2="411.65" y2="229.6" stroke="#111" stroke-width="0.4"/>
<line x1="412.52" y1="228.6" x2="412.52" y2="229.6" stroke="#111" stroke-width="0.4"/>
<line x1="413.27" y1="228.6" x2="413.27" y2="229.6" stroke="#111" stroke-width="0.4"/>
<line x1="413.93" y1="228.6" x2="413.93" y2="229.6" stroke="#111" stroke-width="0.4"/>
<line x1="414.52" y1="228.6" x2="414.52" y2="230.6" stroke="#111" stroke-width="0.6"/>
<text x="411.92" y="237.6" font-size="4" text-anchor="start" fill="#222" stroke="#222" stroke-width="0.13" textLength="3.8" lengthAdjust="spacingAndGlyphs">10</text>
<text x="415.82" y="236.1" font-size="2.8" text-anchor="start" fill="#222" stroke="#222" stroke-width="0.13">3</text>
<line x1="418.43" y1="228.6" x2="418.43" y2="229.6" stroke="#111" stroke-width="0.4"/>
<line x1="420.72" y1="228.6" x2="420.72" y2="229.6" stroke="#111" stroke-width="0.4"/>
<line x1="422.34" y1="228.6" x2="422.34" y2="229.6" stroke="#111" stroke-width="0.4"/>
<line x1="423.59" y1="228.6" x2="423.59" y2="229.6" stroke="#111" stroke-width="0.4"/>
<line x1="424.62" y1="228.6" x2="424.62" y2="229.6" stroke="#111" stroke-width="0.4"/>
<line x1="425.49" y1="228.6" x2="425.49" y2="229.6" stroke="#111" stroke-width="0.4"/>
<line x1="426.24" y1="228.6" x2="426.24" y2="229.6" stroke="#111" stroke-width="0.4"/>
<line x1="426.91" y1="228.6" x2="426.91" y2="229.6" stroke="#111" stroke-width="0.4"/>
<line x1="427.5" y1="228.6" x2="427.5" y2="230.6" stroke="#111" stroke-width="0.6"/>
<text x="424.9" y="237.6" font-size="4" text-anchor="start" fill="#222" stroke="#222" stroke-width="0.13" textLength="3.8" lengthAdjust="spacingAndGlyphs">10</text>
<text x="428.8" y="236.1" font-size="2.8" text-anchor="start" fill="#222" stroke="#222" stroke-width="0.13">4</text>
<text x="407.5" y="193.05" font-size="7.4" text-anchor="start" fill="#1a1a1a" stroke="#1a1a1a" stroke-width="0.05" textLength="12.8" lengthAdjust="spacingAndGlyphs">19.2</text>
<text x="407" y="226.35" font-size="7.4" text-anchor="start" fill="#1a1a1a" stroke="#1a1a1a" stroke-width="0.05" textLength="12.8" lengthAdjust="spacingAndGlyphs">24.8</text>
<svg x="450.8" y="186.4" width="51.5" height="42.3" overflow="hidden"><g transform="translate(-450.8 -186.4)">
<ellipse cx="492" cy="207" rx="25.24" ry="6" fill="url(#hz)" transform="rotate(-56.31 492 207)"/>
<g fill="#5f82c8" fill-opacity="0.38"><circle cx="492.77" cy="203.26" r="0.42"/><circle cx="498.5" cy="197.58" r="0.42"/><circle cx="491.88" cy="200.35" r="0.42"/><circle cx="484.4" cy="221.98" r="0.42"/><circle cx="496.17" cy="197.41" r="0.42"/><circle cx="498.05" cy="194.41" r="0.42"/><circle cx="497.73" cy="200.53" r="0.42"/><circle cx="487.52" cy="206.84" r="0.42"/><circle cx="484.83" cy="219.34" r="0.42"/><circle cx="492.91" cy="203.1" r="0.42"/><circle cx="487.16" cy="210.13" r="0.42"/><circle cx="483.88" cy="222.43" r="0.42"/><circle cx="478.79" cy="216.48" r="0.42"/><circle cx="481.17" cy="217.11" r="0.42"/><circle cx="492.21" cy="206.44" r="0.42"/><circle cx="504.1" cy="187.74" r="0.42"/><circle cx="492.1" cy="209.92" r="0.42"/><circle cx="494.21" cy="207.83" r="0.42"/><circle cx="500.25" cy="195.64" r="0.42"/><circle cx="481.41" cy="224.52" r="0.42"/><circle cx="485.48" cy="222.36" r="0.42"/><circle cx="492.13" cy="196.28" r="0.42"/><circle cx="503.74" cy="194.65" r="0.42"/><circle cx="494.28" cy="215.68" r="0.42"/><circle cx="481.71" cy="213.56" r="0.42"/><circle cx="499.59" cy="188.86" r="0.42"/><circle cx="494.05" cy="215.33" r="0.42"/><circle cx="501.97" cy="191.11" r="0.42"/><circle cx="481.76" cy="220.49" r="0.42"/><circle cx="500.39" cy="192.45" r="0.42"/><circle cx="496.21" cy="193.07" r="0.42"/><circle cx="503.26" cy="191.07" r="0.42"/><circle cx="500.8" cy="196.66" r="0.42"/><circle cx="482.33" cy="211.09" r="0.42"/><circle cx="481.28" cy="222.48" r="0.42"/><circle cx="480.92" cy="219.99" r="0.42"/><circle cx="488.05" cy="219.43" r="0.42"/><circle cx="479.87" cy="221.64" r="0.42"/><circle cx="482.7" cy="221.85" r="0.42"/><circle cx="504.76" cy="187.58" r="0.42"/><circle cx="481.79" cy="219.69" r="0.42"/><circle cx="502.75" cy="188.89" r="0.42"/><circle cx="486.97" cy="213.34" r="0.42"/><circle cx="489.35" cy="206.56" r="0.42"/><circle cx="489.32" cy="218.12" r="0.42"/><circle cx="495.9" cy="209.97" r="0.42"/><circle cx="484.38" cy="215.86" r="0.42"/><circle cx="487.41" cy="212.49" r="0.42"/><circle cx="481.07" cy="218.44" r="0.42"/><circle cx="506.14" cy="198.76" r="0.42"/><circle cx="484.77" cy="219.34" r="0.42"/><circle cx="482.21" cy="217.17" r="0.42"/><circle cx="486.53" cy="217.96" r="0.42"/><circle cx="508.63" cy="190.22" r="0.42"/><circle cx="480.58" cy="226.87" r="0.42"/><circle cx="480.9" cy="219.57" r="0.42"/><circle cx="506.94" cy="191.27" r="0.42"/><circle cx="487.62" cy="212.55" r="0.42"/><circle cx="496.41" cy="195.38" r="0.42"/><circle cx="491.37" cy="208.1" r="0.42"/><circle cx="493.79" cy="206.02" r="0.42"/><circle cx="496.48" cy="195.88" r="0.42"/><circle cx="485.25" cy="223.45" r="0.42"/><circle cx="490.6" cy="209.17" r="0.42"/><circle cx="492.04" cy="197.89" r="0.42"/><circle cx="493.15" cy="205.24" r="0.42"/><circle cx="492.1" cy="201.71" r="0.42"/><circle cx="482.23" cy="219.6" r="0.42"/><circle cx="500.83" cy="192.75" r="0.42"/><circle cx="483.22" cy="221.65" r="0.42"/><circle cx="498.99" cy="196.27" r="0.42"/><circle cx="497.09" cy="197.05" r="0.42"/><circle cx="487.93" cy="211.22" r="0.42"/><circle cx="488.03" cy="207.53" r="0.42"/><circle cx="481.44" cy="214.51" r="0.42"/><circle cx="497" cy="198.84" r="0.42"/><circle cx="488.4" cy="209.97" r="0.42"/><circle cx="502.56" cy="193.33" r="0.42"/><circle cx="487.64" cy="205.84" r="0.42"/><circle cx="482.55" cy="222.86" r="0.42"/><circle cx="485.83" cy="219.17" r="0.42"/><circle cx="499.3" cy="196.47" r="0.42"/><circle cx="495.57" cy="200.77" r="0.42"/><circle cx="489.95" cy="201.93" r="0.42"/><circle cx="500.29" cy="203.76" r="0.42"/><circle cx="497.25" cy="200.05" r="0.42"/><circle cx="488.43" cy="207.21" r="0.42"/><circle cx="481.33" cy="220.76" r="0.42"/><circle cx="494.11" cy="202.58" r="0.42"/><circle cx="492.56" cy="202.73" r="0.42"/><circle cx="500.92" cy="194.78" r="0.42"/><circle cx="491.21" cy="206.61" r="0.42"/><circle cx="493.55" cy="208.67" r="0.42"/><circle cx="487.61" cy="215.19" r="0.42"/><circle cx="494.96" cy="208.55" r="0.42"/><circle cx="502.39" cy="187.63" r="0.42"/><circle cx="473.67" cy="221.36" r="0.42"/><circle cx="500.57" cy="195.37" r="0.42"/><circle cx="491.49" cy="205.27" r="0.42"/><circle cx="478.28" cy="223.1" r="0.42"/><circle cx="485.54" cy="229.39" r="0.42"/><circle cx="501" cy="195.96" r="0.42"/><circle cx="502.46" cy="192.34" r="0.42"/><circle cx="479.27" cy="221" r="0.42"/><circle cx="494.38" cy="204.64" r="0.42"/><circle cx="498.69" cy="191" r="0.42"/><circle cx="484.71" cy="209.29" r="0.42"/><circle cx="484.85" cy="218.3" r="0.42"/><circle cx="476.43" cy="215.72" r="0.42"/><circle cx="490.92" cy="209.87" r="0.42"/><circle cx="492.66" cy="207.09" r="0.42"/><circle cx="482.06" cy="222.48" r="0.42"/><circle cx="486.4" cy="215.48" r="0.42"/><circle cx="494.22" cy="201.95" r="0.42"/><circle cx="491.37" cy="202.98" r="0.42"/><circle cx="491.96" cy="200.77" r="0.42"/><circle cx="490.94" cy="203.67" r="0.42"/><circle cx="485.97" cy="219.3" r="0.42"/><circle cx="488.03" cy="210.73" r="0.42"/><circle cx="489.19" cy="210.32" r="0.42"/></g>
<g fill="#5f82c8" fill-opacity="0.38"><circle cx="492.25" cy="207.16" r="0.42"/><circle cx="486.27" cy="226.51" r="0.42"/><circle cx="486.5" cy="218.11" r="0.42"/><circle cx="483.49" cy="190.61" r="0.42"/><circle cx="499.17" cy="205.16" r="0.42"/><circle cx="481.36" cy="203.13" r="0.42"/><circle cx="489.68" cy="216.68" r="0.42"/><circle cx="482.4" cy="196.78" r="0.42"/><circle cx="501.1" cy="216.81" r="0.42"/><circle cx="483.4" cy="201.14" r="0.42"/><circle cx="487.75" cy="214.34" r="0.42"/><circle cx="493.56" cy="221.15" r="0.42"/><circle cx="498.07" cy="208.19" r="0.42"/><circle cx="496.25" cy="216.99" r="0.42"/><circle cx="496.71" cy="206.53" r="0.42"/><circle cx="497.27" cy="215.63" r="0.42"/><circle cx="500.12" cy="192.96" r="0.42"/><circle cx="499.16" cy="188.17" r="0.42"/><circle cx="496.84" cy="210.85" r="0.42"/><circle cx="490.95" cy="225.55" r="0.42"/><circle cx="492.58" cy="204.3" r="0.42"/><circle cx="497.24" cy="222.04" r="0.42"/><circle cx="493.36" cy="202.8" r="0.42"/><circle cx="489.95" cy="205.86" r="0.42"/><circle cx="495.91" cy="199.42" r="0.42"/><circle cx="488.6" cy="209.66" r="0.42"/><circle cx="488.46" cy="200.56" r="0.42"/><circle cx="497.32" cy="221.13" r="0.42"/><circle cx="490.99" cy="205.32" r="0.42"/><circle cx="484.05" cy="199.86" r="0.42"/></g>
<g fill="#6a8fd0" fill-opacity="0.35"><circle cx="475.01" cy="222.21" r="0.4"/><circle cx="464" cy="220.02" r="0.4"/><circle cx="472.47" cy="215.86" r="0.4"/><circle cx="472.76" cy="209.96" r="0.4"/><circle cx="471.93" cy="217.31" r="0.4"/><circle cx="453.69" cy="229.7" r="0.4"/><circle cx="469.62" cy="219.12" r="0.4"/><circle cx="458.2" cy="220.86" r="0.4"/><circle cx="477.47" cy="212.04" r="0.4"/><circle cx="439.21" cy="225.82" r="0.4"/><circle cx="457.79" cy="222.67" r="0.4"/><circle cx="462.72" cy="216.99" r="0.4"/><circle cx="462.42" cy="226.86" r="0.4"/><circle cx="459.27" cy="232.53" r="0.4"/><circle cx="461.28" cy="216.61" r="0.4"/><circle cx="474.14" cy="220.18" r="0.4"/><circle cx="460.4" cy="226.1" r="0.4"/><circle cx="451.61" cy="220.97" r="0.4"/><circle cx="475.43" cy="215.63" r="0.4"/><circle cx="458.04" cy="225.79" r="0.4"/><circle cx="474.19" cy="217.24" r="0.4"/><circle cx="452.79" cy="223.42" r="0.4"/><circle cx="471.64" cy="222.11" r="0.4"/><circle cx="481" cy="213.62" r="0.4"/><circle cx="463.44" cy="221.08" r="0.4"/><circle cx="474.94" cy="212.39" r="0.4"/><circle cx="472.81" cy="204.17" r="0.4"/><circle cx="472.23" cy="214.7" r="0.4"/><circle cx="471.82" cy="221.65" r="0.4"/><circle cx="457.99" cy="222.82" r="0.4"/><circle cx="469.99" cy="221.81" r="0.4"/><circle cx="458.48" cy="218.13" r="0.4"/><circle cx="456.51" cy="236.44" r="0.4"/><circle cx="465.37" cy="219.46" r="0.4"/><circle cx="457.23" cy="228.16" r="0.4"/><circle cx="465.4" cy="227.71" r="0.4"/><circle cx="473.77" cy="217.61" r="0.4"/><circle cx="470.99" cy="212.98" r="0.4"/><circle cx="463.78" cy="218.28" r="0.4"/><circle cx="457.49" cy="223.52" r="0.4"/><circle cx="468.39" cy="226.62" r="0.4"/><circle cx="440.42" cy="226.3" r="0.4"/><circle cx="459.41" cy="220.42" r="0.4"/><circle cx="471.08" cy="220.5" r="0.4"/><circle cx="466.66" cy="217.74" r="0.4"/><circle cx="471.57" cy="220.1" r="0.4"/><circle cx="452.65" cy="223.89" r="0.4"/><circle cx="454.77" cy="218.54" r="0.4"/><circle cx="468.42" cy="219.76" r="0.4"/><circle cx="466.67" cy="215.73" r="0.4"/><circle cx="464.2" cy="216.45" r="0.4"/><circle cx="471.23" cy="221.86" r="0.4"/><circle cx="482.69" cy="220.57" r="0.4"/><circle cx="460.29" cy="220.13" r="0.4"/><circle cx="460.49" cy="223.86" r="0.4"/><circle cx="483.52" cy="217.49" r="0.4"/><circle cx="448.32" cy="220.51" r="0.4"/><circle cx="458.11" cy="225.77" r="0.4"/><circle cx="467.69" cy="221.22" r="0.4"/><circle cx="479.54" cy="211.29" r="0.4"/><circle cx="463.85" cy="230.91" r="0.4"/><circle cx="468.58" cy="215.52" r="0.4"/><circle cx="449.2" cy="218.86" r="0.4"/><circle cx="448.57" cy="227.02" r="0.4"/><circle cx="469.13" cy="224.14" r="0.4"/><circle cx="465.02" cy="217.24" r="0.4"/><circle cx="464.56" cy="230.33" r="0.4"/><circle cx="453.94" cy="225.59" r="0.4"/><circle cx="468.38" cy="222.54" r="0.4"/><circle cx="464.9" cy="223.22" r="0.4"/><circle cx="473.22" cy="216.98" r="0.4"/><circle cx="463.39" cy="220.36" r="0.4"/><circle cx="459.47" cy="221.68" r="0.4"/><circle cx="465.22" cy="221.67" r="0.4"/><circle cx="479.54" cy="221.92" r="0.4"/><circle cx="464.75" cy="223.79" r="0.4"/><circle cx="470.68" cy="222.43" r="0.4"/><circle cx="467.79" cy="221.01" r="0.4"/><circle cx="462.35" cy="217.76" r="0.4"/><circle cx="475.97" cy="223.18" r="0.4"/><circle cx="472.98" cy="219.97" r="0.4"/><circle cx="468.52" cy="217.18" r="0.4"/><circle cx="454.59" cy="227.79" r="0.4"/><circle cx="467.84" cy="216.91" r="0.4"/><circle cx="461.85" cy="228.21" r="0.4"/><circle cx="456.19" cy="232.68" r="0.4"/><circle cx="475.9" cy="228.54" r="0.4"/><circle cx="461.66" cy="221.81" r="0.4"/><circle cx="463.56" cy="222" r="0.4"/><circle cx="464.39" cy="217.19" r="0.4"/><circle cx="474.19" cy="213.45" r="0.4"/><circle cx="464.19" cy="223.76" r="0.4"/><circle cx="462.38" cy="219.49" r="0.4"/><circle cx="469.34" cy="217.29" r="0.4"/><circle cx="457.48" cy="222.93" r="0.4"/><circle cx="468.24" cy="228.01" r="0.4"/><circle cx="460.34" cy="227.22" r="0.4"/><circle cx="460.6" cy="220.53" r="0.4"/><circle cx="465.13" cy="222" r="0.4"/><circle cx="476.62" cy="225.19" r="0.4"/><circle cx="464.45" cy="227.53" r="0.4"/><circle cx="476.13" cy="220.7" r="0.4"/><circle cx="462.82" cy="225.98" r="0.4"/><circle cx="466.94" cy="221.75" r="0.4"/><circle cx="466.2" cy="223.57" r="0.4"/><circle cx="477.56" cy="221.76" r="0.4"/><circle cx="467.22" cy="224.85" r="0.4"/><circle cx="476.84" cy="211.73" r="0.4"/><circle cx="476.35" cy="209.92" r="0.4"/><circle cx="472.31" cy="221" r="0.4"/><circle cx="479.02" cy="216.99" r="0.4"/><circle cx="462.24" cy="217.74" r="0.4"/><circle cx="458.83" cy="226.76" r="0.4"/><circle cx="464.23" cy="217.41" r="0.4"/><circle cx="470.05" cy="215.05" r="0.4"/><circle cx="463.12" cy="219.1" r="0.4"/><circle cx="482.23" cy="221.72" r="0.4"/><circle cx="463.47" cy="213.43" r="0.4"/><circle cx="469.44" cy="219.44" r="0.4"/><circle cx="470.78" cy="221.41" r="0.4"/><circle cx="466.22" cy="224.86" r="0.4"/><circle cx="473.95" cy="218.49" r="0.4"/><circle cx="463.32" cy="218.92" r="0.4"/><circle cx="470.75" cy="213.13" r="0.4"/><circle cx="464.78" cy="217.05" r="0.4"/><circle cx="457.48" cy="226.44" r="0.4"/><circle cx="467.06" cy="220.13" r="0.4"/><circle cx="471.51" cy="210.89" r="0.4"/><circle cx="467.15" cy="221.36" r="0.4"/><circle cx="471.85" cy="212.81" r="0.4"/></g>
<ellipse cx="467.2" cy="219.9" rx="11.73" ry="6.24" fill="url(#halo)" transform="rotate(-20 467.2 219.9)"/>
<ellipse cx="467.2" cy="219.9" rx="10.2" ry="5.2" fill="url(#clg)" transform="rotate(-20 467.2 219.9)"/>
</g></svg>
<line x1="479.5" y1="186.4" x2="479.5" y2="228.7" stroke="#707070" stroke-width="1.1"/>
<line x1="450.8" y1="213.5" x2="502.3" y2="213.5" stroke="#707070" stroke-width="1.1"/>
<rect x="452.8" y="189.4" width="1.2" height="0.5" fill="#888"/>
<rect x="452.8" y="190.8" width="2.6" height="0.5" fill="#888"/>
<rect x="452.8" y="224.2" width="1.2" height="0.5" fill="#888"/>
<rect x="452.8" y="225.6" width="2.6" height="0.5" fill="#888"/>
<rect x="496.3" y="189.4" width="1.2" height="0.5" fill="#888"/>
<rect x="496.3" y="190.8" width="2.6" height="0.5" fill="#888"/>
<rect x="496.3" y="224.2" width="1.2" height="0.5" fill="#888"/>
<rect x="496.3" y="225.6" width="2.6" height="0.5" fill="#888"/>
<rect x="450.5" y="186.5" width="52" height="42" fill="none" stroke="#111" stroke-width="1.1"/>
<line x1="448.8" y1="228.7" x2="450.8" y2="228.7" stroke="#111" stroke-width="0.6"/>
<text x="439.8" y="230.2" font-size="4" text-anchor="start" fill="#222" stroke="#222" stroke-width="0.13" textLength="3.8" lengthAdjust="spacingAndGlyphs">10</text>
<text x="443.7" y="228.6" font-size="2.8" text-anchor="start" fill="#222" stroke="#222" stroke-width="0.13">0</text>
<line x1="449.8" y1="225.52" x2="450.8" y2="225.52" stroke="#111" stroke-width="0.4"/>
<line x1="449.8" y1="223.65" x2="450.8" y2="223.65" stroke="#111" stroke-width="0.4"/>
<line x1="449.8" y1="222.33" x2="450.8" y2="222.33" stroke="#111" stroke-width="0.4"/>
<line x1="449.8" y1="221.31" x2="450.8" y2="221.31" stroke="#111" stroke-width="0.4"/>
<line x1="449.8" y1="220.47" x2="450.8" y2="220.47" stroke="#111" stroke-width="0.4"/>
<line x1="449.8" y1="219.76" x2="450.8" y2="219.76" stroke="#111" stroke-width="0.4"/>
<line x1="449.8" y1="219.15" x2="450.8" y2="219.15" stroke="#111" stroke-width="0.4"/>
<line x1="449.8" y1="218.61" x2="450.8" y2="218.61" stroke="#111" stroke-width="0.4"/>
<line x1="448.8" y1="218.12" x2="450.8" y2="218.12" stroke="#111" stroke-width="0.6"/>
<text x="439.8" y="219.62" font-size="4" text-anchor="start" fill="#222" stroke="#222" stroke-width="0.13" textLength="3.8" lengthAdjust="spacingAndGlyphs">10</text>
<text x="443.7" y="218.03" font-size="2.8" text-anchor="start" fill="#222" stroke="#222" stroke-width="0.13">1</text>
<line x1="449.8" y1="214.94" x2="450.8" y2="214.94" stroke="#111" stroke-width="0.4"/>
<line x1="449.8" y1="213.08" x2="450.8" y2="213.08" stroke="#111" stroke-width="0.4"/>
<line x1="449.8" y1="211.76" x2="450.8" y2="211.76" stroke="#111" stroke-width="0.4"/>
<line x1="449.8" y1="210.73" x2="450.8" y2="210.73" stroke="#111" stroke-width="0.4"/>
<line x1="449.8" y1="209.9" x2="450.8" y2="209.9" stroke="#111" stroke-width="0.4"/>
<line x1="449.8" y1="209.19" x2="450.8" y2="209.19" stroke="#111" stroke-width="0.4"/>
<line x1="449.8" y1="208.57" x2="450.8" y2="208.57" stroke="#111" stroke-width="0.4"/>
<line x1="449.8" y1="208.03" x2="450.8" y2="208.03" stroke="#111" stroke-width="0.4"/>
<line x1="448.8" y1="207.55" x2="450.8" y2="207.55" stroke="#111" stroke-width="0.6"/>
<text x="439.8" y="209.05" font-size="4" text-anchor="start" fill="#222" stroke="#222" stroke-width="0.13" textLength="3.8" lengthAdjust="spacingAndGlyphs">10</text>
<text x="443.7" y="207.45" font-size="2.8" text-anchor="start" fill="#222" stroke="#222" stroke-width="0.13">2</text>
<line x1="449.8" y1="204.37" x2="450.8" y2="204.37" stroke="#111" stroke-width="0.4"/>
<line x1="449.8" y1="202.5" x2="450.8" y2="202.5" stroke="#111" stroke-width="0.4"/>
<line x1="449.8" y1="201.18" x2="450.8" y2="201.18" stroke="#111" stroke-width="0.4"/>
<line x1="449.8" y1="200.16" x2="450.8" y2="200.16" stroke="#111" stroke-width="0.4"/>
<line x1="449.8" y1="199.32" x2="450.8" y2="199.32" stroke="#111" stroke-width="0.4"/>
<line x1="449.8" y1="198.61" x2="450.8" y2="198.61" stroke="#111" stroke-width="0.4"/>
<line x1="449.8" y1="198" x2="450.8" y2="198" stroke="#111" stroke-width="0.4"/>
<line x1="449.8" y1="197.46" x2="450.8" y2="197.46" stroke="#111" stroke-width="0.4"/>
<line x1="448.8" y1="196.97" x2="450.8" y2="196.97" stroke="#111" stroke-width="0.6"/>
<text x="439.8" y="198.47" font-size="4" text-anchor="start" fill="#222" stroke="#222" stroke-width="0.13" textLength="3.8" lengthAdjust="spacingAndGlyphs">10</text>
<text x="443.7" y="196.88" font-size="2.8" text-anchor="start" fill="#222" stroke="#222" stroke-width="0.13">3</text>
<line x1="449.8" y1="193.79" x2="450.8" y2="193.79" stroke="#111" stroke-width="0.4"/>
<line x1="449.8" y1="191.93" x2="450.8" y2="191.93" stroke="#111" stroke-width="0.4"/>
<line x1="449.8" y1="190.61" x2="450.8" y2="190.61" stroke="#111" stroke-width="0.4"/>
<line x1="449.8" y1="189.58" x2="450.8" y2="189.58" stroke="#111" stroke-width="0.4"/>
<line x1="449.8" y1="188.75" x2="450.8" y2="188.75" stroke="#111" stroke-width="0.4"/>
<line x1="449.8" y1="188.04" x2="450.8" y2="188.04" stroke="#111" stroke-width="0.4"/>
<line x1="449.8" y1="187.42" x2="450.8" y2="187.42" stroke="#111" stroke-width="0.4"/>
<line x1="449.8" y1="186.88" x2="450.8" y2="186.88" stroke="#111" stroke-width="0.4"/>
<line x1="448.8" y1="186.4" x2="450.8" y2="186.4" stroke="#111" stroke-width="0.6"/>
<text x="439.8" y="187.9" font-size="4" text-anchor="start" fill="#222" stroke="#222" stroke-width="0.13" textLength="3.8" lengthAdjust="spacingAndGlyphs">10</text>
<text x="443.7" y="186.3" font-size="2.8" text-anchor="start" fill="#222" stroke="#222" stroke-width="0.13">4</text>
<line x1="450.8" y1="228.7" x2="450.8" y2="230.7" stroke="#111" stroke-width="0.6"/>
<text x="448.2" y="237.7" font-size="4" text-anchor="start" fill="#222" stroke="#222" stroke-width="0.13" textLength="3.8" lengthAdjust="spacingAndGlyphs">10</text>
<text x="452.1" y="236.2" font-size="2.8" text-anchor="start" fill="#222" stroke="#222" stroke-width="0.13">0</text>
<line x1="454.68" y1="228.7" x2="454.68" y2="229.7" stroke="#111" stroke-width="0.4"/>
<line x1="456.94" y1="228.7" x2="456.94" y2="229.7" stroke="#111" stroke-width="0.4"/>
<line x1="458.55" y1="228.7" x2="458.55" y2="229.7" stroke="#111" stroke-width="0.4"/>
<line x1="459.8" y1="228.7" x2="459.8" y2="229.7" stroke="#111" stroke-width="0.4"/>
<line x1="460.82" y1="228.7" x2="460.82" y2="229.7" stroke="#111" stroke-width="0.4"/>
<line x1="461.68" y1="228.7" x2="461.68" y2="229.7" stroke="#111" stroke-width="0.4"/>
<line x1="462.43" y1="228.7" x2="462.43" y2="229.7" stroke="#111" stroke-width="0.4"/>
<line x1="463.09" y1="228.7" x2="463.09" y2="229.7" stroke="#111" stroke-width="0.4"/>
<line x1="463.68" y1="228.7" x2="463.68" y2="230.7" stroke="#111" stroke-width="0.6"/>
<text x="461.07" y="237.7" font-size="4" text-anchor="start" fill="#222" stroke="#222" stroke-width="0.13" textLength="3.8" lengthAdjust="spacingAndGlyphs">10</text>
<text x="464.98" y="236.2" font-size="2.8" text-anchor="start" fill="#222" stroke="#222" stroke-width="0.13">1</text>
<line x1="467.55" y1="228.7" x2="467.55" y2="229.7" stroke="#111" stroke-width="0.4"/>
<line x1="469.82" y1="228.7" x2="469.82" y2="229.7" stroke="#111" stroke-width="0.4"/>
<line x1="471.43" y1="228.7" x2="471.43" y2="229.7" stroke="#111" stroke-width="0.4"/>
<line x1="472.67" y1="228.7" x2="472.67" y2="229.7" stroke="#111" stroke-width="0.4"/>
<line x1="473.69" y1="228.7" x2="473.69" y2="229.7" stroke="#111" stroke-width="0.4"/>
<line x1="474.56" y1="228.7" x2="474.56" y2="229.7" stroke="#111" stroke-width="0.4"/>
<line x1="475.3" y1="228.7" x2="475.3" y2="229.7" stroke="#111" stroke-width="0.4"/>
<line x1="475.96" y1="228.7" x2="475.96" y2="229.7" stroke="#111" stroke-width="0.4"/>
<line x1="476.55" y1="228.7" x2="476.55" y2="230.7" stroke="#111" stroke-width="0.6"/>
<text x="473.95" y="237.7" font-size="4" text-anchor="start" fill="#222" stroke="#222" stroke-width="0.13" textLength="3.8" lengthAdjust="spacingAndGlyphs">10</text>
<text x="477.85" y="236.2" font-size="2.8" text-anchor="start" fill="#222" stroke="#222" stroke-width="0.13">2</text>
<line x1="480.43" y1="228.7" x2="480.43" y2="229.7" stroke="#111" stroke-width="0.4"/>
<line x1="482.69" y1="228.7" x2="482.69" y2="229.7" stroke="#111" stroke-width="0.4"/>
<line x1="484.3" y1="228.7" x2="484.3" y2="229.7" stroke="#111" stroke-width="0.4"/>
<line x1="485.55" y1="228.7" x2="485.55" y2="229.7" stroke="#111" stroke-width="0.4"/>
<line x1="486.57" y1="228.7" x2="486.57" y2="229.7" stroke="#111" stroke-width="0.4"/>
<line x1="487.43" y1="228.7" x2="487.43" y2="229.7" stroke="#111" stroke-width="0.4"/>
<line x1="488.18" y1="228.7" x2="488.18" y2="229.7" stroke="#111" stroke-width="0.4"/>
<line x1="488.84" y1="228.7" x2="488.84" y2="229.7" stroke="#111" stroke-width="0.4"/>
<line x1="489.43" y1="228.7" x2="489.43" y2="230.7" stroke="#111" stroke-width="0.6"/>
<text x="486.82" y="237.7" font-size="4" text-anchor="start" fill="#222" stroke="#222" stroke-width="0.13" textLength="3.8" lengthAdjust="spacingAndGlyphs">10</text>
<text x="490.73" y="236.2" font-size="2.8" text-anchor="start" fill="#222" stroke="#222" stroke-width="0.13">3</text>
<line x1="493.3" y1="228.7" x2="493.3" y2="229.7" stroke="#111" stroke-width="0.4"/>
<line x1="495.57" y1="228.7" x2="495.57" y2="229.7" stroke="#111" stroke-width="0.4"/>
<line x1="497.18" y1="228.7" x2="497.18" y2="229.7" stroke="#111" stroke-width="0.4"/>
<line x1="498.42" y1="228.7" x2="498.42" y2="229.7" stroke="#111" stroke-width="0.4"/>
<line x1="499.44" y1="228.7" x2="499.44" y2="229.7" stroke="#111" stroke-width="0.4"/>
<line x1="500.31" y1="228.7" x2="500.31" y2="229.7" stroke="#111" stroke-width="0.4"/>
<line x1="501.05" y1="228.7" x2="501.05" y2="229.7" stroke="#111" stroke-width="0.4"/>
<line x1="501.71" y1="228.7" x2="501.71" y2="229.7" stroke="#111" stroke-width="0.4"/>
<line x1="502.3" y1="228.7" x2="502.3" y2="230.7" stroke="#111" stroke-width="0.6"/>
<text x="499.7" y="237.7" font-size="4" text-anchor="start" fill="#222" stroke="#222" stroke-width="0.13" textLength="3.8" lengthAdjust="spacingAndGlyphs">10</text>
<text x="503.6" y="236.2" font-size="2.8" text-anchor="start" fill="#222" stroke="#222" stroke-width="0.13">4</text>
<text x="484.5" y="193.05" font-size="7.4" text-anchor="start" fill="#1a1a1a" stroke="#1a1a1a" stroke-width="0.05" textLength="12.8" lengthAdjust="spacingAndGlyphs">10.8</text>
<text x="483.7" y="224.95" font-size="7.4" text-anchor="start" fill="#1a1a1a" stroke="#1a1a1a" stroke-width="0.05" textLength="12.8" lengthAdjust="spacingAndGlyphs">6.45</text>
<svg x="299.2" y="252.6" width="53.1" height="43" overflow="hidden"><g transform="translate(-299.2 -252.6)">
<ellipse cx="336" cy="272" rx="25.46" ry="9" fill="url(#hz)" transform="rotate(-45 336 272)"/>
<g fill="#5f82c8" fill-opacity="0.38"><circle cx="319.58" cy="286.52" r="0.42"/><circle cx="345.41" cy="272" r="0.42"/><circle cx="347" cy="268.03" r="0.42"/><circle cx="330.49" cy="267.84" r="0.42"/><circle cx="334.76" cy="283.05" r="0.42"/><circle cx="336.84" cy="271.65" r="0.42"/><circle cx="344.21" cy="260.64" r="0.42"/><circle cx="338.03" cy="275.29" r="0.42"/><circle cx="323.01" cy="273.36" r="0.42"/><circle cx="322.17" cy="281.29" r="0.42"/><circle cx="341.5" cy="263.55" r="0.42"/><circle cx="340.8" cy="269.67" r="0.42"/><circle cx="335.41" cy="272.1" r="0.42"/><circle cx="327.28" cy="277.32" r="0.42"/><circle cx="331.83" cy="281.81" r="0.42"/><circle cx="339.67" cy="270.05" r="0.42"/><circle cx="326.11" cy="274.58" r="0.42"/><circle cx="326.84" cy="283.68" r="0.42"/><circle cx="319.38" cy="280.7" r="0.42"/><circle cx="337.96" cy="261.25" r="0.42"/><circle cx="320.84" cy="276.82" r="0.42"/><circle cx="333.48" cy="265.96" r="0.42"/><circle cx="320.78" cy="286.28" r="0.42"/><circle cx="327.47" cy="281.36" r="0.42"/><circle cx="323.07" cy="276.53" r="0.42"/><circle cx="319.69" cy="286.65" r="0.42"/><circle cx="330.34" cy="277.11" r="0.42"/><circle cx="324.67" cy="285.38" r="0.42"/><circle cx="318.51" cy="273.23" r="0.42"/><circle cx="339.45" cy="273" r="0.42"/><circle cx="333.65" cy="278.26" r="0.42"/><circle cx="323.05" cy="283.12" r="0.42"/><circle cx="343.16" cy="266.24" r="0.42"/><circle cx="326.1" cy="281.04" r="0.42"/><circle cx="320" cy="278.04" r="0.42"/><circle cx="329.61" cy="282.69" r="0.42"/><circle cx="347.13" cy="261.29" r="0.42"/><circle cx="346.14" cy="258.55" r="0.42"/><circle cx="331.29" cy="283.36" r="0.42"/><circle cx="324.99" cy="280.57" r="0.42"/><circle cx="331.19" cy="273.21" r="0.42"/><circle cx="314.44" cy="282.66" r="0.42"/><circle cx="341.96" cy="255.12" r="0.42"/><circle cx="343.77" cy="259.7" r="0.42"/><circle cx="321.5" cy="286.36" r="0.42"/><circle cx="319.7" cy="281.65" r="0.42"/><circle cx="333.8" cy="273.28" r="0.42"/><circle cx="316.98" cy="285.8" r="0.42"/><circle cx="348.42" cy="265.89" r="0.42"/><circle cx="346.29" cy="258.16" r="0.42"/><circle cx="324.66" cy="274.19" r="0.42"/><circle cx="329.32" cy="277.67" r="0.42"/><circle cx="343.1" cy="260.04" r="0.42"/><circle cx="322.1" cy="285.34" r="0.42"/><circle cx="334.58" cy="272.27" r="0.42"/><circle cx="318.84" cy="287.4" r="0.42"/><circle cx="355.47" cy="254.67" r="0.42"/><circle cx="354.31" cy="257.46" r="0.42"/><circle cx="349.26" cy="265.39" r="0.42"/><circle cx="336.05" cy="273.67" r="0.42"/><circle cx="343.04" cy="259.98" r="0.42"/><circle cx="323.2" cy="284.2" r="0.42"/><circle cx="321.04" cy="290.53" r="0.42"/><circle cx="337.12" cy="276.32" r="0.42"/><circle cx="326.46" cy="273.67" r="0.42"/><circle cx="331.45" cy="269.65" r="0.42"/><circle cx="325.03" cy="290.04" r="0.42"/><circle cx="341.3" cy="275.56" r="0.42"/><circle cx="329.98" cy="281.53" r="0.42"/><circle cx="321.23" cy="279.28" r="0.42"/><circle cx="323.58" cy="278.84" r="0.42"/><circle cx="333.1" cy="270.81" r="0.42"/><circle cx="334.72" cy="276.4" r="0.42"/><circle cx="339.91" cy="259.94" r="0.42"/><circle cx="350.95" cy="272.47" r="0.42"/><circle cx="346.82" cy="270.08" r="0.42"/><circle cx="335.12" cy="283.51" r="0.42"/><circle cx="336.34" cy="268.2" r="0.42"/><circle cx="345.45" cy="265.26" r="0.42"/><circle cx="335" cy="276.06" r="0.42"/><circle cx="322.98" cy="285.7" r="0.42"/><circle cx="335.68" cy="270.66" r="0.42"/><circle cx="338.07" cy="258.31" r="0.42"/><circle cx="348.96" cy="267.09" r="0.42"/><circle cx="329.42" cy="270.72" r="0.42"/><circle cx="347.05" cy="265.44" r="0.42"/><circle cx="347.35" cy="263.41" r="0.42"/><circle cx="318.01" cy="283.73" r="0.42"/><circle cx="336.17" cy="268.87" r="0.42"/><circle cx="346.29" cy="257.49" r="0.42"/><circle cx="317.33" cy="282.97" r="0.42"/><circle cx="337.2" cy="270.23" r="0.42"/><circle cx="322.3" cy="280.6" r="0.42"/><circle cx="334.29" cy="276.09" r="0.42"/><circle cx="334.97" cy="281.44" r="0.42"/><circle cx="332.67" cy="264.51" r="0.42"/><circle cx="351.83" cy="259.74" r="0.42"/><circle cx="315.11" cy="281.69" r="0.42"/><circle cx="345.97" cy="264.12" r="0.42"/><circle cx="342.56" cy="259.66" r="0.42"/><circle cx="337.22" cy="278.83" r="0.42"/><circle cx="334.23" cy="271.25" r="0.42"/><circle cx="319.16" cy="286.21" r="0.42"/><circle cx="345.65" cy="260.36" r="0.42"/><circle cx="320.69" cy="284.52" r="0.42"/><circle cx="333.76" cy="272.14" r="0.42"/><circle cx="315.18" cy="284.2" r="0.42"/><circle cx="307.88" cy="288.24" r="0.42"/><circle cx="322.9" cy="289.22" r="0.42"/><circle cx="326.07" cy="282.79" r="0.42"/><circle cx="322.16" cy="276.71" r="0.42"/><circle cx="349.62" cy="259.16" r="0.42"/><circle cx="336.95" cy="262.66" r="0.42"/><circle cx="339.16" cy="260.32" r="0.42"/><circle cx="328.28" cy="282.47" r="0.42"/><circle cx="351.26" cy="259.4" r="0.42"/><circle cx="328.25" cy="271.28" r="0.42"/><circle cx="331.95" cy="269.1" r="0.42"/><circle cx="334.51" cy="271.33" r="0.42"/><circle cx="323.75" cy="286.73" r="0.42"/></g>
<g fill="#5f82c8" fill-opacity="0.38"><circle cx="338.04" cy="268.69" r="0.42"/><circle cx="332.09" cy="263.39" r="0.42"/><circle cx="334.73" cy="259.42" r="0.42"/><circle cx="326.18" cy="288.84" r="0.42"/><circle cx="337.33" cy="271.82" r="0.42"/><circle cx="340.22" cy="266.1" r="0.42"/><circle cx="330.22" cy="256.65" r="0.42"/><circle cx="333.54" cy="266.34" r="0.42"/><circle cx="344.17" cy="276.05" r="0.42"/><circle cx="349.44" cy="267.62" r="0.42"/><circle cx="349.03" cy="277.33" r="0.42"/><circle cx="328" cy="261.15" r="0.42"/><circle cx="340.51" cy="293.5" r="0.42"/><circle cx="334.92" cy="284.98" r="0.42"/><circle cx="336.71" cy="288.73" r="0.42"/><circle cx="327.69" cy="273.38" r="0.42"/><circle cx="348.48" cy="265.03" r="0.42"/><circle cx="332.44" cy="254.92" r="0.42"/><circle cx="330.11" cy="264.72" r="0.42"/><circle cx="343.61" cy="262.73" r="0.42"/><circle cx="335.99" cy="262.01" r="0.42"/><circle cx="341.07" cy="288.56" r="0.42"/><circle cx="342.2" cy="261.87" r="0.42"/><circle cx="344.35" cy="292.53" r="0.42"/><circle cx="341.03" cy="257.17" r="0.42"/></g>
<g fill="#6a8fd0" fill-opacity="0.35"><circle cx="312.72" cy="276.5" r="0.4"/><circle cx="308.96" cy="290.95" r="0.4"/><circle cx="316.05" cy="292.22" r="0.4"/><circle cx="316.37" cy="280.13" r="0.4"/><circle cx="314.51" cy="284.62" r="0.4"/><circle cx="307.12" cy="297.28" r="0.4"/><circle cx="304.3" cy="285.56" r="0.4"/><circle cx="305.93" cy="284.98" r="0.4"/><circle cx="318.47" cy="286.99" r="0.4"/><circle cx="321.43" cy="286.08" r="0.4"/><circle cx="307.66" cy="294.49" r="0.4"/><circle cx="304.78" cy="287.48" r="0.4"/><circle cx="309.23" cy="288.53" r="0.4"/><circle cx="318.17" cy="281.83" r="0.4"/><circle cx="312.95" cy="286.82" r="0.4"/><circle cx="299.24" cy="286.11" r="0.4"/><circle cx="309.47" cy="290.4" r="0.4"/><circle cx="313.59" cy="289.3" r="0.4"/><circle cx="309.99" cy="285.65" r="0.4"/><circle cx="311.83" cy="282.02" r="0.4"/><circle cx="299.91" cy="289.94" r="0.4"/><circle cx="298.96" cy="289.31" r="0.4"/><circle cx="303.93" cy="287.29" r="0.4"/><circle cx="308.69" cy="284.24" r="0.4"/><circle cx="304.33" cy="280.95" r="0.4"/><circle cx="309.96" cy="283.35" r="0.4"/><circle cx="308.52" cy="273.45" r="0.4"/><circle cx="304.89" cy="291.21" r="0.4"/><circle cx="291.74" cy="292.76" r="0.4"/><circle cx="311.28" cy="288.13" r="0.4"/><circle cx="299.73" cy="293.01" r="0.4"/><circle cx="309.83" cy="282.9" r="0.4"/><circle cx="315.82" cy="285.66" r="0.4"/><circle cx="309.76" cy="285.72" r="0.4"/><circle cx="314.62" cy="286.89" r="0.4"/><circle cx="319.59" cy="286.98" r="0.4"/><circle cx="305.45" cy="288.51" r="0.4"/><circle cx="316.57" cy="283.7" r="0.4"/><circle cx="314.13" cy="289.34" r="0.4"/><circle cx="305.05" cy="277.35" r="0.4"/><circle cx="311.75" cy="288.56" r="0.4"/><circle cx="310.09" cy="283.93" r="0.4"/><circle cx="319.13" cy="284" r="0.4"/><circle cx="304.54" cy="286.18" r="0.4"/><circle cx="311.17" cy="281.76" r="0.4"/><circle cx="306.43" cy="300.09" r="0.4"/><circle cx="321.93" cy="289.36" r="0.4"/><circle cx="321.55" cy="287.04" r="0.4"/><circle cx="299.97" cy="298.12" r="0.4"/><circle cx="320.44" cy="286.88" r="0.4"/><circle cx="298.03" cy="299.08" r="0.4"/><circle cx="319.68" cy="281.88" r="0.4"/><circle cx="312.69" cy="291.24" r="0.4"/><circle cx="311.67" cy="293.35" r="0.4"/><circle cx="312.2" cy="290.96" r="0.4"/><circle cx="308.48" cy="280.64" r="0.4"/><circle cx="308.48" cy="305.64" r="0.4"/><circle cx="314.74" cy="293.37" r="0.4"/><circle cx="321.82" cy="292.97" r="0.4"/><circle cx="313.49" cy="283.57" r="0.4"/><circle cx="307.22" cy="278.72" r="0.4"/><circle cx="310.57" cy="292.72" r="0.4"/><circle cx="294.66" cy="294.69" r="0.4"/><circle cx="318.83" cy="291.99" r="0.4"/><circle cx="302.38" cy="287.31" r="0.4"/><circle cx="294.68" cy="288.13" r="0.4"/><circle cx="317.96" cy="296.3" r="0.4"/><circle cx="304.26" cy="297.57" r="0.4"/><circle cx="312.72" cy="284.39" r="0.4"/><circle cx="322.36" cy="269.95" r="0.4"/><circle cx="310.28" cy="289.13" r="0.4"/><circle cx="329.38" cy="290.69" r="0.4"/><circle cx="327.49" cy="282.4" r="0.4"/><circle cx="320.07" cy="291.74" r="0.4"/><circle cx="314.84" cy="288.23" r="0.4"/><circle cx="308.32" cy="286.45" r="0.4"/><circle cx="304.62" cy="300.52" r="0.4"/><circle cx="303.47" cy="279.2" r="0.4"/><circle cx="312.31" cy="287.02" r="0.4"/><circle cx="314.86" cy="296.08" r="0.4"/><circle cx="309.15" cy="286.92" r="0.4"/><circle cx="304.8" cy="289.82" r="0.4"/><circle cx="307.48" cy="290.07" r="0.4"/><circle cx="334.37" cy="281.3" r="0.4"/><circle cx="307.36" cy="299.43" r="0.4"/><circle cx="318.26" cy="289.45" r="0.4"/><circle cx="317.16" cy="289.87" r="0.4"/><circle cx="317.88" cy="292.8" r="0.4"/><circle cx="320.25" cy="291.6" r="0.4"/><circle cx="306.65" cy="289.25" r="0.4"/><circle cx="306.62" cy="294.45" r="0.4"/><circle cx="315.79" cy="283.42" r="0.4"/><circle cx="319.32" cy="298.85" r="0.4"/><circle cx="317.69" cy="279.21" r="0.4"/><circle cx="310.81" cy="291.18" r="0.4"/><circle cx="310.81" cy="289.84" r="0.4"/><circle cx="319.78" cy="286.26" r="0.4"/><circle cx="303.45" cy="294.3" r="0.4"/><circle cx="309.87" cy="288.71" r="0.4"/><circle cx="303.77" cy="282.83" r="0.4"/><circle cx="300.48" cy="289.6" r="0.4"/><circle cx="297.69" cy="277.84" r="0.4"/><circle cx="316.95" cy="279.23" r="0.4"/><circle cx="305.91" cy="292.41" r="0.4"/><circle cx="294.73" cy="300.86" r="0.4"/><circle cx="305.81" cy="293.14" r="0.4"/><circle cx="307.33" cy="290.67" r="0.4"/><circle cx="311.18" cy="287.61" r="0.4"/><circle cx="294.2" cy="285.84" r="0.4"/><circle cx="312.54" cy="294.75" r="0.4"/><circle cx="307.25" cy="291.93" r="0.4"/><circle cx="312.45" cy="289.77" r="0.4"/><circle cx="315.2" cy="278.04" r="0.4"/><circle cx="312.14" cy="286.3" r="0.4"/><circle cx="306.58" cy="284.67" r="0.4"/><circle cx="302.74" cy="285.12" r="0.4"/><circle cx="306.57" cy="302.88" r="0.4"/><circle cx="323.12" cy="283.33" r="0.4"/><circle cx="314.25" cy="281.22" r="0.4"/><circle cx="286.45" cy="286.76" r="0.4"/><circle cx="313.96" cy="294.4" r="0.4"/><circle cx="308.34" cy="283.23" r="0.4"/><circle cx="306.86" cy="283.79" r="0.4"/><circle cx="299.58" cy="290.58" r="0.4"/><circle cx="306" cy="285.11" r="0.4"/><circle cx="302.16" cy="285.86" r="0.4"/><circle cx="314.59" cy="293.92" r="0.4"/><circle cx="312.72" cy="299.16" r="0.4"/><circle cx="298.79" cy="293.61" r="0.4"/><circle cx="301.48" cy="290.27" r="0.4"/></g>
<ellipse cx="310.4" cy="287.9" rx="11.73" ry="6.96" fill="url(#halo)" transform="rotate(-20 310.4 287.9)"/>
<ellipse cx="310.4" cy="287.9" rx="10.2" ry="5.8" fill="url(#clg)" transform="rotate(-20 310.4 287.9)"/>
</g></svg>
<line x1="324.5" y1="252.6" x2="324.5" y2="295.6" stroke="#707070" stroke-width="1.1"/>
<line x1="299.2" y1="280.5" x2="352.3" y2="280.5" stroke="#707070" stroke-width="1.1"/>
<rect x="301.2" y="255.6" width="1.2" height="0.5" fill="#888"/>
<rect x="301.2" y="257" width="2.6" height="0.5" fill="#888"/>
<rect x="301.2" y="291.1" width="1.2" height="0.5" fill="#888"/>
<rect x="301.2" y="292.5" width="2.6" height="0.5" fill="#888"/>
<rect x="346.3" y="255.6" width="1.2" height="0.5" fill="#888"/>
<rect x="346.3" y="257" width="2.6" height="0.5" fill="#888"/>
<rect x="346.3" y="291.1" width="1.2" height="0.5" fill="#888"/>
<rect x="346.3" y="292.5" width="2.6" height="0.5" fill="#888"/>
<rect x="299.5" y="252.5" width="53" height="43" fill="none" stroke="#111" stroke-width="1.1"/>
<line x1="297.2" y1="295.6" x2="299.2" y2="295.6" stroke="#111" stroke-width="0.6"/>
<text x="288.2" y="297.1" font-size="4" text-anchor="start" fill="#222" stroke="#222" stroke-width="0.13" textLength="3.8" lengthAdjust="spacingAndGlyphs">10</text>
<text x="292.1" y="295.5" font-size="2.8" text-anchor="start" fill="#222" stroke="#222" stroke-width="0.13">0</text>
<line x1="298.2" y1="292.36" x2="299.2" y2="292.36" stroke="#111" stroke-width="0.4"/>
<line x1="298.2" y1="290.47" x2="299.2" y2="290.47" stroke="#111" stroke-width="0.4"/>
<line x1="298.2" y1="289.13" x2="299.2" y2="289.13" stroke="#111" stroke-width="0.4"/>
<line x1="298.2" y1="288.09" x2="299.2" y2="288.09" stroke="#111" stroke-width="0.4"/>
<line x1="298.2" y1="287.23" x2="299.2" y2="287.23" stroke="#111" stroke-width="0.4"/>
<line x1="298.2" y1="286.52" x2="299.2" y2="286.52" stroke="#111" stroke-width="0.4"/>
<line x1="298.2" y1="285.89" x2="299.2" y2="285.89" stroke="#111" stroke-width="0.4"/>
<line x1="298.2" y1="285.34" x2="299.2" y2="285.34" stroke="#111" stroke-width="0.4"/>
<line x1="297.2" y1="284.85" x2="299.2" y2="284.85" stroke="#111" stroke-width="0.6"/>
<text x="288.2" y="286.35" font-size="4" text-anchor="start" fill="#222" stroke="#222" stroke-width="0.13" textLength="3.8" lengthAdjust="spacingAndGlyphs">10</text>
<text x="292.1" y="284.75" font-size="2.8" text-anchor="start" fill="#222" stroke="#222" stroke-width="0.13">1</text>
<line x1="298.2" y1="281.61" x2="299.2" y2="281.61" stroke="#111" stroke-width="0.4"/>
<line x1="298.2" y1="279.72" x2="299.2" y2="279.72" stroke="#111" stroke-width="0.4"/>
<line x1="298.2" y1="278.38" x2="299.2" y2="278.38" stroke="#111" stroke-width="0.4"/>
<line x1="298.2" y1="277.34" x2="299.2" y2="277.34" stroke="#111" stroke-width="0.4"/>
<line x1="298.2" y1="276.48" x2="299.2" y2="276.48" stroke="#111" stroke-width="0.4"/>
<line x1="298.2" y1="275.77" x2="299.2" y2="275.77" stroke="#111" stroke-width="0.4"/>
<line x1="298.2" y1="275.14" x2="299.2" y2="275.14" stroke="#111" stroke-width="0.4"/>
<line x1="298.2" y1="274.59" x2="299.2" y2="274.59" stroke="#111" stroke-width="0.4"/>
<line x1="297.2" y1="274.1" x2="299.2" y2="274.1" stroke="#111" stroke-width="0.6"/>
<text x="288.2" y="275.6" font-size="4" text-anchor="start" fill="#222" stroke="#222" stroke-width="0.13" textLength="3.8" lengthAdjust="spacingAndGlyphs">10</text>
<text x="292.1" y="274" font-size="2.8" text-anchor="start" fill="#222" stroke="#222" stroke-width="0.13">2</text>
<line x1="298.2" y1="270.86" x2="299.2" y2="270.86" stroke="#111" stroke-width="0.4"/>
<line x1="298.2" y1="268.97" x2="299.2" y2="268.97" stroke="#111" stroke-width="0.4"/>
<line x1="298.2" y1="267.63" x2="299.2" y2="267.63" stroke="#111" stroke-width="0.4"/>
<line x1="298.2" y1="266.59" x2="299.2" y2="266.59" stroke="#111" stroke-width="0.4"/>
<line x1="298.2" y1="265.73" x2="299.2" y2="265.73" stroke="#111" stroke-width="0.4"/>
<line x1="298.2" y1="265.02" x2="299.2" y2="265.02" stroke="#111" stroke-width="0.4"/>
<line x1="298.2" y1="264.39" x2="299.2" y2="264.39" stroke="#111" stroke-width="0.4"/>
<line x1="298.2" y1="263.84" x2="299.2" y2="263.84" stroke="#111" stroke-width="0.4"/>
<line x1="297.2" y1="263.35" x2="299.2" y2="263.35" stroke="#111" stroke-width="0.6"/>
<text x="288.2" y="264.85" font-size="4" text-anchor="start" fill="#222" stroke="#222" stroke-width="0.13" textLength="3.8" lengthAdjust="spacingAndGlyphs">10</text>
<text x="292.1" y="263.25" font-size="2.8" text-anchor="start" fill="#222" stroke="#222" stroke-width="0.13">3</text>
<line x1="298.2" y1="260.11" x2="299.2" y2="260.11" stroke="#111" stroke-width="0.4"/>
<line x1="298.2" y1="258.22" x2="299.2" y2="258.22" stroke="#111" stroke-width="0.4"/>
<line x1="298.2" y1="256.88" x2="299.2" y2="256.88" stroke="#111" stroke-width="0.4"/>
<line x1="298.2" y1="255.84" x2="299.2" y2="255.84" stroke="#111" stroke-width="0.4"/>
<line x1="298.2" y1="254.98" x2="299.2" y2="254.98" stroke="#111" stroke-width="0.4"/>
<line x1="298.2" y1="254.27" x2="299.2" y2="254.27" stroke="#111" stroke-width="0.4"/>
<line x1="298.2" y1="253.64" x2="299.2" y2="253.64" stroke="#111" stroke-width="0.4"/>
<line x1="298.2" y1="253.09" x2="299.2" y2="253.09" stroke="#111" stroke-width="0.4"/>
<line x1="297.2" y1="252.6" x2="299.2" y2="252.6" stroke="#111" stroke-width="0.6"/>
<text x="288.2" y="254.1" font-size="4" text-anchor="start" fill="#222" stroke="#222" stroke-width="0.13" textLength="3.8" lengthAdjust="spacingAndGlyphs">10</text>
<text x="292.1" y="252.5" font-size="2.8" text-anchor="start" fill="#222" stroke="#222" stroke-width="0.13">4</text>
<line x1="299.2" y1="295.6" x2="299.2" y2="297.6" stroke="#111" stroke-width="0.6"/>
<text x="296.6" y="304.6" font-size="4" text-anchor="start" fill="#222" stroke="#222" stroke-width="0.13" textLength="3.8" lengthAdjust="spacingAndGlyphs">10</text>
<text x="300.5" y="303.1" font-size="2.8" text-anchor="start" fill="#222" stroke="#222" stroke-width="0.13">0</text>
<line x1="303.2" y1="295.6" x2="303.2" y2="296.6" stroke="#111" stroke-width="0.4"/>
<line x1="305.53" y1="295.6" x2="305.53" y2="296.6" stroke="#111" stroke-width="0.4"/>
<line x1="307.19" y1="295.6" x2="307.19" y2="296.6" stroke="#111" stroke-width="0.4"/>
<line x1="308.48" y1="295.6" x2="308.48" y2="296.6" stroke="#111" stroke-width="0.4"/>
<line x1="309.53" y1="295.6" x2="309.53" y2="296.6" stroke="#111" stroke-width="0.4"/>
<line x1="310.42" y1="295.6" x2="310.42" y2="296.6" stroke="#111" stroke-width="0.4"/>
<line x1="311.19" y1="295.6" x2="311.19" y2="296.6" stroke="#111" stroke-width="0.4"/>
<line x1="311.87" y1="295.6" x2="311.87" y2="296.6" stroke="#111" stroke-width="0.4"/>
<line x1="312.48" y1="295.6" x2="312.48" y2="297.6" stroke="#111" stroke-width="0.6"/>
<text x="309.88" y="304.6" font-size="4" text-anchor="start" fill="#222" stroke="#222" stroke-width="0.13" textLength="3.8" lengthAdjust="spacingAndGlyphs">10</text>
<text x="313.78" y="303.1" font-size="2.8" text-anchor="start" fill="#222" stroke="#222" stroke-width="0.13">1</text>
<line x1="316.47" y1="295.6" x2="316.47" y2="296.6" stroke="#111" stroke-width="0.4"/>
<line x1="318.81" y1="295.6" x2="318.81" y2="296.6" stroke="#111" stroke-width="0.4"/>
<line x1="320.47" y1="295.6" x2="320.47" y2="296.6" stroke="#111" stroke-width="0.4"/>
<line x1="321.75" y1="295.6" x2="321.75" y2="296.6" stroke="#111" stroke-width="0.4"/>
<line x1="322.8" y1="295.6" x2="322.8" y2="296.6" stroke="#111" stroke-width="0.4"/>
<line x1="323.69" y1="295.6" x2="323.69" y2="296.6" stroke="#111" stroke-width="0.4"/>
<line x1="324.46" y1="295.6" x2="324.46" y2="296.6" stroke="#111" stroke-width="0.4"/>
<line x1="325.14" y1="295.6" x2="325.14" y2="296.6" stroke="#111" stroke-width="0.4"/>
<line x1="325.75" y1="295.6" x2="325.75" y2="297.6" stroke="#111" stroke-width="0.6"/>
<text x="323.15" y="304.6" font-size="4" text-anchor="start" fill="#222" stroke="#222" stroke-width="0.13" textLength="3.8" lengthAdjust="spacingAndGlyphs">10</text>
<text x="327.05" y="303.1" font-size="2.8" text-anchor="start" fill="#222" stroke="#222" stroke-width="0.13">2</text>
<line x1="329.75" y1="295.6" x2="329.75" y2="296.6" stroke="#111" stroke-width="0.4"/>
<line x1="332.08" y1="295.6" x2="332.08" y2="296.6" stroke="#111" stroke-width="0.4"/>
<line x1="333.74" y1="295.6" x2="333.74" y2="296.6" stroke="#111" stroke-width="0.4"/>
<line x1="335.03" y1="295.6" x2="335.03" y2="296.6" stroke="#111" stroke-width="0.4"/>
<line x1="336.08" y1="295.6" x2="336.08" y2="296.6" stroke="#111" stroke-width="0.4"/>
<line x1="336.97" y1="295.6" x2="336.97" y2="296.6" stroke="#111" stroke-width="0.4"/>
<line x1="337.74" y1="295.6" x2="337.74" y2="296.6" stroke="#111" stroke-width="0.4"/>
<line x1="338.42" y1="295.6" x2="338.42" y2="296.6" stroke="#111" stroke-width="0.4"/>
<line x1="339.02" y1="295.6" x2="339.02" y2="297.6" stroke="#111" stroke-width="0.6"/>
<text x="336.42" y="304.6" font-size="4" text-anchor="start" fill="#222" stroke="#222" stroke-width="0.13" textLength="3.8" lengthAdjust="spacingAndGlyphs">10</text>
<text x="340.32" y="303.1" font-size="2.8" text-anchor="start" fill="#222" stroke="#222" stroke-width="0.13">3</text>
<line x1="343.02" y1="295.6" x2="343.02" y2="296.6" stroke="#111" stroke-width="0.4"/>
<line x1="345.36" y1="295.6" x2="345.36" y2="296.6" stroke="#111" stroke-width="0.4"/>
<line x1="347.02" y1="295.6" x2="347.02" y2="296.6" stroke="#111" stroke-width="0.4"/>
<line x1="348.3" y1="295.6" x2="348.3" y2="296.6" stroke="#111" stroke-width="0.4"/>
<line x1="349.35" y1="295.6" x2="349.35" y2="296.6" stroke="#111" stroke-width="0.4"/>
<line x1="350.24" y1="295.6" x2="350.24" y2="296.6" stroke="#111" stroke-width="0.4"/>
<line x1="351.01" y1="295.6" x2="351.01" y2="296.6" stroke="#111" stroke-width="0.4"/>
<line x1="351.69" y1="295.6" x2="351.69" y2="296.6" stroke="#111" stroke-width="0.4"/>
<line x1="352.3" y1="295.6" x2="352.3" y2="297.6" stroke="#111" stroke-width="0.6"/>
<text x="349.7" y="304.6" font-size="4" text-anchor="start" fill="#222" stroke="#222" stroke-width="0.13" textLength="3.8" lengthAdjust="spacingAndGlyphs">10</text>
<text x="353.6" y="303.1" font-size="2.8" text-anchor="start" fill="#222" stroke="#222" stroke-width="0.13">4</text>
<text x="328.8" y="260.85" font-size="7.4" text-anchor="start" fill="#1a1a1a" stroke="#1a1a1a" stroke-width="0.05" textLength="12.8" lengthAdjust="spacingAndGlyphs">9.75</text>
<text x="329.3" y="292.45" font-size="7.4" text-anchor="start" fill="#1a1a1a" stroke="#1a1a1a" stroke-width="0.05" textLength="12.8" lengthAdjust="spacingAndGlyphs">1.78</text>
<svg x="375.2" y="253" width="51.4" height="43" overflow="hidden"><g transform="translate(-375.2 -253)">
<ellipse cx="412" cy="272" rx="25.46" ry="9" fill="url(#hz)" transform="rotate(-45 412 272)"/>
<g fill="#5f82c8" fill-opacity="0.38"><circle cx="406.32" cy="286.58" r="0.42"/><circle cx="405.79" cy="270.5" r="0.42"/><circle cx="419.38" cy="265.56" r="0.42"/><circle cx="414.21" cy="264.33" r="0.42"/><circle cx="425.66" cy="258.11" r="0.42"/><circle cx="390.07" cy="289.66" r="0.42"/><circle cx="420.92" cy="264.64" r="0.42"/><circle cx="404.65" cy="281.11" r="0.42"/><circle cx="414.76" cy="262.95" r="0.42"/><circle cx="386.48" cy="291.43" r="0.42"/><circle cx="411.43" cy="267.9" r="0.42"/><circle cx="418.87" cy="261.49" r="0.42"/><circle cx="412" cy="270.37" r="0.42"/><circle cx="398.98" cy="281.86" r="0.42"/><circle cx="408.34" cy="275.61" r="0.42"/><circle cx="413.91" cy="270.87" r="0.42"/><circle cx="415.75" cy="269.21" r="0.42"/><circle cx="402.34" cy="277.79" r="0.42"/><circle cx="415.33" cy="266.21" r="0.42"/><circle cx="408.5" cy="269.07" r="0.42"/><circle cx="409.47" cy="276.71" r="0.42"/><circle cx="404.64" cy="272.63" r="0.42"/><circle cx="402.51" cy="269.01" r="0.42"/><circle cx="401.17" cy="279.43" r="0.42"/><circle cx="426.3" cy="269.56" r="0.42"/><circle cx="412.16" cy="270.11" r="0.42"/><circle cx="409.98" cy="279.52" r="0.42"/><circle cx="401.37" cy="274.66" r="0.42"/><circle cx="421.98" cy="259.9" r="0.42"/><circle cx="408.26" cy="270.39" r="0.42"/><circle cx="416.32" cy="264.69" r="0.42"/><circle cx="417.49" cy="262.7" r="0.42"/><circle cx="412.43" cy="266.62" r="0.42"/><circle cx="416.06" cy="265.9" r="0.42"/><circle cx="408.94" cy="264.8" r="0.42"/><circle cx="419.84" cy="266.26" r="0.42"/><circle cx="397.12" cy="282.24" r="0.42"/><circle cx="396.84" cy="278.63" r="0.42"/><circle cx="393.19" cy="279.03" r="0.42"/><circle cx="414.45" cy="274.45" r="0.42"/><circle cx="395.33" cy="267.53" r="0.42"/><circle cx="420.8" cy="261.59" r="0.42"/><circle cx="403.95" cy="276.59" r="0.42"/><circle cx="424.19" cy="261.25" r="0.42"/><circle cx="403.47" cy="284.75" r="0.42"/><circle cx="407.27" cy="270.17" r="0.42"/><circle cx="393.02" cy="291.75" r="0.42"/><circle cx="420.68" cy="261.25" r="0.42"/><circle cx="404.73" cy="281.86" r="0.42"/><circle cx="401.3" cy="276.51" r="0.42"/><circle cx="407.55" cy="274.76" r="0.42"/><circle cx="404.44" cy="278.04" r="0.42"/><circle cx="393.74" cy="288.88" r="0.42"/><circle cx="403.59" cy="273.22" r="0.42"/><circle cx="403.38" cy="275.32" r="0.42"/><circle cx="417.67" cy="261.29" r="0.42"/><circle cx="411.88" cy="271.63" r="0.42"/><circle cx="425.01" cy="262.85" r="0.42"/><circle cx="421.03" cy="270.39" r="0.42"/><circle cx="394.26" cy="282.62" r="0.42"/><circle cx="416.27" cy="257.62" r="0.42"/><circle cx="406.82" cy="266.99" r="0.42"/><circle cx="404.9" cy="284.78" r="0.42"/><circle cx="400.77" cy="280.64" r="0.42"/><circle cx="402.63" cy="286.92" r="0.42"/><circle cx="418.69" cy="262.22" r="0.42"/><circle cx="406.79" cy="275.56" r="0.42"/><circle cx="404.29" cy="283.71" r="0.42"/><circle cx="396.93" cy="282.12" r="0.42"/><circle cx="398.32" cy="277.84" r="0.42"/><circle cx="416.13" cy="277.2" r="0.42"/><circle cx="405.24" cy="275.08" r="0.42"/><circle cx="422.54" cy="263.15" r="0.42"/><circle cx="391.06" cy="288.8" r="0.42"/><circle cx="399.31" cy="279.27" r="0.42"/><circle cx="407.85" cy="269" r="0.42"/><circle cx="420.42" cy="271.69" r="0.42"/><circle cx="409.01" cy="276.71" r="0.42"/><circle cx="420.02" cy="259.18" r="0.42"/><circle cx="404.8" cy="271.81" r="0.42"/><circle cx="426.47" cy="262.38" r="0.42"/><circle cx="416.91" cy="259.08" r="0.42"/><circle cx="398.67" cy="285.85" r="0.42"/><circle cx="423.22" cy="258.74" r="0.42"/><circle cx="427.69" cy="261.15" r="0.42"/><circle cx="418.89" cy="266.49" r="0.42"/><circle cx="417.61" cy="268.68" r="0.42"/><circle cx="408.04" cy="279.67" r="0.42"/><circle cx="400.3" cy="277.88" r="0.42"/><circle cx="394.56" cy="283.44" r="0.42"/><circle cx="412.31" cy="265.59" r="0.42"/><circle cx="412.76" cy="274.04" r="0.42"/><circle cx="395.79" cy="281.67" r="0.42"/><circle cx="409.7" cy="272.76" r="0.42"/><circle cx="415.75" cy="269.42" r="0.42"/><circle cx="419.6" cy="266" r="0.42"/><circle cx="418.93" cy="261.81" r="0.42"/><circle cx="398.29" cy="282.06" r="0.42"/><circle cx="407.53" cy="271.68" r="0.42"/><circle cx="410.92" cy="276.94" r="0.42"/><circle cx="408.02" cy="273.68" r="0.42"/><circle cx="407.09" cy="276.59" r="0.42"/><circle cx="404.54" cy="276.04" r="0.42"/><circle cx="430.67" cy="261.93" r="0.42"/><circle cx="410.4" cy="267.55" r="0.42"/><circle cx="416.18" cy="272.98" r="0.42"/><circle cx="398.68" cy="282.65" r="0.42"/><circle cx="403.05" cy="274.63" r="0.42"/><circle cx="425.92" cy="263.59" r="0.42"/><circle cx="395.76" cy="275.7" r="0.42"/><circle cx="418.67" cy="267.18" r="0.42"/><circle cx="413.67" cy="269.11" r="0.42"/><circle cx="410.67" cy="262.17" r="0.42"/><circle cx="406.17" cy="272.49" r="0.42"/><circle cx="431.55" cy="260.83" r="0.42"/><circle cx="405.41" cy="275.36" r="0.42"/><circle cx="401.01" cy="273.45" r="0.42"/><circle cx="397.52" cy="283.5" r="0.42"/><circle cx="400.79" cy="283.8" r="0.42"/><circle cx="430.98" cy="258.56" r="0.42"/></g>
<g fill="#5f82c8" fill-opacity="0.38"><circle cx="413.03" cy="274.4" r="0.42"/><circle cx="419.92" cy="290.42" r="0.42"/><circle cx="419.28" cy="279.82" r="0.42"/><circle cx="406.58" cy="279.38" r="0.42"/><circle cx="421.45" cy="285.68" r="0.42"/><circle cx="404.12" cy="282.98" r="0.42"/><circle cx="410.03" cy="261.33" r="0.42"/><circle cx="424.21" cy="281.24" r="0.42"/><circle cx="419.15" cy="260.26" r="0.42"/><circle cx="421.05" cy="291.55" r="0.42"/><circle cx="422.81" cy="284.05" r="0.42"/><circle cx="421.15" cy="286.28" r="0.42"/><circle cx="415.58" cy="271.98" r="0.42"/><circle cx="420.98" cy="285.59" r="0.42"/><circle cx="422.03" cy="266.66" r="0.42"/><circle cx="424.1" cy="275.74" r="0.42"/><circle cx="423.76" cy="259.52" r="0.42"/><circle cx="424.27" cy="285.71" r="0.42"/><circle cx="407.8" cy="287.7" r="0.42"/><circle cx="407.34" cy="262.72" r="0.42"/><circle cx="412.53" cy="264.23" r="0.42"/><circle cx="413.33" cy="290.42" r="0.42"/><circle cx="417.76" cy="282.71" r="0.42"/><circle cx="411.02" cy="285.57" r="0.42"/><circle cx="420.25" cy="281.63" r="0.42"/></g>
<g fill="#6a8fd0" fill-opacity="0.35"><circle cx="398.13" cy="279.84" r="0.4"/><circle cx="383.96" cy="290.03" r="0.4"/><circle cx="375.2" cy="283.26" r="0.4"/><circle cx="382.84" cy="295.44" r="0.4"/><circle cx="390.37" cy="277.94" r="0.4"/><circle cx="394.97" cy="284.89" r="0.4"/><circle cx="389.91" cy="286.83" r="0.4"/><circle cx="387.47" cy="282.09" r="0.4"/><circle cx="378.42" cy="286.98" r="0.4"/><circle cx="384.6" cy="291.79" r="0.4"/><circle cx="380.14" cy="298.63" r="0.4"/><circle cx="380.61" cy="286.79" r="0.4"/><circle cx="392.03" cy="288.1" r="0.4"/><circle cx="381.91" cy="283.74" r="0.4"/><circle cx="376.22" cy="282.99" r="0.4"/><circle cx="396.33" cy="290" r="0.4"/><circle cx="400.57" cy="285.34" r="0.4"/><circle cx="389.91" cy="290.6" r="0.4"/><circle cx="392.64" cy="284.17" r="0.4"/><circle cx="392.45" cy="297.14" r="0.4"/><circle cx="371.53" cy="285.72" r="0.4"/><circle cx="380.53" cy="293.99" r="0.4"/><circle cx="394.21" cy="283.17" r="0.4"/><circle cx="390.98" cy="285.9" r="0.4"/><circle cx="387.44" cy="284.56" r="0.4"/><circle cx="386" cy="287.95" r="0.4"/><circle cx="398.22" cy="295.46" r="0.4"/><circle cx="373.98" cy="295.2" r="0.4"/><circle cx="387.83" cy="292.48" r="0.4"/><circle cx="395.22" cy="288.79" r="0.4"/><circle cx="390.42" cy="281.28" r="0.4"/><circle cx="376.73" cy="300.28" r="0.4"/><circle cx="393.31" cy="280.22" r="0.4"/><circle cx="396.69" cy="287.65" r="0.4"/><circle cx="369.98" cy="298.61" r="0.4"/><circle cx="381.06" cy="296.01" r="0.4"/><circle cx="379.99" cy="286.18" r="0.4"/><circle cx="374.64" cy="290.95" r="0.4"/><circle cx="392.41" cy="282.05" r="0.4"/><circle cx="376.42" cy="302.93" r="0.4"/><circle cx="400.75" cy="286.3" r="0.4"/><circle cx="380.22" cy="283.59" r="0.4"/><circle cx="375.29" cy="294.86" r="0.4"/><circle cx="393.79" cy="279.47" r="0.4"/><circle cx="385.72" cy="286.59" r="0.4"/><circle cx="385.21" cy="290.95" r="0.4"/><circle cx="400.26" cy="279.37" r="0.4"/><circle cx="394.23" cy="290.81" r="0.4"/><circle cx="383.88" cy="287.95" r="0.4"/><circle cx="378.34" cy="296.54" r="0.4"/><circle cx="381.23" cy="286.21" r="0.4"/><circle cx="385.21" cy="283.67" r="0.4"/><circle cx="378.13" cy="289.24" r="0.4"/><circle cx="396.62" cy="283.01" r="0.4"/><circle cx="387.5" cy="279.57" r="0.4"/><circle cx="375.21" cy="301.63" r="0.4"/><circle cx="380.67" cy="281.67" r="0.4"/><circle cx="386.48" cy="291.05" r="0.4"/><circle cx="372.16" cy="288.28" r="0.4"/><circle cx="386.49" cy="282.85" r="0.4"/><circle cx="393.63" cy="290.35" r="0.4"/><circle cx="388.67" cy="284.7" r="0.4"/><circle cx="384.77" cy="285.03" r="0.4"/><circle cx="385.8" cy="289.75" r="0.4"/><circle cx="385.7" cy="293.3" r="0.4"/><circle cx="404.08" cy="278.46" r="0.4"/><circle cx="390.11" cy="290.89" r="0.4"/><circle cx="390.47" cy="285.07" r="0.4"/><circle cx="384.45" cy="293.92" r="0.4"/><circle cx="391.61" cy="288.65" r="0.4"/><circle cx="381.46" cy="293.01" r="0.4"/><circle cx="391.65" cy="284.92" r="0.4"/><circle cx="394.64" cy="296.48" r="0.4"/><circle cx="373.62" cy="295.73" r="0.4"/><circle cx="375.34" cy="284.53" r="0.4"/><circle cx="385.43" cy="291.11" r="0.4"/><circle cx="384.57" cy="282.24" r="0.4"/><circle cx="374.79" cy="289.07" r="0.4"/><circle cx="384.87" cy="283.93" r="0.4"/><circle cx="378.3" cy="300.2" r="0.4"/><circle cx="379.83" cy="289.38" r="0.4"/><circle cx="381.2" cy="286.57" r="0.4"/><circle cx="385.98" cy="286.38" r="0.4"/><circle cx="388.66" cy="280.64" r="0.4"/><circle cx="378.76" cy="301.09" r="0.4"/><circle cx="386.98" cy="291.74" r="0.4"/><circle cx="395.74" cy="287.41" r="0.4"/><circle cx="383.78" cy="280.42" r="0.4"/><circle cx="376.24" cy="296.78" r="0.4"/><circle cx="392.11" cy="288.81" r="0.4"/><circle cx="370.44" cy="282.17" r="0.4"/><circle cx="376.47" cy="285.09" r="0.4"/><circle cx="385.59" cy="282.62" r="0.4"/><circle cx="396.65" cy="280.75" r="0.4"/><circle cx="383.6" cy="293.5" r="0.4"/><circle cx="387.04" cy="282.75" r="0.4"/><circle cx="395.51" cy="294.86" r="0.4"/><circle cx="376.83" cy="289.97" r="0.4"/><circle cx="374.99" cy="281.52" r="0.4"/><circle cx="391.98" cy="289.56" r="0.4"/><circle cx="394.05" cy="287.35" r="0.4"/><circle cx="371.46" cy="293.12" r="0.4"/><circle cx="379.29" cy="284.07" r="0.4"/><circle cx="379.45" cy="294.48" r="0.4"/><circle cx="387.44" cy="298.05" r="0.4"/><circle cx="386.33" cy="277.56" r="0.4"/><circle cx="394.89" cy="291.48" r="0.4"/><circle cx="384.33" cy="282.04" r="0.4"/><circle cx="396.84" cy="276.94" r="0.4"/><circle cx="382.28" cy="279.03" r="0.4"/><circle cx="374.08" cy="283.13" r="0.4"/><circle cx="396.21" cy="290.62" r="0.4"/><circle cx="380.88" cy="282.51" r="0.4"/><circle cx="386.42" cy="289.87" r="0.4"/><circle cx="373.02" cy="286.43" r="0.4"/><circle cx="386.67" cy="291.53" r="0.4"/><circle cx="387.53" cy="289.85" r="0.4"/><circle cx="372.72" cy="279.33" r="0.4"/><circle cx="386.89" cy="282.68" r="0.4"/><circle cx="384.63" cy="286.43" r="0.4"/><circle cx="388.38" cy="282.92" r="0.4"/><circle cx="396.84" cy="284.2" r="0.4"/><circle cx="391.18" cy="289.5" r="0.4"/><circle cx="394.51" cy="287.06" r="0.4"/><circle cx="372.26" cy="289.56" r="0.4"/><circle cx="400.68" cy="285.19" r="0.4"/><circle cx="391.13" cy="288.64" r="0.4"/><circle cx="380.31" cy="286.36" r="0.4"/><circle cx="383.47" cy="295.18" r="0.4"/><circle cx="391.98" cy="295.46" r="0.4"/></g>
<ellipse cx="386.2" cy="287.9" rx="11.5" ry="6.96" fill="url(#halo)" transform="rotate(-20 386.2 287.9)"/>
<ellipse cx="386.2" cy="287.9" rx="10" ry="5.8" fill="url(#clg)" transform="rotate(-20 386.2 287.9)"/>
</g></svg>
<line x1="400.5" y1="253" x2="400.5" y2="296" stroke="#707070" stroke-width="1.1"/>
<line x1="375.2" y1="280.5" x2="426.6" y2="280.5" stroke="#707070" stroke-width="1.1"/>
<rect x="377.2" y="256" width="1.2" height="0.5" fill="#888"/>
<rect x="377.2" y="257.4" width="2.6" height="0.5" fill="#888"/>
<rect x="377.2" y="291.5" width="1.2" height="0.5" fill="#888"/>
<rect x="377.2" y="292.9" width="2.6" height="0.5" fill="#888"/>
<rect x="420.6" y="256" width="1.2" height="0.5" fill="#888"/>
<rect x="420.6" y="257.4" width="2.6" height="0.5" fill="#888"/>
<rect x="420.6" y="291.5" width="1.2" height="0.5" fill="#888"/>
<rect x="420.6" y="292.9" width="2.6" height="0.5" fill="#888"/>
<rect x="375.5" y="253.5" width="51" height="43" fill="none" stroke="#111" stroke-width="1.1"/>
<line x1="373.2" y1="296" x2="375.2" y2="296" stroke="#111" stroke-width="0.6"/>
<text x="364.2" y="297.5" font-size="4" text-anchor="start" fill="#222" stroke="#222" stroke-width="0.13" textLength="3.8" lengthAdjust="spacingAndGlyphs">10</text>
<text x="368.1" y="295.9" font-size="2.8" text-anchor="start" fill="#222" stroke="#222" stroke-width="0.13">0</text>
<line x1="374.2" y1="292.76" x2="375.2" y2="292.76" stroke="#111" stroke-width="0.4"/>
<line x1="374.2" y1="290.87" x2="375.2" y2="290.87" stroke="#111" stroke-width="0.4"/>
<line x1="374.2" y1="289.53" x2="375.2" y2="289.53" stroke="#111" stroke-width="0.4"/>
<line x1="374.2" y1="288.49" x2="375.2" y2="288.49" stroke="#111" stroke-width="0.4"/>
<line x1="374.2" y1="287.63" x2="375.2" y2="287.63" stroke="#111" stroke-width="0.4"/>
<line x1="374.2" y1="286.92" x2="375.2" y2="286.92" stroke="#111" stroke-width="0.4"/>
<line x1="374.2" y1="286.29" x2="375.2" y2="286.29" stroke="#111" stroke-width="0.4"/>
<line x1="374.2" y1="285.74" x2="375.2" y2="285.74" stroke="#111" stroke-width="0.4"/>
<line x1="373.2" y1="285.25" x2="375.2" y2="285.25" stroke="#111" stroke-width="0.6"/>
<text x="364.2" y="286.75" font-size="4" text-anchor="start" fill="#222" stroke="#222" stroke-width="0.13" textLength="3.8" lengthAdjust="spacingAndGlyphs">10</text>
<text x="368.1" y="285.15" font-size="2.8" text-anchor="start" fill="#222" stroke="#222" stroke-width="0.13">1</text>
<line x1="374.2" y1="282.01" x2="375.2" y2="282.01" stroke="#111" stroke-width="0.4"/>
<line x1="374.2" y1="280.12" x2="375.2" y2="280.12" stroke="#111" stroke-width="0.4"/>
<line x1="374.2" y1="278.78" x2="375.2" y2="278.78" stroke="#111" stroke-width="0.4"/>
<line x1="374.2" y1="277.74" x2="375.2" y2="277.74" stroke="#111" stroke-width="0.4"/>
<line x1="374.2" y1="276.88" x2="375.2" y2="276.88" stroke="#111" stroke-width="0.4"/>
<line x1="374.2" y1="276.17" x2="375.2" y2="276.17" stroke="#111" stroke-width="0.4"/>
<line x1="374.2" y1="275.54" x2="375.2" y2="275.54" stroke="#111" stroke-width="0.4"/>
<line x1="374.2" y1="274.99" x2="375.2" y2="274.99" stroke="#111" stroke-width="0.4"/>
<line x1="373.2" y1="274.5" x2="375.2" y2="274.5" stroke="#111" stroke-width="0.6"/>
<text x="364.2" y="276" font-size="4" text-anchor="start" fill="#222" stroke="#222" stroke-width="0.13" textLength="3.8" lengthAdjust="spacingAndGlyphs">10</text>
<text x="368.1" y="274.4" font-size="2.8" text-anchor="start" fill="#222" stroke="#222" stroke-width="0.13">2</text>
<line x1="374.2" y1="271.26" x2="375.2" y2="271.26" stroke="#111" stroke-width="0.4"/>
<line x1="374.2" y1="269.37" x2="375.2" y2="269.37" stroke="#111" stroke-width="0.4"/>
<line x1="374.2" y1="268.03" x2="375.2" y2="268.03" stroke="#111" stroke-width="0.4"/>
<line x1="374.2" y1="266.99" x2="375.2" y2="266.99" stroke="#111" stroke-width="0.4"/>
<line x1="374.2" y1="266.13" x2="375.2" y2="266.13" stroke="#111" stroke-width="0.4"/>
<line x1="374.2" y1="265.42" x2="375.2" y2="265.42" stroke="#111" stroke-width="0.4"/>
<line x1="374.2" y1="264.79" x2="375.2" y2="264.79" stroke="#111" stroke-width="0.4"/>
<line x1="374.2" y1="264.24" x2="375.2" y2="264.24" stroke="#111" stroke-width="0.4"/>
<line x1="373.2" y1="263.75" x2="375.2" y2="263.75" stroke="#111" stroke-width="0.6"/>
<text x="364.2" y="265.25" font-size="4" text-anchor="start" fill="#222" stroke="#222" stroke-width="0.13" textLength="3.8" lengthAdjust="spacingAndGlyphs">10</text>
<text x="368.1" y="263.65" font-size="2.8" text-anchor="start" fill="#222" stroke="#222" stroke-width="0.13">3</text>
<line x1="374.2" y1="260.51" x2="375.2" y2="260.51" stroke="#111" stroke-width="0.4"/>
<line x1="374.2" y1="258.62" x2="375.2" y2="258.62" stroke="#111" stroke-width="0.4"/>
<line x1="374.2" y1="257.28" x2="375.2" y2="257.28" stroke="#111" stroke-width="0.4"/>
<line x1="374.2" y1="256.24" x2="375.2" y2="256.24" stroke="#111" stroke-width="0.4"/>
<line x1="374.2" y1="255.38" x2="375.2" y2="255.38" stroke="#111" stroke-width="0.4"/>
<line x1="374.2" y1="254.67" x2="375.2" y2="254.67" stroke="#111" stroke-width="0.4"/>
<line x1="374.2" y1="254.04" x2="375.2" y2="254.04" stroke="#111" stroke-width="0.4"/>
<line x1="374.2" y1="253.49" x2="375.2" y2="253.49" stroke="#111" stroke-width="0.4"/>
<line x1="373.2" y1="253" x2="375.2" y2="253" stroke="#111" stroke-width="0.6"/>
<text x="364.2" y="254.5" font-size="4" text-anchor="start" fill="#222" stroke="#222" stroke-width="0.13" textLength="3.8" lengthAdjust="spacingAndGlyphs">10</text>
<text x="368.1" y="252.9" font-size="2.8" text-anchor="start" fill="#222" stroke="#222" stroke-width="0.13">4</text>
<line x1="375.2" y1="296" x2="375.2" y2="298" stroke="#111" stroke-width="0.6"/>
<text x="372.6" y="305" font-size="4" text-anchor="start" fill="#222" stroke="#222" stroke-width="0.13" textLength="3.8" lengthAdjust="spacingAndGlyphs">10</text>
<text x="376.5" y="303.5" font-size="2.8" text-anchor="start" fill="#222" stroke="#222" stroke-width="0.13">0</text>
<line x1="379.07" y1="296" x2="379.07" y2="297" stroke="#111" stroke-width="0.4"/>
<line x1="381.33" y1="296" x2="381.33" y2="297" stroke="#111" stroke-width="0.4"/>
<line x1="382.94" y1="296" x2="382.94" y2="297" stroke="#111" stroke-width="0.4"/>
<line x1="384.18" y1="296" x2="384.18" y2="297" stroke="#111" stroke-width="0.4"/>
<line x1="385.2" y1="296" x2="385.2" y2="297" stroke="#111" stroke-width="0.4"/>
<line x1="386.06" y1="296" x2="386.06" y2="297" stroke="#111" stroke-width="0.4"/>
<line x1="386.8" y1="296" x2="386.8" y2="297" stroke="#111" stroke-width="0.4"/>
<line x1="387.46" y1="296" x2="387.46" y2="297" stroke="#111" stroke-width="0.4"/>
<line x1="388.05" y1="296" x2="388.05" y2="298" stroke="#111" stroke-width="0.6"/>
<text x="385.45" y="305" font-size="4" text-anchor="start" fill="#222" stroke="#222" stroke-width="0.13" textLength="3.8" lengthAdjust="spacingAndGlyphs">10</text>
<text x="389.35" y="303.5" font-size="2.8" text-anchor="start" fill="#222" stroke="#222" stroke-width="0.13">1</text>
<line x1="391.92" y1="296" x2="391.92" y2="297" stroke="#111" stroke-width="0.4"/>
<line x1="394.18" y1="296" x2="394.18" y2="297" stroke="#111" stroke-width="0.4"/>
<line x1="395.79" y1="296" x2="395.79" y2="297" stroke="#111" stroke-width="0.4"/>
<line x1="397.03" y1="296" x2="397.03" y2="297" stroke="#111" stroke-width="0.4"/>
<line x1="398.05" y1="296" x2="398.05" y2="297" stroke="#111" stroke-width="0.4"/>
<line x1="398.91" y1="296" x2="398.91" y2="297" stroke="#111" stroke-width="0.4"/>
<line x1="399.65" y1="296" x2="399.65" y2="297" stroke="#111" stroke-width="0.4"/>
<line x1="400.31" y1="296" x2="400.31" y2="297" stroke="#111" stroke-width="0.4"/>
<line x1="400.9" y1="296" x2="400.9" y2="298" stroke="#111" stroke-width="0.6"/>
<text x="398.3" y="305" font-size="4" text-anchor="start" fill="#222" stroke="#222" stroke-width="0.13" textLength="3.8" lengthAdjust="spacingAndGlyphs">10</text>
<text x="402.2" y="303.5" font-size="2.8" text-anchor="start" fill="#222" stroke="#222" stroke-width="0.13">2</text>
<line x1="404.77" y1="296" x2="404.77" y2="297" stroke="#111" stroke-width="0.4"/>
<line x1="407.03" y1="296" x2="407.03" y2="297" stroke="#111" stroke-width="0.4"/>
<line x1="408.64" y1="296" x2="408.64" y2="297" stroke="#111" stroke-width="0.4"/>
<line x1="409.88" y1="296" x2="409.88" y2="297" stroke="#111" stroke-width="0.4"/>
<line x1="410.9" y1="296" x2="410.9" y2="297" stroke="#111" stroke-width="0.4"/>
<line x1="411.76" y1="296" x2="411.76" y2="297" stroke="#111" stroke-width="0.4"/>
<line x1="412.5" y1="296" x2="412.5" y2="297" stroke="#111" stroke-width="0.4"/>
<line x1="413.16" y1="296" x2="413.16" y2="297" stroke="#111" stroke-width="0.4"/>
<line x1="413.75" y1="296" x2="413.75" y2="298" stroke="#111" stroke-width="0.6"/>
<text x="411.15" y="305" font-size="4" text-anchor="start" fill="#222" stroke="#222" stroke-width="0.13" textLength="3.8" lengthAdjust="spacingAndGlyphs">10</text>
<text x="415.05" y="303.5" font-size="2.8" text-anchor="start" fill="#222" stroke="#222" stroke-width="0.13">3</text>
<line x1="417.62" y1="296" x2="417.62" y2="297" stroke="#111" stroke-width="0.4"/>
<line x1="419.88" y1="296" x2="419.88" y2="297" stroke="#111" stroke-width="0.4"/>
<line x1="421.49" y1="296" x2="421.49" y2="297" stroke="#111" stroke-width="0.4"/>
<line x1="422.73" y1="296" x2="422.73" y2="297" stroke="#111" stroke-width="0.4"/>
<line x1="423.75" y1="296" x2="423.75" y2="297" stroke="#111" stroke-width="0.4"/>
<line x1="424.61" y1="296" x2="424.61" y2="297" stroke="#111" stroke-width="0.4"/>
<line x1="425.35" y1="296" x2="425.35" y2="297" stroke="#111" stroke-width="0.4"/>
<line x1="426.01" y1="296" x2="426.01" y2="297" stroke="#111" stroke-width="0.4"/>
<line x1="426.6" y1="296" x2="426.6" y2="298" stroke="#111" stroke-width="0.6"/>
<text x="424" y="305" font-size="4" text-anchor="start" fill="#222" stroke="#222" stroke-width="0.13" textLength="3.8" lengthAdjust="spacingAndGlyphs">10</text>
<text x="427.9" y="303.5" font-size="2.8" text-anchor="start" fill="#222" stroke="#222" stroke-width="0.13">4</text>
<text x="404.7" y="260.85" font-size="7.4" text-anchor="start" fill="#1a1a1a" stroke="#1a1a1a" stroke-width="0.05" textLength="12.8" lengthAdjust="spacingAndGlyphs">9.78</text>
<text x="405" y="292.45" font-size="7.4" text-anchor="start" fill="#1a1a1a" stroke="#1a1a1a" stroke-width="0.05" textLength="12.8" lengthAdjust="spacingAndGlyphs">1.58</text>
<svg x="450.4" y="252.5" width="51.9" height="43.1" overflow="hidden"><g transform="translate(-450.4 -252.5)">
<ellipse cx="488" cy="272" rx="25.46" ry="9" fill="url(#hz)" transform="rotate(-45 488 272)"/>
<g fill="#5f82c8" fill-opacity="0.38"><circle cx="480.16" cy="274.3" r="0.42"/><circle cx="493.12" cy="272.22" r="0.42"/><circle cx="466.89" cy="285.09" r="0.42"/><circle cx="467.78" cy="279.79" r="0.42"/><circle cx="484.45" cy="272.29" r="0.42"/><circle cx="489.39" cy="277.07" r="0.42"/><circle cx="504.1" cy="248.98" r="0.42"/><circle cx="481.67" cy="276.65" r="0.42"/><circle cx="487.6" cy="275.73" r="0.42"/><circle cx="490.08" cy="262.84" r="0.42"/><circle cx="482.01" cy="280.02" r="0.42"/><circle cx="480.89" cy="283.91" r="0.42"/><circle cx="483.67" cy="272.5" r="0.42"/><circle cx="492.8" cy="269.12" r="0.42"/><circle cx="484.29" cy="260.57" r="0.42"/><circle cx="501.27" cy="262.34" r="0.42"/><circle cx="492.14" cy="264.43" r="0.42"/><circle cx="483.93" cy="280.86" r="0.42"/><circle cx="490.35" cy="263.61" r="0.42"/><circle cx="483.79" cy="280.65" r="0.42"/><circle cx="500.34" cy="259.31" r="0.42"/><circle cx="470.43" cy="287.52" r="0.42"/><circle cx="493.24" cy="263.97" r="0.42"/><circle cx="477.05" cy="288.43" r="0.42"/><circle cx="492.97" cy="272.31" r="0.42"/><circle cx="487.66" cy="264.8" r="0.42"/><circle cx="477.77" cy="285.5" r="0.42"/><circle cx="486.48" cy="274.58" r="0.42"/><circle cx="475.68" cy="282.17" r="0.42"/><circle cx="503.35" cy="259.03" r="0.42"/><circle cx="487.52" cy="270.11" r="0.42"/><circle cx="496.49" cy="262.9" r="0.42"/><circle cx="473.45" cy="278.11" r="0.42"/><circle cx="473.51" cy="279.9" r="0.42"/><circle cx="492.05" cy="275.15" r="0.42"/><circle cx="489.59" cy="272.49" r="0.42"/><circle cx="492.65" cy="265.63" r="0.42"/><circle cx="490.6" cy="270.82" r="0.42"/><circle cx="496.76" cy="261.84" r="0.42"/><circle cx="490.11" cy="271.25" r="0.42"/><circle cx="479.51" cy="270.45" r="0.42"/><circle cx="490.6" cy="266.73" r="0.42"/><circle cx="496.5" cy="267.14" r="0.42"/><circle cx="479.61" cy="269.48" r="0.42"/><circle cx="473.99" cy="274.58" r="0.42"/><circle cx="489.85" cy="279.26" r="0.42"/><circle cx="491.16" cy="270.3" r="0.42"/><circle cx="501.1" cy="262.13" r="0.42"/><circle cx="496.84" cy="259.12" r="0.42"/><circle cx="494.63" cy="265.64" r="0.42"/><circle cx="500.6" cy="257.67" r="0.42"/><circle cx="472.04" cy="293.4" r="0.42"/><circle cx="472.67" cy="272.12" r="0.42"/><circle cx="492.39" cy="266.68" r="0.42"/><circle cx="481.11" cy="282.43" r="0.42"/><circle cx="479.11" cy="282.09" r="0.42"/><circle cx="476.59" cy="278.64" r="0.42"/><circle cx="491.14" cy="275.78" r="0.42"/><circle cx="497.8" cy="260.96" r="0.42"/><circle cx="489.77" cy="259.73" r="0.42"/><circle cx="481.85" cy="268.44" r="0.42"/><circle cx="495.91" cy="264.21" r="0.42"/><circle cx="485.94" cy="274.42" r="0.42"/><circle cx="470.21" cy="284.95" r="0.42"/><circle cx="497.31" cy="258.87" r="0.42"/><circle cx="472.27" cy="280.48" r="0.42"/><circle cx="491.3" cy="280.64" r="0.42"/><circle cx="485.92" cy="272.06" r="0.42"/><circle cx="496.96" cy="259.58" r="0.42"/><circle cx="470.97" cy="285.55" r="0.42"/><circle cx="496.74" cy="268.81" r="0.42"/><circle cx="500.39" cy="258.15" r="0.42"/><circle cx="476.73" cy="287.72" r="0.42"/><circle cx="484.4" cy="268.71" r="0.42"/><circle cx="478.42" cy="271.06" r="0.42"/><circle cx="497.67" cy="253.6" r="0.42"/><circle cx="501.44" cy="255.29" r="0.42"/><circle cx="467.83" cy="278.43" r="0.42"/><circle cx="485.08" cy="272.28" r="0.42"/><circle cx="493.67" cy="261.73" r="0.42"/><circle cx="476.73" cy="282.27" r="0.42"/><circle cx="483.46" cy="279.22" r="0.42"/><circle cx="495.41" cy="251.27" r="0.42"/><circle cx="499.97" cy="254.22" r="0.42"/><circle cx="492.9" cy="267.77" r="0.42"/><circle cx="485.51" cy="274.81" r="0.42"/><circle cx="500.46" cy="259.57" r="0.42"/><circle cx="495.13" cy="256.55" r="0.42"/><circle cx="492.88" cy="263.39" r="0.42"/><circle cx="493.51" cy="267.8" r="0.42"/><circle cx="471.78" cy="273.43" r="0.42"/><circle cx="469.59" cy="280.43" r="0.42"/><circle cx="490.29" cy="269.45" r="0.42"/><circle cx="494.65" cy="251.17" r="0.42"/><circle cx="473.51" cy="286.53" r="0.42"/><circle cx="501.04" cy="260.87" r="0.42"/><circle cx="494.55" cy="265.8" r="0.42"/><circle cx="481.33" cy="268.37" r="0.42"/><circle cx="493.18" cy="262.24" r="0.42"/><circle cx="483.71" cy="279.81" r="0.42"/><circle cx="475.9" cy="289.94" r="0.42"/><circle cx="485.28" cy="264.98" r="0.42"/><circle cx="487.44" cy="266.22" r="0.42"/><circle cx="472.58" cy="284.48" r="0.42"/><circle cx="482.37" cy="277.33" r="0.42"/><circle cx="490.99" cy="271.07" r="0.42"/><circle cx="478.77" cy="275.98" r="0.42"/><circle cx="471.83" cy="286.88" r="0.42"/><circle cx="485.6" cy="268.77" r="0.42"/><circle cx="476.11" cy="281.91" r="0.42"/></g>
<g fill="#5f82c8" fill-opacity="0.38"><circle cx="496.97" cy="255.23" r="0.42"/><circle cx="496.89" cy="263.05" r="0.42"/><circle cx="497.52" cy="286.11" r="0.42"/><circle cx="493.1" cy="265.11" r="0.42"/><circle cx="477.24" cy="261.6" r="0.42"/><circle cx="498.72" cy="260.32" r="0.42"/><circle cx="492.82" cy="277.48" r="0.42"/><circle cx="492.87" cy="261.22" r="0.42"/><circle cx="480.45" cy="257.88" r="0.42"/><circle cx="500.58" cy="269.32" r="0.42"/><circle cx="492.65" cy="276.78" r="0.42"/><circle cx="482.36" cy="256.59" r="0.42"/><circle cx="477.36" cy="288.1" r="0.42"/><circle cx="480.12" cy="292.52" r="0.42"/><circle cx="485.73" cy="282.91" r="0.42"/><circle cx="480.32" cy="285.52" r="0.42"/><circle cx="483.04" cy="268.65" r="0.42"/><circle cx="489.55" cy="258.46" r="0.42"/><circle cx="482.96" cy="285.84" r="0.42"/><circle cx="483.85" cy="269.23" r="0.42"/><circle cx="495.35" cy="262.96" r="0.42"/><circle cx="481.65" cy="262.76" r="0.42"/><circle cx="486.22" cy="268.61" r="0.42"/><circle cx="492.39" cy="272.87" r="0.42"/><circle cx="497.87" cy="256.02" r="0.42"/></g>
<g fill="#6a8fd0" fill-opacity="0.35"><circle cx="451.85" cy="282.82" r="0.4"/><circle cx="462.49" cy="288.99" r="0.4"/><circle cx="458.84" cy="290.02" r="0.4"/><circle cx="451.33" cy="293.85" r="0.4"/><circle cx="465.45" cy="288.1" r="0.4"/><circle cx="457.52" cy="289.92" r="0.4"/><circle cx="464.7" cy="292.62" r="0.4"/><circle cx="464.37" cy="288.36" r="0.4"/><circle cx="458.06" cy="293.92" r="0.4"/><circle cx="469.69" cy="282.42" r="0.4"/><circle cx="467.14" cy="287.65" r="0.4"/><circle cx="459.34" cy="281.94" r="0.4"/><circle cx="471.62" cy="274.36" r="0.4"/><circle cx="463.48" cy="285.31" r="0.4"/><circle cx="469.6" cy="282.83" r="0.4"/><circle cx="463.24" cy="290.69" r="0.4"/><circle cx="464.36" cy="284.22" r="0.4"/><circle cx="467.59" cy="287.93" r="0.4"/><circle cx="468.3" cy="282.83" r="0.4"/><circle cx="460.89" cy="286.17" r="0.4"/><circle cx="456.17" cy="291.35" r="0.4"/><circle cx="467.35" cy="293.52" r="0.4"/><circle cx="460.17" cy="290.6" r="0.4"/><circle cx="470.11" cy="284.3" r="0.4"/><circle cx="462.59" cy="288.36" r="0.4"/><circle cx="455.13" cy="285.08" r="0.4"/><circle cx="470.4" cy="285.73" r="0.4"/><circle cx="459.22" cy="282.23" r="0.4"/><circle cx="464.78" cy="293.13" r="0.4"/><circle cx="451.92" cy="286.77" r="0.4"/><circle cx="472.5" cy="291.69" r="0.4"/><circle cx="472.35" cy="281.14" r="0.4"/><circle cx="465.01" cy="282.75" r="0.4"/><circle cx="465.09" cy="284.79" r="0.4"/><circle cx="465.64" cy="293.7" r="0.4"/><circle cx="463.97" cy="285.86" r="0.4"/><circle cx="462.77" cy="289" r="0.4"/><circle cx="458.49" cy="290.24" r="0.4"/><circle cx="468.97" cy="293.65" r="0.4"/><circle cx="444.75" cy="287.79" r="0.4"/><circle cx="454.33" cy="295.33" r="0.4"/><circle cx="480.11" cy="282.3" r="0.4"/><circle cx="464.74" cy="292.94" r="0.4"/><circle cx="443.71" cy="293.57" r="0.4"/><circle cx="439.34" cy="296.94" r="0.4"/><circle cx="457.35" cy="286.97" r="0.4"/><circle cx="463.39" cy="284.25" r="0.4"/><circle cx="470.03" cy="284.92" r="0.4"/><circle cx="469.03" cy="298.83" r="0.4"/><circle cx="460.2" cy="293.45" r="0.4"/><circle cx="457.99" cy="295.97" r="0.4"/><circle cx="469.2" cy="285.99" r="0.4"/><circle cx="471.91" cy="292.82" r="0.4"/><circle cx="471.98" cy="284.24" r="0.4"/><circle cx="463.39" cy="293.25" r="0.4"/><circle cx="450.12" cy="288.98" r="0.4"/><circle cx="466.42" cy="289.28" r="0.4"/><circle cx="478.5" cy="291.21" r="0.4"/><circle cx="465.02" cy="289.11" r="0.4"/><circle cx="451.96" cy="290.54" r="0.4"/><circle cx="463.42" cy="286.14" r="0.4"/><circle cx="463.38" cy="290.59" r="0.4"/><circle cx="453.99" cy="287.77" r="0.4"/><circle cx="450.88" cy="297.99" r="0.4"/><circle cx="451.29" cy="282.72" r="0.4"/><circle cx="467.15" cy="284.85" r="0.4"/><circle cx="468.32" cy="283.61" r="0.4"/><circle cx="478.62" cy="285.61" r="0.4"/><circle cx="463.2" cy="288.04" r="0.4"/><circle cx="461.78" cy="292.24" r="0.4"/><circle cx="475.75" cy="280.62" r="0.4"/><circle cx="454.99" cy="293.58" r="0.4"/><circle cx="467.13" cy="278.08" r="0.4"/><circle cx="455.16" cy="285.07" r="0.4"/><circle cx="466.86" cy="288.78" r="0.4"/><circle cx="454.64" cy="284.57" r="0.4"/><circle cx="463.37" cy="276.47" r="0.4"/><circle cx="466.32" cy="285.47" r="0.4"/><circle cx="477.56" cy="287.46" r="0.4"/><circle cx="457.22" cy="288.15" r="0.4"/><circle cx="458.65" cy="285.23" r="0.4"/><circle cx="464.13" cy="292.19" r="0.4"/><circle cx="450.56" cy="290.82" r="0.4"/><circle cx="474.01" cy="287.42" r="0.4"/><circle cx="454.62" cy="286.29" r="0.4"/><circle cx="452.96" cy="282.67" r="0.4"/><circle cx="470.37" cy="285.18" r="0.4"/><circle cx="454.4" cy="283.05" r="0.4"/><circle cx="458.24" cy="286.53" r="0.4"/><circle cx="473.61" cy="281.21" r="0.4"/><circle cx="464.56" cy="292.59" r="0.4"/><circle cx="466.44" cy="285.29" r="0.4"/><circle cx="448.45" cy="300.2" r="0.4"/><circle cx="465.5" cy="284.3" r="0.4"/><circle cx="459.64" cy="283.68" r="0.4"/><circle cx="452.87" cy="283.36" r="0.4"/><circle cx="466.42" cy="288.99" r="0.4"/><circle cx="464.49" cy="291.07" r="0.4"/><circle cx="465.99" cy="287.06" r="0.4"/><circle cx="456.5" cy="292.98" r="0.4"/><circle cx="471.56" cy="287.71" r="0.4"/><circle cx="470.14" cy="282.41" r="0.4"/><circle cx="456.93" cy="296.3" r="0.4"/><circle cx="458.09" cy="290.57" r="0.4"/><circle cx="460.56" cy="288.5" r="0.4"/><circle cx="459.03" cy="286.11" r="0.4"/><circle cx="452.23" cy="301.46" r="0.4"/><circle cx="460.12" cy="278.42" r="0.4"/><circle cx="453.44" cy="285.05" r="0.4"/><circle cx="452.23" cy="278.01" r="0.4"/><circle cx="468.83" cy="294.01" r="0.4"/><circle cx="461.38" cy="292" r="0.4"/><circle cx="464.14" cy="280.54" r="0.4"/><circle cx="467.86" cy="276.87" r="0.4"/><circle cx="457.14" cy="287.75" r="0.4"/><circle cx="471.18" cy="285.15" r="0.4"/><circle cx="459.64" cy="284.49" r="0.4"/><circle cx="462.62" cy="287.86" r="0.4"/><circle cx="469.53" cy="292.45" r="0.4"/><circle cx="467.26" cy="286.05" r="0.4"/><circle cx="463.5" cy="295.73" r="0.4"/><circle cx="463.32" cy="287.3" r="0.4"/><circle cx="477.51" cy="290.46" r="0.4"/><circle cx="465.82" cy="285.9" r="0.4"/><circle cx="459.13" cy="294.51" r="0.4"/><circle cx="460.25" cy="293.54" r="0.4"/><circle cx="456.43" cy="290.44" r="0.4"/><circle cx="465.05" cy="287.52" r="0.4"/><circle cx="464.23" cy="289.05" r="0.4"/><circle cx="451.93" cy="285.7" r="0.4"/></g>
<ellipse cx="461.9" cy="287.9" rx="11.27" ry="6.72" fill="url(#halo)" transform="rotate(-20 461.9 287.9)"/>
<ellipse cx="461.9" cy="287.9" rx="9.8" ry="5.6" fill="url(#clg)" transform="rotate(-20 461.9 287.9)"/>
</g></svg>
<line x1="475.5" y1="252.5" x2="475.5" y2="295.6" stroke="#707070" stroke-width="1.1"/>
<line x1="450.4" y1="279.5" x2="502.3" y2="279.5" stroke="#707070" stroke-width="1.1"/>
<rect x="452.4" y="255.5" width="1.2" height="0.5" fill="#888"/>
<rect x="452.4" y="256.9" width="2.6" height="0.5" fill="#888"/>
<rect x="452.4" y="291.1" width="1.2" height="0.5" fill="#888"/>
<rect x="452.4" y="292.5" width="2.6" height="0.5" fill="#888"/>
<rect x="496.3" y="255.5" width="1.2" height="0.5" fill="#888"/>
<rect x="496.3" y="256.9" width="2.6" height="0.5" fill="#888"/>
<rect x="496.3" y="291.1" width="1.2" height="0.5" fill="#888"/>
<rect x="496.3" y="292.5" width="2.6" height="0.5" fill="#888"/>
<rect x="450.5" y="252.5" width="52" height="43" fill="none" stroke="#111" stroke-width="1.1"/>
<line x1="448.4" y1="295.6" x2="450.4" y2="295.6" stroke="#111" stroke-width="0.6"/>
<text x="439.4" y="297.1" font-size="4" text-anchor="start" fill="#222" stroke="#222" stroke-width="0.13" textLength="3.8" lengthAdjust="spacingAndGlyphs">10</text>
<text x="443.3" y="295.5" font-size="2.8" text-anchor="start" fill="#222" stroke="#222" stroke-width="0.13">0</text>
<line x1="449.4" y1="292.36" x2="450.4" y2="292.36" stroke="#111" stroke-width="0.4"/>
<line x1="449.4" y1="290.46" x2="450.4" y2="290.46" stroke="#111" stroke-width="0.4"/>
<line x1="449.4" y1="289.11" x2="450.4" y2="289.11" stroke="#111" stroke-width="0.4"/>
<line x1="449.4" y1="288.07" x2="450.4" y2="288.07" stroke="#111" stroke-width="0.4"/>
<line x1="449.4" y1="287.22" x2="450.4" y2="287.22" stroke="#111" stroke-width="0.4"/>
<line x1="449.4" y1="286.49" x2="450.4" y2="286.49" stroke="#111" stroke-width="0.4"/>
<line x1="449.4" y1="285.87" x2="450.4" y2="285.87" stroke="#111" stroke-width="0.4"/>
<line x1="449.4" y1="285.32" x2="450.4" y2="285.32" stroke="#111" stroke-width="0.4"/>
<line x1="448.4" y1="284.83" x2="450.4" y2="284.83" stroke="#111" stroke-width="0.6"/>
<text x="439.4" y="286.33" font-size="4" text-anchor="start" fill="#222" stroke="#222" stroke-width="0.13" textLength="3.8" lengthAdjust="spacingAndGlyphs">10</text>
<text x="443.3" y="284.73" font-size="2.8" text-anchor="start" fill="#222" stroke="#222" stroke-width="0.13">1</text>
<line x1="449.4" y1="281.58" x2="450.4" y2="281.58" stroke="#111" stroke-width="0.4"/>
<line x1="449.4" y1="279.68" x2="450.4" y2="279.68" stroke="#111" stroke-width="0.4"/>
<line x1="449.4" y1="278.34" x2="450.4" y2="278.34" stroke="#111" stroke-width="0.4"/>
<line x1="449.4" y1="277.29" x2="450.4" y2="277.29" stroke="#111" stroke-width="0.4"/>
<line x1="449.4" y1="276.44" x2="450.4" y2="276.44" stroke="#111" stroke-width="0.4"/>
<line x1="449.4" y1="275.72" x2="450.4" y2="275.72" stroke="#111" stroke-width="0.4"/>
<line x1="449.4" y1="275.09" x2="450.4" y2="275.09" stroke="#111" stroke-width="0.4"/>
<line x1="449.4" y1="274.54" x2="450.4" y2="274.54" stroke="#111" stroke-width="0.4"/>
<line x1="448.4" y1="274.05" x2="450.4" y2="274.05" stroke="#111" stroke-width="0.6"/>
<text x="439.4" y="275.55" font-size="4" text-anchor="start" fill="#222" stroke="#222" stroke-width="0.13" textLength="3.8" lengthAdjust="spacingAndGlyphs">10</text>
<text x="443.3" y="273.95" font-size="2.8" text-anchor="start" fill="#222" stroke="#222" stroke-width="0.13">2</text>
<line x1="449.4" y1="270.81" x2="450.4" y2="270.81" stroke="#111" stroke-width="0.4"/>
<line x1="449.4" y1="268.91" x2="450.4" y2="268.91" stroke="#111" stroke-width="0.4"/>
<line x1="449.4" y1="267.56" x2="450.4" y2="267.56" stroke="#111" stroke-width="0.4"/>
<line x1="449.4" y1="266.52" x2="450.4" y2="266.52" stroke="#111" stroke-width="0.4"/>
<line x1="449.4" y1="265.67" x2="450.4" y2="265.67" stroke="#111" stroke-width="0.4"/>
<line x1="449.4" y1="264.94" x2="450.4" y2="264.94" stroke="#111" stroke-width="0.4"/>
<line x1="449.4" y1="264.32" x2="450.4" y2="264.32" stroke="#111" stroke-width="0.4"/>
<line x1="449.4" y1="263.77" x2="450.4" y2="263.77" stroke="#111" stroke-width="0.4"/>
<line x1="448.4" y1="263.27" x2="450.4" y2="263.27" stroke="#111" stroke-width="0.6"/>
<text x="439.4" y="264.77" font-size="4" text-anchor="start" fill="#222" stroke="#222" stroke-width="0.13" textLength="3.8" lengthAdjust="spacingAndGlyphs">10</text>
<text x="443.3" y="263.17" font-size="2.8" text-anchor="start" fill="#222" stroke="#222" stroke-width="0.13">3</text>
<line x1="449.4" y1="260.03" x2="450.4" y2="260.03" stroke="#111" stroke-width="0.4"/>
<line x1="449.4" y1="258.13" x2="450.4" y2="258.13" stroke="#111" stroke-width="0.4"/>
<line x1="449.4" y1="256.79" x2="450.4" y2="256.79" stroke="#111" stroke-width="0.4"/>
<line x1="449.4" y1="255.74" x2="450.4" y2="255.74" stroke="#111" stroke-width="0.4"/>
<line x1="449.4" y1="254.89" x2="450.4" y2="254.89" stroke="#111" stroke-width="0.4"/>
<line x1="449.4" y1="254.17" x2="450.4" y2="254.17" stroke="#111" stroke-width="0.4"/>
<line x1="449.4" y1="253.54" x2="450.4" y2="253.54" stroke="#111" stroke-width="0.4"/>
<line x1="449.4" y1="252.99" x2="450.4" y2="252.99" stroke="#111" stroke-width="0.4"/>
<line x1="448.4" y1="252.5" x2="450.4" y2="252.5" stroke="#111" stroke-width="0.6"/>
<text x="439.4" y="254" font-size="4" text-anchor="start" fill="#222" stroke="#222" stroke-width="0.13" textLength="3.8" lengthAdjust="spacingAndGlyphs">10</text>
<text x="443.3" y="252.4" font-size="2.8" text-anchor="start" fill="#222" stroke="#222" stroke-width="0.13">4</text>
<line x1="450.4" y1="295.6" x2="450.4" y2="297.6" stroke="#111" stroke-width="0.6"/>
<text x="447.8" y="304.6" font-size="4" text-anchor="start" fill="#222" stroke="#222" stroke-width="0.13" textLength="3.8" lengthAdjust="spacingAndGlyphs">10</text>
<text x="451.7" y="303.1" font-size="2.8" text-anchor="start" fill="#222" stroke="#222" stroke-width="0.13">0</text>
<line x1="454.31" y1="295.6" x2="454.31" y2="296.6" stroke="#111" stroke-width="0.4"/>
<line x1="456.59" y1="295.6" x2="456.59" y2="296.6" stroke="#111" stroke-width="0.4"/>
<line x1="458.21" y1="295.6" x2="458.21" y2="296.6" stroke="#111" stroke-width="0.4"/>
<line x1="459.47" y1="295.6" x2="459.47" y2="296.6" stroke="#111" stroke-width="0.4"/>
<line x1="460.5" y1="295.6" x2="460.5" y2="296.6" stroke="#111" stroke-width="0.4"/>
<line x1="461.37" y1="295.6" x2="461.37" y2="296.6" stroke="#111" stroke-width="0.4"/>
<line x1="462.12" y1="295.6" x2="462.12" y2="296.6" stroke="#111" stroke-width="0.4"/>
<line x1="462.78" y1="295.6" x2="462.78" y2="296.6" stroke="#111" stroke-width="0.4"/>
<line x1="463.38" y1="295.6" x2="463.38" y2="297.6" stroke="#111" stroke-width="0.6"/>
<text x="460.77" y="304.6" font-size="4" text-anchor="start" fill="#222" stroke="#222" stroke-width="0.13" textLength="3.8" lengthAdjust="spacingAndGlyphs">10</text>
<text x="464.68" y="303.1" font-size="2.8" text-anchor="start" fill="#222" stroke="#222" stroke-width="0.13">1</text>
<line x1="467.28" y1="295.6" x2="467.28" y2="296.6" stroke="#111" stroke-width="0.4"/>
<line x1="469.57" y1="295.6" x2="469.57" y2="296.6" stroke="#111" stroke-width="0.4"/>
<line x1="471.19" y1="295.6" x2="471.19" y2="296.6" stroke="#111" stroke-width="0.4"/>
<line x1="472.44" y1="295.6" x2="472.44" y2="296.6" stroke="#111" stroke-width="0.4"/>
<line x1="473.47" y1="295.6" x2="473.47" y2="296.6" stroke="#111" stroke-width="0.4"/>
<line x1="474.34" y1="295.6" x2="474.34" y2="296.6" stroke="#111" stroke-width="0.4"/>
<line x1="475.09" y1="295.6" x2="475.09" y2="296.6" stroke="#111" stroke-width="0.4"/>
<line x1="475.76" y1="295.6" x2="475.76" y2="296.6" stroke="#111" stroke-width="0.4"/>
<line x1="476.35" y1="295.6" x2="476.35" y2="297.6" stroke="#111" stroke-width="0.6"/>
<text x="473.75" y="304.6" font-size="4" text-anchor="start" fill="#222" stroke="#222" stroke-width="0.13" textLength="3.8" lengthAdjust="spacingAndGlyphs">10</text>
<text x="477.65" y="303.1" font-size="2.8" text-anchor="start" fill="#222" stroke="#222" stroke-width="0.13">2</text>
<line x1="480.26" y1="295.6" x2="480.26" y2="296.6" stroke="#111" stroke-width="0.4"/>
<line x1="482.54" y1="295.6" x2="482.54" y2="296.6" stroke="#111" stroke-width="0.4"/>
<line x1="484.16" y1="295.6" x2="484.16" y2="296.6" stroke="#111" stroke-width="0.4"/>
<line x1="485.42" y1="295.6" x2="485.42" y2="296.6" stroke="#111" stroke-width="0.4"/>
<line x1="486.45" y1="295.6" x2="486.45" y2="296.6" stroke="#111" stroke-width="0.4"/>
<line x1="487.32" y1="295.6" x2="487.32" y2="296.6" stroke="#111" stroke-width="0.4"/>
<line x1="488.07" y1="295.6" x2="488.07" y2="296.6" stroke="#111" stroke-width="0.4"/>
<line x1="488.73" y1="295.6" x2="488.73" y2="296.6" stroke="#111" stroke-width="0.4"/>
<line x1="489.32" y1="295.6" x2="489.32" y2="297.6" stroke="#111" stroke-width="0.6"/>
<text x="486.72" y="304.6" font-size="4" text-anchor="start" fill="#222" stroke="#222" stroke-width="0.13" textLength="3.8" lengthAdjust="spacingAndGlyphs">10</text>
<text x="490.62" y="303.1" font-size="2.8" text-anchor="start" fill="#222" stroke="#222" stroke-width="0.13">3</text>
<line x1="493.23" y1="295.6" x2="493.23" y2="296.6" stroke="#111" stroke-width="0.4"/>
<line x1="495.52" y1="295.6" x2="495.52" y2="296.6" stroke="#111" stroke-width="0.4"/>
<line x1="497.14" y1="295.6" x2="497.14" y2="296.6" stroke="#111" stroke-width="0.4"/>
<line x1="498.39" y1="295.6" x2="498.39" y2="296.6" stroke="#111" stroke-width="0.4"/>
<line x1="499.42" y1="295.6" x2="499.42" y2="296.6" stroke="#111" stroke-width="0.4"/>
<line x1="500.29" y1="295.6" x2="500.29" y2="296.6" stroke="#111" stroke-width="0.4"/>
<line x1="501.04" y1="295.6" x2="501.04" y2="296.6" stroke="#111" stroke-width="0.4"/>
<line x1="501.71" y1="295.6" x2="501.71" y2="296.6" stroke="#111" stroke-width="0.4"/>
<line x1="502.3" y1="295.6" x2="502.3" y2="297.6" stroke="#111" stroke-width="0.6"/>
<text x="499.7" y="304.6" font-size="4" text-anchor="start" fill="#222" stroke="#222" stroke-width="0.13" textLength="3.8" lengthAdjust="spacingAndGlyphs">10</text>
<text x="503.6" y="303.1" font-size="2.8" text-anchor="start" fill="#222" stroke="#222" stroke-width="0.13">4</text>
<text x="482.8" y="260.85" font-size="7.4" text-anchor="start" fill="#1a1a1a" stroke="#1a1a1a" stroke-width="0.05" textLength="12.8" lengthAdjust="spacingAndGlyphs">9.25</text>
<text x="482.8" y="292.45" font-size="7.4" text-anchor="start" fill="#1a1a1a" stroke="#1a1a1a" stroke-width="0.05" textLength="12.8" lengthAdjust="spacingAndGlyphs">1.16</text>
<text x="309.4" y="181.6" font-size="6.4" text-anchor="middle" fill="#111" stroke="#111" stroke-width="0.13" textLength="15.5" lengthAdjust="spacingAndGlyphs">si-NC</text>
<text x="401.5" y="181.8" font-size="6.4" text-anchor="middle" fill="#111" stroke="#111" stroke-width="0.13" textLength="41.5" lengthAdjust="spacingAndGlyphs">si-circMYBL2-1</text>
<text x="477.2" y="181.8" font-size="6.4" text-anchor="middle" fill="#111" stroke="#111" stroke-width="0.13" textLength="42.4" lengthAdjust="spacingAndGlyphs">si-circMYBL2-2</text>
<text x="507" y="207.2" font-size="6.8" text-anchor="middle" fill="#111" stroke="#111" stroke-width="0.13" transform="rotate(90 507 207.2)" textLength="29.4" lengthAdjust="spacingAndGlyphs">MOLM-13</text>
<text x="507" y="274.2" font-size="6.8" text-anchor="middle" fill="#111" stroke="#111" stroke-width="0.13" transform="rotate(90 507 274.2)" textLength="16.4" lengthAdjust="spacingAndGlyphs">THP-1</text>
<line x1="280.1" y1="189.5" x2="280.1" y2="297.6" stroke="#666" stroke-width="1"/>
<path d="M280.1 185.7 L282.4 191.1 L277.8 191.1 Z" fill="#111"/>
<text x="275.4" y="242" font-size="8.4" text-anchor="middle" fill="#111" stroke="#111" stroke-width="0.05" transform="rotate(-90 275.4 242)" textLength="18.6" lengthAdjust="spacingAndGlyphs">7AAD</text>
<line x1="300" y1="309.2" x2="498.5" y2="309.2" stroke="#555" stroke-width="1"/>
<path d="M502.8 309.2 L497.4 306.9 L497.4 311.5 Z" fill="#111"/>
<text x="401.5" y="318.5" font-size="6.6" text-anchor="middle" fill="#111" stroke="#111" stroke-width="0.13" textLength="29.4" lengthAdjust="spacingAndGlyphs">Annexin V</text>
<line x1="199.5" y1="369" x2="199.5" y2="446.4" stroke="#000" stroke-width="1.1"/>
<line x1="199" y1="445.9" x2="326" y2="445.9" stroke="#000" stroke-width="1.1"/>
<line x1="196" y1="445.9" x2="199" y2="445.9" stroke="#111" stroke-width="0.8"/>
<text x="193.1" y="448.2" font-size="6.4" text-anchor="end" fill="#111" stroke="#111" stroke-width="0.13" textLength="3.45" lengthAdjust="spacingAndGlyphs">0</text>
<line x1="196" y1="430.72" x2="199" y2="430.72" stroke="#111" stroke-width="0.8"/>
<text x="193.1" y="433.02" font-size="6.4" text-anchor="end" fill="#111" stroke="#111" stroke-width="0.13" textLength="6.9" lengthAdjust="spacingAndGlyphs">10</text>
<line x1="196" y1="415.54" x2="199" y2="415.54" stroke="#111" stroke-width="0.8"/>
<text x="193.1" y="417.84" font-size="6.4" text-anchor="end" fill="#111" stroke="#111" stroke-width="0.13" textLength="6.9" lengthAdjust="spacingAndGlyphs">20</text>
<line x1="196" y1="400.36" x2="199" y2="400.36" stroke="#111" stroke-width="0.8"/>
<text x="193.1" y="402.66" font-size="6.4" text-anchor="end" fill="#111" stroke="#111" stroke-width="0.13" textLength="6.9" lengthAdjust="spacingAndGlyphs">30</text>
<line x1="196" y1="385.18" x2="199" y2="385.18" stroke="#111" stroke-width="0.8"/>
<text x="193.1" y="387.48" font-size="6.4" text-anchor="end" fill="#111" stroke="#111" stroke-width="0.13" textLength="6.9" lengthAdjust="spacingAndGlyphs">40</text>
<line x1="196" y1="370" x2="199" y2="370" stroke="#111" stroke-width="0.8"/>
<text x="193.1" y="372.3" font-size="6.4" text-anchor="end" fill="#111" stroke="#111" stroke-width="0.13" textLength="6.9" lengthAdjust="spacingAndGlyphs">50</text>
<text x="182.5" y="407" font-size="8.3" text-anchor="middle" fill="#111" stroke="#111" stroke-width="0.05" transform="rotate(-90 182.5 407)" textLength="81.2" lengthAdjust="spacingAndGlyphs">Annexin V-positive cells (%)</text>
<text x="209.1" y="363.9" font-size="5.8" text-anchor="middle" fill="#111" stroke="#111" stroke-width="0.13" textLength="17.8" lengthAdjust="spacingAndGlyphs">MV4-11</text>
<line x1="200.2" y1="368.5" x2="217.7" y2="368.5" stroke="#1a1a1a" stroke-width="1"/>
<path d="M200.1 445.9 L200.1 425.65 Q200.1 424.65 201.1 424.65 L204.1 424.65 Q205.1 424.65 205.1 425.65 L205.1 445.9 Z" fill="#6aab3c"/>
<line x1="202.6" y1="445.9" x2="202.6" y2="448.9" stroke="#111" stroke-width="0.9"/>
<path d="M207 445.9 L207 401.36 Q207 400.36 208 400.36 L211 400.36 Q212 400.36 212 401.36 L212 445.9 Z" fill="#a8002a"/>
<line x1="209.5" y1="445.9" x2="209.5" y2="448.9" stroke="#111" stroke-width="0.9"/>
<path d="M213.7 445.9 L213.7 411.99 Q213.7 410.99 214.7 410.99 L217.7 410.99 Q218.7 410.99 218.7 411.99 L218.7 445.9 Z" fill="#2a4a86"/>
<line x1="216.2" y1="445.9" x2="216.2" y2="448.9" stroke="#111" stroke-width="0.9"/>
<text x="204.6" y="455.3" font-size="5.3" text-anchor="end" fill="#111" stroke="#111" stroke-width="0.13" transform="rotate(-45 204.6 455.3)">si-NC</text>
<text x="211.5" y="455.3" font-size="5.3" text-anchor="end" fill="#111" stroke="#111" stroke-width="0.13" transform="rotate(-45 211.5 455.3)">si-circMYBL2-1</text>
<text x="218.2" y="455.3" font-size="5.3" text-anchor="end" fill="#111" stroke="#111" stroke-width="0.13" transform="rotate(-45 218.2 455.3)">si-circMYBL2-2</text>
<text x="235.1" y="363.9" font-size="5.8" text-anchor="middle" fill="#111" stroke="#111" stroke-width="0.13" textLength="23.8" lengthAdjust="spacingAndGlyphs">MOLM-13</text>
<line x1="226.8" y1="368.5" x2="243.3" y2="368.5" stroke="#1a1a1a" stroke-width="1"/>
<path d="M227 445.9 L227 432.18 Q227 431.18 228 431.18 L231 431.18 Q232 431.18 232 432.18 L232 445.9 Z" fill="#6aab3c"/>
<line x1="229.5" y1="445.9" x2="229.5" y2="448.9" stroke="#111" stroke-width="0.9"/>
<path d="M233.7 445.9 L233.7 380.56 Q233.7 379.56 234.7 379.56 L237.7 379.56 Q238.7 379.56 238.7 380.56 L238.7 445.9 Z" fill="#a8002a"/>
<line x1="236.2" y1="445.9" x2="236.2" y2="448.9" stroke="#111" stroke-width="0.9"/>
<path d="M240.6 445.9 L240.6 419.12 Q240.6 418.12 241.6 418.12 L244.6 418.12 Q245.6 418.12 245.6 419.12 L245.6 445.9 Z" fill="#2a4a86"/>
<line x1="243.1" y1="445.9" x2="243.1" y2="448.9" stroke="#111" stroke-width="0.9"/>
<text x="231.5" y="455.3" font-size="5.3" text-anchor="end" fill="#111" stroke="#111" stroke-width="0.13" transform="rotate(-45 231.5 455.3)">si-NC</text>
<text x="238.2" y="455.3" font-size="5.3" text-anchor="end" fill="#111" stroke="#111" stroke-width="0.13" transform="rotate(-45 238.2 455.3)">si-circMYBL2-1</text>
<text x="245.1" y="455.3" font-size="5.3" text-anchor="end" fill="#111" stroke="#111" stroke-width="0.13" transform="rotate(-45 245.1 455.3)">si-circMYBL2-2</text>
<text x="261.2" y="363.9" font-size="5.8" text-anchor="middle" fill="#111" stroke="#111" stroke-width="0.13" textLength="14.3" lengthAdjust="spacingAndGlyphs">THP-1</text>
<line x1="252.7" y1="368.5" x2="269.8" y2="368.5" stroke="#1a1a1a" stroke-width="1"/>
<path d="M253.6 445.9 L253.6 428.84 Q253.6 427.84 254.6 427.84 L257.6 427.84 Q258.6 427.84 258.6 428.84 L258.6 445.9 Z" fill="#6aab3c"/>
<line x1="256.1" y1="445.9" x2="256.1" y2="448.9" stroke="#111" stroke-width="0.9"/>
<path d="M260.2 445.9 L260.2 428.99 Q260.2 427.99 261.2 427.99 L264.2 427.99 Q265.2 427.99 265.2 428.99 L265.2 445.9 Z" fill="#a8002a"/>
<line x1="262.7" y1="445.9" x2="262.7" y2="448.9" stroke="#111" stroke-width="0.9"/>
<path d="M267 445.9 L267 430.05 Q267 429.05 268 429.05 L271 429.05 Q272 429.05 272 430.05 L272 445.9 Z" fill="#2a4a86"/>
<line x1="269.5" y1="445.9" x2="269.5" y2="448.9" stroke="#111" stroke-width="0.9"/>
<text x="258.1" y="455.3" font-size="5.3" text-anchor="end" fill="#111" stroke="#111" stroke-width="0.13" transform="rotate(-45 258.1 455.3)">si-NC</text>
<text x="264.7" y="455.3" font-size="5.3" text-anchor="end" fill="#111" stroke="#111" stroke-width="0.13" transform="rotate(-45 264.7 455.3)">si-circMYBL2-1</text>
<text x="271.5" y="455.3" font-size="5.3" text-anchor="end" fill="#111" stroke="#111" stroke-width="0.13" transform="rotate(-45 271.5 455.3)">si-circMYBL2-2</text>
<text x="286.6" y="363.9" font-size="5.8" text-anchor="middle" fill="#111" stroke="#111" stroke-width="0.13" textLength="12.8" lengthAdjust="spacingAndGlyphs">ML-2</text>
<line x1="278" y1="368.5" x2="294.9" y2="368.5" stroke="#1a1a1a" stroke-width="1"/>
<path d="M280.4 445.9 L280.4 441.28 Q280.4 440.28 281.4 440.28 L284.4 440.28 Q285.4 440.28 285.4 441.28 L285.4 445.9 Z" fill="#6aab3c"/>
<line x1="282.9" y1="445.9" x2="282.9" y2="448.9" stroke="#111" stroke-width="0.9"/>
<path d="M287 445.9 L287 440.37 Q287 439.37 288 439.37 L291 439.37 Q292 439.37 292 440.37 L292 445.9 Z" fill="#a8002a"/>
<line x1="289.5" y1="445.9" x2="289.5" y2="448.9" stroke="#111" stroke-width="0.9"/>
<path d="M293.8 445.9 L293.8 439.92 Q293.8 438.92 294.8 438.92 L297.8 438.92 Q298.8 438.92 298.8 439.92 L298.8 445.9 Z" fill="#2a4a86"/>
<line x1="296.3" y1="445.9" x2="296.3" y2="448.9" stroke="#111" stroke-width="0.9"/>
<text x="284.9" y="455.3" font-size="5.3" text-anchor="end" fill="#111" stroke="#111" stroke-width="0.13" transform="rotate(-45 284.9 455.3)">si-NC</text>
<text x="291.5" y="455.3" font-size="5.3" text-anchor="end" fill="#111" stroke="#111" stroke-width="0.13" transform="rotate(-45 291.5 455.3)">si-circMYBL2-1</text>
<text x="298.3" y="455.3" font-size="5.3" text-anchor="end" fill="#111" stroke="#111" stroke-width="0.13" transform="rotate(-45 298.3 455.3)">si-circMYBL2-2</text>
<text x="312.6" y="363.9" font-size="5.8" text-anchor="middle" fill="#111" stroke="#111" stroke-width="0.13" textLength="12.2" lengthAdjust="spacingAndGlyphs">HL60</text>
<line x1="304" y1="368.5" x2="321.1" y2="368.5" stroke="#1a1a1a" stroke-width="1"/>
<path d="M307 445.9 L307 424.13 Q307 423.13 308 423.13 L311 423.13 Q312 423.13 312 424.13 L312 445.9 Z" fill="#6aab3c"/>
<line x1="309.5" y1="445.9" x2="309.5" y2="448.9" stroke="#111" stroke-width="0.9"/>
<path d="M313.9 445.9 L313.9 425.65 Q313.9 424.65 314.9 424.65 L317.9 424.65 Q318.9 424.65 318.9 425.65 L318.9 445.9 Z" fill="#a8002a"/>
<line x1="316.4" y1="445.9" x2="316.4" y2="448.9" stroke="#111" stroke-width="0.9"/>
<path d="M320.6 445.9 L320.6 430.35 Q320.6 429.35 321.6 429.35 L324.6 429.35 Q325.6 429.35 325.6 430.35 L325.6 445.9 Z" fill="#2a4a86"/>
<line x1="323.1" y1="445.9" x2="323.1" y2="448.9" stroke="#111" stroke-width="0.9"/>
<text x="311.5" y="455.3" font-size="5.3" text-anchor="end" fill="#111" stroke="#111" stroke-width="0.13" transform="rotate(-45 311.5 455.3)">si-NC</text>
<text x="318.4" y="455.3" font-size="5.3" text-anchor="end" fill="#111" stroke="#111" stroke-width="0.13" transform="rotate(-45 318.4 455.3)">si-circMYBL2-1</text>
<text x="325.1" y="455.3" font-size="5.3" text-anchor="end" fill="#111" stroke="#111" stroke-width="0.13" transform="rotate(-45 325.1 455.3)">si-circMYBL2-2</text>
<text x="209.4" y="396.7" font-size="5" text-anchor="middle" fill="#111" stroke="#111" stroke-width="0.13" textLength="6.6" lengthAdjust="spacingAndGlyphs">***</text>
<text x="216.4" y="407.3" font-size="5" text-anchor="middle" fill="#111" stroke="#111" stroke-width="0.13" textLength="6.6" lengthAdjust="spacingAndGlyphs">***</text>
<text x="235.6" y="376.7" font-size="5" text-anchor="middle" fill="#111" stroke="#111" stroke-width="0.13" textLength="6.6" lengthAdjust="spacingAndGlyphs">***</text>
<text x="243" y="415" font-size="5" text-anchor="middle" fill="#111" stroke="#111" stroke-width="0.13" textLength="6.6" lengthAdjust="spacingAndGlyphs">***</text>
<line x1="366.5" y1="368.2" x2="366.5" y2="446.3" stroke="#000" stroke-width="1.1"/>
<line x1="366" y1="445.8" x2="436.1" y2="445.8" stroke="#000" stroke-width="1.1"/>
<line x1="363.5" y1="445.8" x2="366.5" y2="445.8" stroke="#111" stroke-width="0.8"/>
<text x="360.7" y="447.74" font-size="5.4" text-anchor="end" fill="#111" stroke="#111" stroke-width="0.13" textLength="2.8" lengthAdjust="spacingAndGlyphs">0</text>
<line x1="363.5" y1="426.65" x2="366.5" y2="426.65" stroke="#111" stroke-width="0.8"/>
<text x="360.7" y="428.59" font-size="5.4" text-anchor="end" fill="#111" stroke="#111" stroke-width="0.13" textLength="5.6" lengthAdjust="spacingAndGlyphs">20</text>
<line x1="363.5" y1="407.5" x2="366.5" y2="407.5" stroke="#111" stroke-width="0.8"/>
<text x="360.7" y="409.44" font-size="5.4" text-anchor="end" fill="#111" stroke="#111" stroke-width="0.13" textLength="5.6" lengthAdjust="spacingAndGlyphs">40</text>
<line x1="363.5" y1="388.35" x2="366.5" y2="388.35" stroke="#111" stroke-width="0.8"/>
<text x="360.7" y="390.29" font-size="5.4" text-anchor="end" fill="#111" stroke="#111" stroke-width="0.13" textLength="5.6" lengthAdjust="spacingAndGlyphs">60</text>
<line x1="363.5" y1="369.2" x2="366.5" y2="369.2" stroke="#111" stroke-width="0.8"/>
<text x="360.7" y="371.14" font-size="5.4" text-anchor="end" fill="#111" stroke="#111" stroke-width="0.13" textLength="5.6" lengthAdjust="spacingAndGlyphs">80</text>
<text x="350" y="406" font-size="8.3" text-anchor="middle" fill="#111" stroke="#111" stroke-width="0.05" transform="rotate(-90 350 406)" textLength="80.9" lengthAdjust="spacingAndGlyphs">Annexin V-positive cells (%)</text>
<text x="376.6" y="364" font-size="6.2" text-anchor="middle" fill="#111" stroke="#111" stroke-width="0.13" textLength="5.2" lengthAdjust="spacingAndGlyphs">#1</text>
<line x1="368.2" y1="367.5" x2="385.5" y2="367.5" stroke="#1a1a1a" stroke-width="1"/>
<path d="M367.5 445.8 L367.5 419.51 Q367.5 418.51 368.5 418.51 L371.1 418.51 Q372.1 418.51 372.1 419.51 L372.1 445.8 Z" fill="#6aab3c"/>
<line x1="369.8" y1="445.8" x2="369.8" y2="448.8" stroke="#111" stroke-width="0.9"/>
<path d="M373.7 445.8 L373.7 387.44 Q373.7 386.44 374.7 386.44 L377.3 386.44 Q378.3 386.44 378.3 387.44 L378.3 445.8 Z" fill="#a8002a"/>
<line x1="376" y1="445.8" x2="376" y2="448.8" stroke="#111" stroke-width="0.9"/>
<path d="M380.2 445.8 L380.2 397.01 Q380.2 396.01 381.2 396.01 L383.8 396.01 Q384.8 396.01 384.8 397.01 L384.8 445.8 Z" fill="#2a4a86"/>
<line x1="382.5" y1="445.8" x2="382.5" y2="448.8" stroke="#111" stroke-width="0.9"/>
<text x="371.8" y="455.2" font-size="5.1" text-anchor="end" fill="#111" stroke="#111" stroke-width="0.13" transform="rotate(-45 371.8 455.2)">si-NC</text>
<text x="378" y="455.2" font-size="5.1" text-anchor="end" fill="#111" stroke="#111" stroke-width="0.13" transform="rotate(-45 378 455.2)">si-circMYBL2-1</text>
<text x="384.5" y="455.2" font-size="5.1" text-anchor="end" fill="#111" stroke="#111" stroke-width="0.13" transform="rotate(-45 384.5 455.2)">si-circMYBL2-2</text>
<text x="401.4" y="364" font-size="6.2" text-anchor="middle" fill="#111" stroke="#111" stroke-width="0.13" textLength="5.2" lengthAdjust="spacingAndGlyphs">#2</text>
<line x1="393" y1="367.5" x2="410.8" y2="367.5" stroke="#1a1a1a" stroke-width="1"/>
<path d="M392.5 445.8 L392.5 428.61 Q392.5 427.61 393.5 427.61 L396.1 427.61 Q397.1 427.61 397.1 428.61 L397.1 445.8 Z" fill="#6aab3c"/>
<line x1="394.8" y1="445.8" x2="394.8" y2="448.8" stroke="#111" stroke-width="0.9"/>
<path d="M398.6 445.8 L398.6 420.28 Q398.6 419.28 399.6 419.28 L402.2 419.28 Q403.2 419.28 403.2 420.28 L403.2 445.8 Z" fill="#a8002a"/>
<line x1="400.9" y1="445.8" x2="400.9" y2="448.8" stroke="#111" stroke-width="0.9"/>
<path d="M404.7 445.8 L404.7 423.34 Q404.7 422.34 405.7 422.34 L408.3 422.34 Q409.3 422.34 409.3 423.34 L409.3 445.8 Z" fill="#2a4a86"/>
<line x1="407" y1="445.8" x2="407" y2="448.8" stroke="#111" stroke-width="0.9"/>
<text x="396.8" y="455.2" font-size="5.1" text-anchor="end" fill="#111" stroke="#111" stroke-width="0.13" transform="rotate(-45 396.8 455.2)">si-NC</text>
<text x="402.9" y="455.2" font-size="5.1" text-anchor="end" fill="#111" stroke="#111" stroke-width="0.13" transform="rotate(-45 402.9 455.2)">si-circMYBL2-1</text>
<text x="409" y="455.2" font-size="5.1" text-anchor="end" fill="#111" stroke="#111" stroke-width="0.13" transform="rotate(-45 409 455.2)">si-circMYBL2-2</text>
<text x="426" y="364" font-size="6.2" text-anchor="middle" fill="#111" stroke="#111" stroke-width="0.13" textLength="5.2" lengthAdjust="spacingAndGlyphs">#4</text>
<line x1="417.5" y1="367.5" x2="434.8" y2="367.5" stroke="#1a1a1a" stroke-width="1"/>
<path d="M417.6 445.8 L417.6 419.7 Q417.6 418.7 418.6 418.7 L421.2 418.7 Q422.2 418.7 422.2 419.7 L422.2 445.8 Z" fill="#6aab3c"/>
<line x1="419.9" y1="445.8" x2="419.9" y2="448.8" stroke="#111" stroke-width="0.9"/>
<path d="M423.4 445.8 L423.4 420.47 Q423.4 419.47 424.4 419.47 L427 419.47 Q428 419.47 428 420.47 L428 445.8 Z" fill="#a8002a"/>
<line x1="425.7" y1="445.8" x2="425.7" y2="448.8" stroke="#111" stroke-width="0.9"/>
<path d="M429.7 445.8 L429.7 419.03 Q429.7 418.03 430.7 418.03 L433.3 418.03 Q434.3 418.03 434.3 419.03 L434.3 445.8 Z" fill="#2a4a86"/>
<line x1="432" y1="445.8" x2="432" y2="448.8" stroke="#111" stroke-width="0.9"/>
<text x="421.9" y="455.2" font-size="5.1" text-anchor="end" fill="#111" stroke="#111" stroke-width="0.13" transform="rotate(-45 421.9 455.2)">si-NC</text>
<text x="427.7" y="455.2" font-size="5.1" text-anchor="end" fill="#111" stroke="#111" stroke-width="0.13" transform="rotate(-45 427.7 455.2)">si-circMYBL2-1</text>
<text x="434" y="455.2" font-size="5.1" text-anchor="end" fill="#111" stroke="#111" stroke-width="0.13" transform="rotate(-45 434 455.2)">si-circMYBL2-2</text>
<text x="375.7" y="384.7" font-size="5" text-anchor="middle" fill="#111" stroke="#111" stroke-width="0.13" textLength="6.6" lengthAdjust="spacingAndGlyphs">***</text>
<text x="382.3" y="394.9" font-size="5" text-anchor="middle" fill="#111" stroke="#111" stroke-width="0.13" textLength="6.6" lengthAdjust="spacingAndGlyphs">***</text>
<text x="400.6" y="417.7" font-size="5" text-anchor="middle" fill="#111" stroke="#111" stroke-width="0.13" textLength="6.6" lengthAdjust="spacingAndGlyphs">***</text>
<text x="407.3" y="420.4" font-size="5" text-anchor="middle" fill="#111" stroke="#111" stroke-width="0.13" textLength="6.6" lengthAdjust="spacingAndGlyphs">***</text>
<text x="377" y="355.4" font-size="5.6" text-anchor="middle" fill="#111" stroke="#111" stroke-width="0.13" textLength="16.9" lengthAdjust="spacingAndGlyphs">Patient</text>
<line x1="388" y1="445.8" x2="388" y2="448.2" stroke="#111" stroke-width="0.7"/>
<line x1="413.3" y1="445.8" x2="413.3" y2="448.2" stroke="#111" stroke-width="0.7"/>
</svg>
</body></html>
